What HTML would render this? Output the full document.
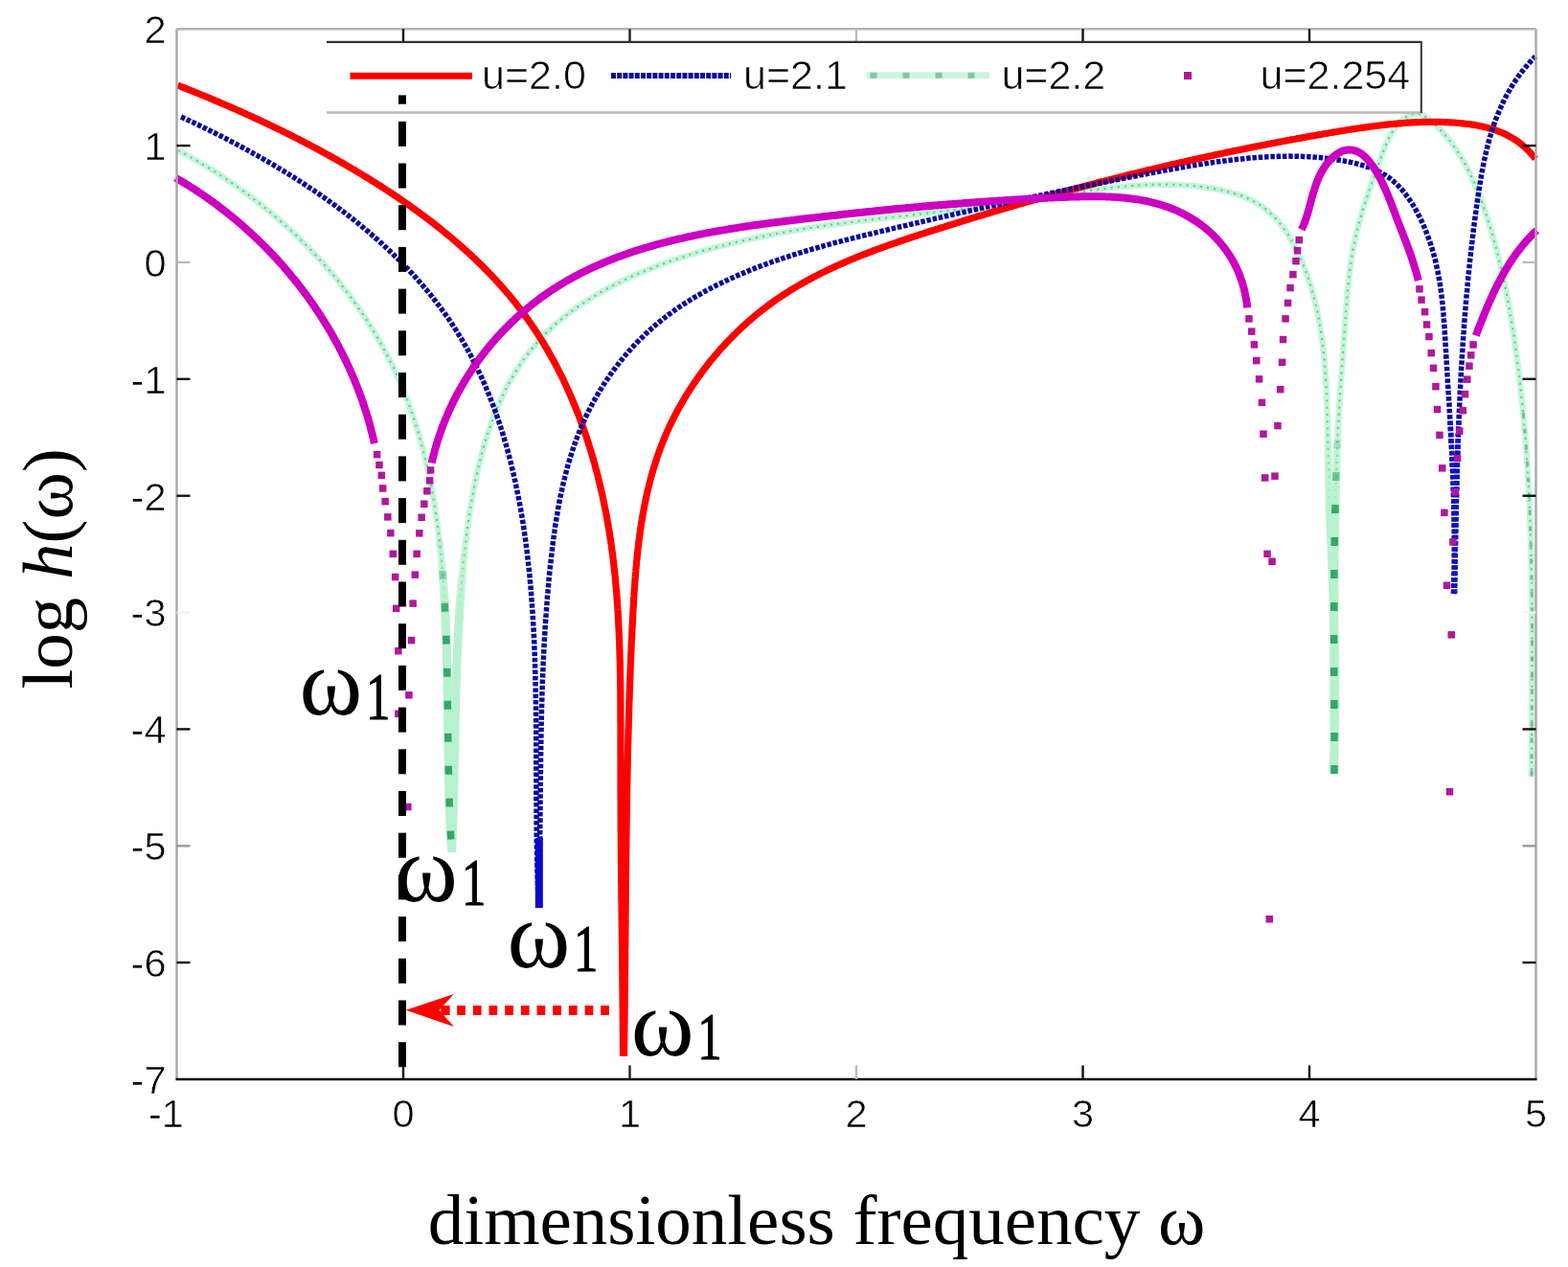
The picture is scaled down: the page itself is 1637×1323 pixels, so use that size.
<!DOCTYPE html>
<html><head><meta charset="utf-8"><style>
html,body{margin:0;padding:0;background:#fff;}
svg{display:block;}
.tk{font-family:"Liberation Sans",Arial,sans-serif;font-size:41.5px;fill:#000;stroke:#fff;stroke-width:0.6px;}
.lg{font-family:"Liberation Sans",Arial,sans-serif;font-size:43px;fill:#000;stroke:#fff;stroke-width:0.7px;}
.tm{font-family:"Liberation Serif","Times New Roman",serif;fill:#000;}
</style></head><body>
<svg width="1637" height="1323" viewBox="0 0 1637 1323">
<rect width="1637" height="1323" fill="#fff"/>
<g fill="none" stroke-linejoin="round" stroke-linecap="butt">
<path d="M186.0,157.0 L187.7,158.0 L189.5,158.9 L191.3,159.9 L193.0,160.8 L194.8,161.8 L196.5,162.8 L198.3,163.7 L200.0,164.7 L201.8,165.7 L203.5,166.7 L205.2,167.7 L207.0,168.7 L208.7,169.7 L210.4,170.8 L212.1,171.8 L213.9,172.8 L215.6,173.9 L217.3,174.9 L219.0,176.0 L220.7,177.0 L222.4,178.1 L224.1,179.2 L225.8,180.3 L227.5,181.4 L229.2,182.4 L230.9,183.6 L232.5,184.7 L234.2,185.8 L235.9,186.9 L237.6,188.0 L239.2,189.2 L240.9,190.3 L242.6,191.4 L244.2,192.6 L245.9,193.7 L247.5,194.9 L249.1,196.1 L250.8,197.3 L252.4,198.4 L254.0,199.6 L255.7,200.8 L257.3,202.0 L258.9,203.2 L260.5,204.4 L262.1,205.7 L263.7,206.9 L265.3,208.1 L266.9,209.3 L268.5,210.6 L270.1,211.8 L271.7,213.1 L273.3,214.4 L274.9,215.6 L276.4,216.9 L278.0,218.2 L279.5,219.5 L281.1,220.7 L282.6,222.0 L284.2,223.3 L285.7,224.6 L287.3,226.0 L288.8,227.3 L290.3,228.6 L291.8,229.9 L293.4,231.3 L294.9,232.6 L296.4,233.9 L297.9,235.3 L299.4,236.7 L300.9,238.0 L302.3,239.4 L303.8,240.8 L305.3,242.1 L306.8,243.5 L308.2,244.9 L309.7,246.3 L311.1,247.7 L312.6,249.1 L314.0,250.5 L315.5,252.0 L316.9,253.4 L318.3,254.8 L319.7,256.2 L321.2,257.7 L322.6,259.1 L324.0,260.6 L325.4,262.0 L326.8,263.5 L328.1,265.0 L329.5,266.4 L330.9,267.9 L332.3,269.4 L333.6,270.9 L335.0,272.4 L336.3,273.8 L337.7,275.3 L339.0,276.9 L340.3,278.4 L341.7,279.9 L343.0,281.4 L344.3,282.9 L345.6,284.5 L346.9,286.0 L348.2,287.5 L349.5,289.1 L350.7,290.6 L352.0,292.2 L353.3,293.7 L354.5,295.3 L355.8,296.9 L357.0,298.4 L358.3,300.0 L359.5,301.6 L360.7,303.2 L362.0,304.8 L363.2,306.4 L364.4,308.0 L365.6,309.6 L366.8,311.2 L367.9,312.8 L369.1,314.4 L370.3,316.1 L371.5,317.7 L372.6,319.3 L373.8,321.0 L374.9,322.6 L376.0,324.2 L377.2,325.9 L378.3,327.5 L379.4,329.2 L380.5,330.9 L381.6,332.5 L382.7,334.2 L383.8,335.9 L384.9,337.6 L385.9,339.2 L387.0,340.9 L388.0,342.6 L389.1,344.3 L390.1,346.0 L391.1,347.7 L392.2,349.4 L393.2,351.1 L394.2,352.9 L395.2,354.6 L396.2,356.3 L397.2,358.0 L398.1,359.8 L399.1,361.5 L400.1,363.2 L401.0,365.0 L401.9,366.7 L402.9,368.5 L403.8,370.2 L404.7,372.0 L405.6,373.7 L406.5,375.5 L407.4,377.3 L408.3,379.1 L409.2,380.8 L410.1,382.6 L410.9,384.4 L411.8,386.2 L412.6,388.0 L413.4,389.8 L414.3,391.6 L415.1,393.4 L415.9,395.2 L416.7,397.0 L417.5,398.8 L418.3,400.6 L419.0,402.4 L419.8,404.2 L420.5,406.1 L421.3,407.9 L422.0,409.7 L422.8,411.6 L423.5,413.4 L424.2,415.2 L424.9,417.1 L425.6,418.9 L426.3,420.8 L427.0,422.6 L427.7,424.5 L428.3,426.3 L429.0,428.2 L429.6,430.1 L430.3,431.9 L430.9,433.8 L431.6,435.7 L432.2,437.5 L432.8,439.4 L433.4,441.3 L434.0,443.2 L434.6,445.1 L435.2,447.0 L435.8,448.9 L436.3,450.8 L436.9,452.7 L437.4,454.6 L438.0,456.5 L438.5,458.4 L439.1,460.3 L439.6,462.2 L440.1,464.1 L440.6,466.0 L441.1,467.9 L441.7,469.8 L442.1,471.8 L442.6,473.7 L443.1,475.6 L443.6,477.5 L444.1,479.5 L444.5,481.4 L445.0,483.3 L445.4,485.3 L445.9,487.2 L446.3,489.2 L446.7,491.1 L447.2,493.1 L447.6,495.0 L448.0,497.0 L448.4,498.9 L448.8,500.9 L449.2,502.8 L449.6,504.8 L450.0,506.7 L450.3,508.7 L450.7,510.7 L451.1,512.6 L451.4,514.6 L451.8,516.6 L452.1,518.5 L452.5,520.5 L452.8,522.5 L453.2,524.5 L453.5,526.4 L453.8,528.4 L454.1,530.4 L454.4,532.4 L454.7,534.4 L455.0,536.3 L455.3,538.3 L455.6,540.3 L455.9,542.3 L456.2,544.3 L456.5,546.3 L456.7,548.3 L457.0,550.3 L457.3,552.3 L457.5,554.3 L457.8,556.3 L458.0,558.3 L458.3,560.3 L458.5,562.3 L458.8,564.3 L459.0,566.3 L459.2,568.3 L459.4,570.3 L459.6,572.3 L459.9,574.3 L460.1,576.3 L460.3,578.3 L460.5,580.4 L460.7,582.4 L460.9,584.4 L461.1,586.4 L461.2,588.4 L461.4,590.4 L461.6,592.4 L461.8,594.5 L461.9,596.5 L462.1,598.5 L462.3,600.5 L462.4,602.5 L462.6,604.6 L462.7,606.6 L462.9,608.6 L463.0,610.6 L463.2,612.7 L463.3,614.7 L463.4,616.7 L463.6,618.7 L463.7,620.8 L463.8,622.8 L463.9,624.8 L464.1,626.8 L464.2,628.9 L464.3,630.9 L464.4,632.9 L464.5,635.0 L464.6,637.0 L464.7,639.0 L464.8,641.0 L464.9,643.1 L465.0,645.1 L465.1,647.1 L465.2,649.2 L465.3,651.2 L465.4,653.2 L465.4,655.3 L465.5,657.3 L465.6,659.3 L465.7,661.4 L465.8,663.4 L465.8,665.4 L465.9,667.5 L466.0,669.5 L466.0,671.5 L466.1,673.6 L466.1,675.6 L466.2,677.6 L466.3,679.7 L466.3,681.7 L466.4,683.7 L466.4,685.8 L466.5,687.8 L466.5,689.8 L466.6,691.9 L466.6,693.9 L466.7,695.9 L466.7,698.0 L466.8,700.0 L466.8,702.0 L466.8,704.1 L466.9,706.1 L466.9,708.1 L467.0,710.2 L467.0,712.2 L467.0,714.2 L467.1,716.3 L467.1,718.3 L467.1,720.3 L467.1,722.4 L467.2,724.4 L467.2,726.4 L467.2,728.4 L467.3,730.5 L467.3,732.5 L467.3,734.5 L467.3,736.6 L467.4,738.6 L467.4,740.6 L467.4,742.6 L467.5,744.7 L467.5,746.7 L467.5,748.7 L467.5,750.7 L467.6,752.8 L467.6,754.8 L467.6,756.8 L467.6,758.8 L467.7,760.8 L467.7,762.9 L467.7,764.9 L467.7,766.9 L467.8,768.9 L467.8,770.9 L467.8,773.0 L467.8,775.0 L467.9,777.0 L467.9,779.0 L467.9,781.0 L467.9,783.0 L468.0,785.0 L468.0,787.1 L468.0,789.1 L468.1,791.1 L468.1,793.1 L468.1,795.1 L468.2,797.1 L468.2,799.1 L468.2,801.1 L468.3,803.1 L468.3,805.1 L468.4,807.1 L468.4,809.1 L468.4,811.1 L468.5,813.1 L468.5,815.1 L468.6,817.1 L468.6,819.1 L468.7,821.1 L468.7,823.1 L468.8,825.1 L468.8,827.1 L468.9,829.0 L468.9,831.0 L469.0,833.0 L469.1,835.0 L469.1,837.0 L469.2,839.0 L469.3,841.0 L469.3,842.9 L469.4,844.9 L469.5,846.9 L469.5,848.9 L469.6,850.8 L469.7,852.8 L469.8,854.8 L469.9,856.7 L470.0,858.7 L470.0,860.7 L470.1,862.6 L470.2,864.6 L470.3,866.6 L470.4,868.5 L470.5,870.5 L470.6,872.4 L470.7,874.4 L470.9,876.4 L471.0,878.3 L471.1,880.3 L471.2,882.2 L471.3,884.2 L471.5,886.1 L471.6,888.0 L471.7,890.0 M471.7,890.0 L471.8,887.9 L471.9,885.8 L471.9,883.7 L472.0,881.7 L472.1,879.6 L472.2,877.5 L472.2,875.4 L472.3,873.3 L472.4,871.3 L472.4,869.2 L472.5,867.1 L472.6,865.1 L472.6,863.0 L472.7,861.0 L472.8,858.9 L472.8,856.9 L472.9,854.8 L472.9,852.8 L473.0,850.8 L473.1,848.7 L473.1,846.7 L473.2,844.6 L473.2,842.6 L473.3,840.6 L473.3,838.6 L473.4,836.5 L473.4,834.5 L473.5,832.5 L473.5,830.5 L473.6,828.5 L473.6,826.5 L473.7,824.5 L473.7,822.5 L473.8,820.5 L473.8,818.5 L473.9,816.5 L473.9,814.5 L473.9,812.5 L474.0,810.5 L474.0,808.5 L474.1,806.5 L474.1,804.5 L474.1,802.5 L474.2,800.5 L474.2,798.5 L474.3,796.6 L474.3,794.6 L474.4,792.6 L474.4,790.6 L474.4,788.6 L474.5,786.7 L474.5,784.7 L474.6,782.7 L474.6,780.8 L474.6,778.8 L474.7,776.8 L474.7,774.9 L474.8,772.9 L474.8,770.9 L474.8,769.0 L474.9,767.0 L474.9,765.0 L475.0,763.1 L475.0,761.1 L475.0,759.2 L475.1,757.2 L475.1,755.2 L475.2,753.3 L475.2,751.3 L475.3,749.4 L475.3,747.4 L475.4,745.5 L475.4,743.5 L475.5,741.6 L475.5,739.6 L475.6,737.7 L475.6,735.7 L475.7,733.8 L475.7,731.8 L475.8,729.9 L475.8,727.9 L475.9,726.0 L475.9,724.0 L476.0,722.1 L476.0,720.1 L476.1,718.2 L476.2,716.2 L476.2,714.3 L476.3,712.3 L476.3,710.4 L476.4,708.4 L476.5,706.5 L476.5,704.5 L476.6,702.5 L476.7,700.6 L476.7,698.6 L476.8,696.7 L476.9,694.7 L477.0,692.8 L477.0,690.8 L477.1,688.9 L477.2,686.9 L477.3,685.0 L477.4,683.0 L477.5,681.0 L477.5,679.1 L477.6,677.1 L477.7,675.2 L477.8,673.2 L477.9,671.2 L478.0,669.3 L478.1,667.3 L478.2,665.4 L478.3,663.4 L478.4,661.4 L478.5,659.4 L478.6,657.5 L478.7,655.5 L478.8,653.5 L478.9,651.6 L479.1,649.6 L479.2,647.6 L479.3,645.6 L479.4,643.6 L479.5,641.7 L479.7,639.7 L479.8,637.7 L479.9,635.7 L480.1,633.7 L480.2,631.7 L480.3,629.7 L480.5,627.7 L480.6,625.7 L480.8,623.8 L480.9,621.8 L481.1,619.8 L481.2,617.7 L481.4,615.7 L481.6,613.7 L481.7,611.7 L481.9,609.7 L482.1,607.7 L482.2,605.7 L482.4,603.7 L482.6,601.6 L482.8,599.6 L482.9,597.6 L483.1,595.6 L483.3,593.5 L483.5,591.5 L483.7,589.5 L483.9,587.4 L484.1,585.4 L484.3,583.3 L484.5,581.3 L484.8,579.2 L485.0,577.2 L485.2,575.1 L485.4,573.1 L485.6,571.0 L485.9,569.0 L486.1,566.9 L486.4,564.9 L486.6,562.8 L486.9,560.8 L487.1,558.7 L487.4,556.6 L487.6,554.6 L487.9,552.5 L488.2,550.5 L488.5,548.4 L488.8,546.3 L489.0,544.3 L489.3,542.2 L489.6,540.2 L489.9,538.1 L490.3,536.1 L490.6,534.0 L490.9,531.9 L491.2,529.9 L491.6,527.8 L491.9,525.8 L492.3,523.7 L492.6,521.7 L493.0,519.6 L493.3,517.6 L493.7,515.6 L494.1,513.5 L494.5,511.5 L494.9,509.4 L495.3,507.4 L495.7,505.4 L496.1,503.3 L496.5,501.3 L496.9,499.3 L497.4,497.3 L497.8,495.2 L498.3,493.2 L498.7,491.2 L499.2,489.2 L499.6,487.2 L500.1,485.2 L500.6,483.2 L501.1,481.2 L501.6,479.2 L502.1,477.2 L502.6,475.2 L503.2,473.3 L503.7,471.3 L504.3,469.3 L504.8,467.3 L505.4,465.4 L505.9,463.4 L506.5,461.5 L507.1,459.5 L507.7,457.6 L508.3,455.7 L508.9,453.7 L509.6,451.8 L510.2,449.9 L510.8,448.0 L511.5,446.1 L512.1,444.2 L512.8,442.3 L513.5,440.4 L514.2,438.5 L514.9,436.6 L515.6,434.7 L516.3,432.9 L517.1,431.0 L517.8,429.2 L518.6,427.3 L519.3,425.5 L520.1,423.7 L520.9,421.8 L521.7,420.0 L522.5,418.2 L523.3,416.4 L524.1,414.6 L525.0,412.8 L525.8,411.1 L526.7,409.3 L527.6,407.5 L528.4,405.8 L529.3,404.0 L530.2,402.3 L531.2,400.6 L532.1,398.9 L533.0,397.2 L534.0,395.5 L535.0,393.8 L535.9,392.1 L536.9,390.4 L537.9,388.8 L539.0,387.1 L540.0,385.5 L541.0,383.8 L542.1,382.2 L543.1,380.6 L544.2,379.0 L545.3,377.4 L546.4,375.8 L547.5,374.3 L548.7,372.7 L549.8,371.1 L551.0,369.6 L552.2,368.1 L553.3,366.6 L554.5,365.1 L555.8,363.6 L557.0,362.1 L558.2,360.6 L559.5,359.2 L560.8,357.7 L562.0,356.3 L563.3,354.9 L564.6,353.4 L566.0,352.0 L567.3,350.6 L568.6,349.3 L570.0,347.9 L571.4,346.5 L572.8,345.2 L574.2,343.9 L575.6,342.5 L577.0,341.2 L578.4,339.9 L579.9,338.6 L581.3,337.3 L582.8,336.1 L584.3,334.8 L585.8,333.6 L587.3,332.3 L588.8,331.1 L590.3,329.9 L591.9,328.7 L593.4,327.5 L595.0,326.3 L596.6,325.1 L598.1,324.0 L599.7,322.8 L601.3,321.6 L602.9,320.5 L604.6,319.4 L606.2,318.3 L607.8,317.2 L609.5,316.1 L611.1,315.0 L612.8,313.9 L614.5,312.8 L616.2,311.8 L617.9,310.7 L619.6,309.7 L621.3,308.7 L623.0,307.6 L624.7,306.6 L626.4,305.6 L628.2,304.6 L629.9,303.6 L631.7,302.7 L633.5,301.7 L635.2,300.7 L637.0,299.8 L638.8,298.9 L640.6,297.9 L642.4,297.0 L644.2,296.1 L646.0,295.2 L647.8,294.3 L649.7,293.4 L651.5,292.5 L653.3,291.7 L655.2,290.8 L657.0,289.9 L658.9,289.1 L660.7,288.3 L662.6,287.4 L664.5,286.6 L666.4,285.8 L668.2,285.0 L670.1,284.2 L672.0,283.4 L673.9,282.6 L675.8,281.8 L677.7,281.1 L679.6,280.3 L681.5,279.6 L683.5,278.8 L685.4,278.1 L687.3,277.3 L689.2,276.6 L691.2,275.9 L693.1,275.2 L695.0,274.5 L697.0,273.8 L698.9,273.1 L700.9,272.4 L702.8,271.8 L704.8,271.1 L706.7,270.5 L708.7,269.8 L710.6,269.2 L712.6,268.5 L714.6,267.9 L716.5,267.3 L718.5,266.7 L720.4,266.0 L722.4,265.4 L724.4,264.8 L726.3,264.2 L728.3,263.7 L730.3,263.1 L732.3,262.5 L734.2,261.9 L736.2,261.4 L738.2,260.8 L740.1,260.3 L742.1,259.7 L744.1,259.2 L746.0,258.7 L748.0,258.1 L750.0,257.6 L752.0,257.1 L753.9,256.6 L755.9,256.1 L757.9,255.6 L759.8,255.1 L761.8,254.6 L763.8,254.1 L765.7,253.7 L767.7,253.2 L769.6,252.7 L771.6,252.3 L773.6,251.8 L775.5,251.4 L777.5,250.9 L779.5,250.5 L781.4,250.0 L783.4,249.6 L785.3,249.2 L787.3,248.7 L789.3,248.3 L791.2,247.9 L793.2,247.5 L795.1,247.1 L797.1,246.7 L799.1,246.3 L801.0,245.9 L803.0,245.5 L804.9,245.2 L806.9,244.8 L808.8,244.4 L810.8,244.0 L812.8,243.7 L814.7,243.3 L816.7,242.9 L818.6,242.6 L820.6,242.2 L822.5,241.9 L824.5,241.5 L826.5,241.2 L828.4,240.9 L830.4,240.5 L832.3,240.2 L834.3,239.9 L836.2,239.6 L838.2,239.2 L840.1,238.9 L842.1,238.6 L844.0,238.3 L846.0,238.0 L847.9,237.7 L849.9,237.4 L851.9,237.1 L853.8,236.8 L855.8,236.5 L857.7,236.2 L859.7,235.9 L861.6,235.6 L863.6,235.4 L865.5,235.1 L867.5,234.8 L869.4,234.5 L871.4,234.2 L873.3,234.0 L875.3,233.7 L877.3,233.4 L879.2,233.2 L881.2,232.9 L883.1,232.7 L885.1,232.4 L887.0,232.1 L889.0,231.9 L890.9,231.6 L892.9,231.4 L894.8,231.1 L896.8,230.9 L898.8,230.6 L900.7,230.4 L902.7,230.2 L904.6,229.9 L906.6,229.7 L908.5,229.4 L910.5,229.2 L912.5,229.0 L914.4,228.7 L916.4,228.5 L918.3,228.3 L920.3,228.0 L922.2,227.8 L924.2,227.6 L926.2,227.3 L928.1,227.1 L930.1,226.9 L932.0,226.7 L934.0,226.4 L936.0,226.2 L937.9,226.0 L939.9,225.8 L941.9,225.5 L943.8,225.3 L945.8,225.1 L947.7,224.9 L949.7,224.6 L951.7,224.4 L953.6,224.2 L955.6,224.0 L957.6,223.7 L959.5,223.5 L961.5,223.3 L963.5,223.1 L965.4,222.9 L967.4,222.6 L969.4,222.4 L971.4,222.2 L973.3,222.0 L975.3,221.7 L977.3,221.5 L979.2,221.3 L981.2,221.0 L983.2,220.8 L985.2,220.6 L987.1,220.4 L989.1,220.1 L991.1,219.9 L993.1,219.7 L995.0,219.4 L997.0,219.2 L999.0,219.0 L1001.0,218.7 L1003.0,218.5 L1004.9,218.2 L1006.9,218.0 L1008.9,217.8 L1010.9,217.5 L1012.9,217.3 L1014.9,217.0 L1016.9,216.8 L1018.8,216.5 L1020.8,216.3 L1022.8,216.0 L1024.8,215.7 L1026.8,215.5 L1028.8,215.2 L1030.8,215.0 L1032.8,214.7 L1034.8,214.4 L1036.8,214.2 L1038.8,213.9 L1040.8,213.6 L1042.8,213.3 L1044.8,213.1 L1046.8,212.8 L1048.8,212.5 L1050.8,212.2 L1052.8,211.9 L1054.8,211.6 L1056.8,211.3 L1058.8,211.0 L1060.8,210.7 L1062.8,210.4 L1064.8,210.1 L1066.8,209.8 L1068.8,209.5 L1070.8,209.2 L1072.8,208.9 L1074.9,208.6 L1076.9,208.3 L1078.9,207.9 L1080.9,207.6 L1082.9,207.3 L1084.9,207.0 L1086.9,206.7 L1089.0,206.3 L1091.0,206.0 L1093.0,205.7 L1095.0,205.4 L1097.0,205.0 L1099.1,204.7 L1101.1,204.4 L1103.1,204.1 L1105.1,203.8 L1107.1,203.4 L1109.2,203.1 L1111.2,202.8 L1113.2,202.5 L1115.2,202.2 L1117.3,201.9 L1119.3,201.6 L1121.3,201.3 L1123.3,201.0 L1125.4,200.7 L1127.4,200.4 L1129.4,200.1 L1131.4,199.8 L1133.4,199.5 L1135.5,199.2 L1137.5,198.9 L1139.5,198.6 L1141.5,198.4 L1143.6,198.1 L1145.6,197.8 L1147.6,197.6 L1149.6,197.3 L1151.6,197.1 L1153.7,196.8 L1155.7,196.6 L1157.7,196.4 L1159.7,196.1 L1161.7,195.9 L1163.7,195.7 L1165.8,195.5 L1167.8,195.3 L1169.8,195.1 L1171.8,194.9 L1173.8,194.7 L1175.8,194.5 L1177.8,194.4 L1179.9,194.2 L1181.9,194.0 L1183.9,193.9 L1185.9,193.8 L1187.9,193.6 L1189.9,193.5 L1191.9,193.4 L1193.9,193.3 L1195.9,193.2 L1197.9,193.1 L1199.9,193.0 L1201.9,192.9 L1203.9,192.9 L1205.9,192.8 L1207.9,192.8 L1209.9,192.8 L1211.9,192.7 L1213.9,192.7 L1215.9,192.7 L1217.8,192.7 L1219.8,192.8 L1221.8,192.8 L1223.8,192.9 L1225.8,192.9 L1227.8,193.0 L1229.7,193.1 L1231.7,193.1 L1233.7,193.3 L1235.7,193.4 L1237.6,193.5 L1239.6,193.6 L1241.6,193.8 L1243.5,194.0 L1245.5,194.1 L1247.5,194.3 L1249.4,194.5 L1251.4,194.8 L1253.3,195.0 L1255.3,195.2 L1257.2,195.5 L1259.2,195.8 L1261.1,196.1 L1263.1,196.4 L1265.0,196.7 L1267.0,197.0 L1268.9,197.4 L1270.8,197.8 L1272.8,198.1 L1274.7,198.5 L1276.6,199.0 L1278.5,199.4 L1280.5,199.9 L1282.4,200.3 L1284.3,200.8 L1286.2,201.3 L1288.1,201.9 L1289.9,202.5 L1291.8,203.1 L1293.6,203.7 L1295.5,204.3 L1297.3,205.0 L1299.1,205.7 L1300.9,206.5 L1302.7,207.3 L1304.5,208.1 L1306.2,208.9 L1308.0,209.8 L1309.7,210.7 L1311.4,211.7 L1313.0,212.7 L1314.7,213.7 L1316.3,214.8 L1317.9,215.9 L1319.5,217.0 L1321.1,218.2 L1322.6,219.4 L1324.1,220.7 L1325.6,221.9 L1327.0,223.3 L1328.4,224.6 L1329.8,226.0 L1331.2,227.4 L1332.5,228.9 L1333.8,230.4 L1335.1,231.9 L1336.4,233.4 L1337.6,235.0 L1338.8,236.5 L1340.0,238.2 L1341.2,239.8 L1342.3,241.4 L1343.5,243.1 L1344.6,244.8 L1345.6,246.5 L1346.7,248.3 L1347.7,250.0 L1348.7,251.8 L1349.7,253.6 L1350.7,255.4 L1351.7,257.2 L1352.6,259.0 L1353.5,260.8 L1354.4,262.6 L1355.3,264.5 L1356.2,266.3 L1357.0,268.2 L1357.9,270.0 L1358.7,271.9 L1359.5,273.8 L1360.3,275.7 L1361.0,277.6 L1361.8,279.4 L1362.5,281.3 L1363.2,283.2 L1363.9,285.2 L1364.6,287.1 L1365.3,289.0 L1365.9,290.9 L1366.6,292.8 L1367.2,294.8 L1367.8,296.7 L1368.4,298.6 L1369.0,300.6 L1369.6,302.5 L1370.1,304.5 L1370.7,306.4 L1371.2,308.4 L1371.7,310.3 L1372.2,312.3 L1372.7,314.2 L1373.2,316.2 L1373.7,318.2 L1374.1,320.2 L1374.6,322.1 L1375.0,324.1 L1375.4,326.1 L1375.8,328.0 L1376.2,330.0 L1376.6,332.0 L1377.0,334.0 L1377.3,336.0 L1377.7,337.9 L1378.0,339.9 L1378.4,341.9 L1378.7,343.9 L1379.0,345.9 L1379.3,347.8 L1379.6,349.8 L1379.9,351.8 L1380.2,353.8 L1380.4,355.8 L1380.7,357.8 L1380.9,359.8 L1381.2,361.7 L1381.4,363.7 L1381.6,365.7 L1381.8,367.7 L1382.0,369.7 L1382.2,371.7 L1382.4,373.7 L1382.6,375.7 L1382.8,377.6 L1383.0,379.6 L1383.1,381.6 L1383.3,383.6 L1383.5,385.6 L1383.6,387.6 L1383.7,389.6 L1383.9,391.6 L1384.0,393.6 L1384.1,395.6 L1384.2,397.6 L1384.4,399.5 L1384.5,401.5 L1384.6,403.5 L1384.7,405.5 L1384.8,407.5 L1384.8,409.5 L1384.9,411.5 L1385.0,413.5 L1385.1,415.5 L1385.2,417.5 L1385.2,419.5 L1385.3,421.5 L1385.4,423.5 L1385.4,425.5 L1385.5,427.5 L1385.6,429.5 L1385.6,431.5 L1385.7,433.5 L1385.7,435.5 L1385.8,437.5 L1385.8,439.5 L1385.9,441.5 L1385.9,443.5 L1386.0,445.5 L1386.0,447.5 L1386.1,449.5 L1386.1,451.5 L1386.2,453.5 L1386.2,455.4 L1386.2,457.4 L1386.3,459.4 L1386.3,461.4 L1386.4,463.4 L1386.4,465.4 L1386.5,467.4 L1386.5,469.4 L1386.6,471.4 L1386.6,473.4 L1386.7,475.4 L1386.7,477.4 L1386.8,479.4 L1386.9,481.4 L1386.9,483.4 L1387.0,485.5 L1387.0,487.5 L1387.1,489.5 L1387.1,491.5 L1387.2,493.5 L1387.3,495.5 L1387.3,497.5 L1387.4,499.5 L1387.5,501.5 L1387.5,503.5 L1387.6,505.5 L1387.7,507.5 L1387.7,509.5 L1387.8,511.5 L1387.9,513.5 L1387.9,515.5 L1388.0,517.5 L1388.1,519.5 L1388.1,521.5 L1388.2,523.5 L1388.3,525.5 L1388.4,527.5 L1388.4,529.5 L1388.5,531.5 L1388.6,533.5 L1388.7,535.5 L1388.7,537.5 L1388.8,539.5 L1388.9,541.5 L1388.9,543.5 L1389.0,545.5 L1389.1,547.5 L1389.2,549.5 L1389.3,551.5 L1389.3,553.5 L1389.4,555.5 L1389.5,557.5 L1389.6,559.5 L1389.6,561.5 L1389.7,563.5 L1389.8,565.5 L1389.9,567.5 L1389.9,569.6 L1390.0,571.6 L1390.1,573.6 L1390.2,575.6 L1390.2,577.6 L1390.3,579.6 L1390.4,581.6 L1390.5,583.6 L1390.5,585.6 L1390.6,587.6 L1390.7,589.6 L1390.8,591.6 L1390.8,593.6 L1390.9,595.6 L1391.0,597.6 L1391.1,599.6 L1391.1,601.6 L1391.2,603.6 L1391.3,605.6 L1391.3,607.6 L1391.4,609.6 L1391.5,611.6 L1391.6,613.6 L1391.6,615.6 L1391.7,617.7 L1391.8,619.7 L1391.8,621.7 L1391.9,623.7 L1392.0,625.7 L1392.0,627.7 L1392.1,629.7 L1392.1,631.7 L1392.2,633.7 L1392.3,635.7 L1392.3,637.7 L1392.4,639.7 L1392.5,641.7 L1392.5,643.7 L1392.6,645.7 L1392.6,647.7 L1392.7,649.7 L1392.7,651.7 L1392.8,653.7 L1392.8,655.7 L1392.9,657.7 L1392.9,659.7 L1393.0,661.8 L1393.0,663.8 L1393.1,665.8 L1393.1,667.8 L1393.2,669.8 L1393.2,671.8 L1393.3,673.8 L1393.3,675.8 L1393.3,677.8 L1393.4,679.8 L1393.4,681.8 L1393.4,683.8 L1393.5,685.8 L1393.5,687.8 L1393.5,689.8 L1393.6,691.8 L1393.6,693.8 L1393.6,695.8 L1393.7,697.8 L1393.7,699.8 L1393.7,701.8 L1393.7,703.8 L1393.7,705.8 L1393.8,707.9 L1393.8,709.9 L1393.8,711.9 L1393.8,713.9 L1393.8,715.9 L1393.8,717.9 L1393.8,719.9 L1393.8,721.9 L1393.8,723.9 L1393.8,725.9 L1393.8,727.9 L1393.8,729.9 L1393.8,731.9 L1393.8,733.9 L1393.8,735.9 L1393.8,737.9 L1393.8,739.9 L1393.8,741.9 L1393.8,743.9 L1393.7,745.9 L1393.7,747.9 L1393.7,749.9 L1393.7,751.9 L1393.6,753.9 L1393.6,755.9 L1393.6,757.9 L1393.5,759.9 L1393.5,762.0 L1393.5,764.0 L1393.4,766.0 L1393.4,768.0 L1393.3,770.0 L1393.3,772.0 L1393.2,774.0 L1393.2,776.0 L1393.1,778.0 L1393.1,780.0 L1393.0,782.0 L1393.0,784.0 L1392.9,786.0 L1392.8,788.0 L1392.7,790.0 L1392.7,792.0 L1392.6,794.0 L1392.5,796.0 L1392.4,798.0 L1392.4,800.0 L1392.3,802.0 L1392.2,804.0 L1392.1,806.0 L1392.0,808.0 M1393.0,808.0 L1393.0,806.0 L1393.0,803.9 L1393.0,801.9 L1393.0,799.9 L1393.0,797.9 L1393.0,795.8 L1393.0,793.8 L1393.0,791.8 L1393.0,789.8 L1393.0,787.7 L1393.0,785.7 L1393.0,783.7 L1393.0,781.7 L1393.0,779.6 L1393.0,777.6 L1393.0,775.6 L1393.0,773.6 L1393.0,771.6 L1393.0,769.5 L1393.0,767.5 L1393.0,765.5 L1393.0,763.5 L1393.0,761.5 L1393.0,759.4 L1393.0,757.4 L1393.0,755.4 L1393.0,753.4 L1393.0,751.4 L1393.0,749.3 L1393.0,747.3 L1392.9,745.3 L1392.9,743.3 L1392.9,741.3 L1392.9,739.3 L1392.9,737.3 L1392.9,735.2 L1392.9,733.2 L1392.9,731.2 L1392.9,729.2 L1392.9,727.2 L1392.9,725.2 L1392.9,723.2 L1392.9,721.2 L1392.9,719.1 L1392.9,717.1 L1392.9,715.1 L1392.8,713.1 L1392.8,711.1 L1392.8,709.1 L1392.8,707.1 L1392.8,705.1 L1392.8,703.1 L1392.8,701.1 L1392.8,699.1 L1392.8,697.0 L1392.8,695.0 L1392.8,693.0 L1392.8,691.0 L1392.8,689.0 L1392.8,687.0 L1392.8,685.0 L1392.8,683.0 L1392.8,681.0 L1392.8,679.0 L1392.8,677.0 L1392.8,675.0 L1392.7,673.0 L1392.7,671.0 L1392.7,669.0 L1392.7,667.0 L1392.7,665.0 L1392.7,663.0 L1392.7,661.0 L1392.7,659.0 L1392.7,657.0 L1392.7,655.0 L1392.7,653.0 L1392.7,651.0 L1392.7,649.0 L1392.7,647.0 L1392.7,645.0 L1392.7,643.0 L1392.7,641.0 L1392.7,639.0 L1392.8,637.0 L1392.8,635.0 L1392.8,633.0 L1392.8,631.0 L1392.8,629.0 L1392.8,627.0 L1392.8,625.0 L1392.8,623.0 L1392.8,621.0 L1392.8,619.0 L1392.8,617.0 L1392.8,615.0 L1392.8,613.0 L1392.8,611.0 L1392.9,609.0 L1392.9,607.0 L1392.9,605.0 L1392.9,603.0 L1392.9,601.1 L1392.9,599.1 L1392.9,597.1 L1393.0,595.1 L1393.0,593.1 L1393.0,591.1 L1393.0,589.1 L1393.0,587.1 L1393.1,585.1 L1393.1,583.1 L1393.1,581.1 L1393.1,579.1 L1393.1,577.1 L1393.2,575.1 L1393.2,573.1 L1393.2,571.2 L1393.2,569.2 L1393.3,567.2 L1393.3,565.2 L1393.3,563.2 L1393.4,561.2 L1393.4,559.2 L1393.4,557.2 L1393.5,555.2 L1393.5,553.2 L1393.5,551.2 L1393.6,549.3 L1393.6,547.3 L1393.6,545.3 L1393.7,543.3 L1393.7,541.3 L1393.8,539.3 L1393.8,537.3 L1393.8,535.3 L1393.9,533.3 L1393.9,531.3 L1394.0,529.4 L1394.0,527.4 L1394.1,525.4 L1394.1,523.4 L1394.2,521.4 L1394.2,519.4 L1394.3,517.4 L1394.3,515.4 L1394.4,513.4 L1394.4,511.4 L1394.5,509.5 L1394.6,507.5 L1394.6,505.5 L1394.7,503.5 L1394.7,501.5 L1394.8,499.5 L1394.9,497.5 L1394.9,495.5 L1395.0,493.5 L1395.1,491.6 L1395.1,489.6 L1395.2,487.6 L1395.3,485.6 L1395.4,483.6 L1395.4,481.6 L1395.5,479.6 L1395.6,477.6 L1395.7,475.6 L1395.8,473.7 L1395.8,471.7 L1395.9,469.7 L1396.0,467.7 L1396.1,465.7 L1396.2,463.7 L1396.3,461.7 L1396.4,459.7 L1396.5,457.8 L1396.6,455.8 L1396.6,453.8 L1396.7,451.8 L1396.8,449.8 L1396.9,447.8 L1397.0,445.8 L1397.2,443.8 L1397.3,441.8 L1397.4,439.9 L1397.5,437.9 L1397.6,435.9 L1397.7,433.9 L1397.8,431.9 L1397.9,429.9 L1398.0,427.9 L1398.2,425.9 L1398.3,423.9 L1398.4,421.9 L1398.5,420.0 L1398.6,418.0 L1398.8,416.0 L1398.9,414.0 L1399.0,412.0 L1399.2,410.0 L1399.3,408.0 L1399.4,406.0 L1399.5,404.0 L1399.7,402.0 L1399.8,400.1 L1399.9,398.1 L1400.1,396.1 L1400.2,394.1 L1400.4,392.1 L1400.5,390.1 L1400.6,388.1 L1400.8,386.1 L1400.9,384.1 L1401.1,382.1 L1401.2,380.1 L1401.3,378.1 L1401.5,376.2 L1401.6,374.2 L1401.8,372.2 L1401.9,370.2 L1402.1,368.2 L1402.2,366.2 L1402.3,364.2 L1402.5,362.2 L1402.6,360.2 L1402.8,358.2 L1402.9,356.2 L1403.1,354.2 L1403.2,352.2 L1403.4,350.2 L1403.5,348.2 L1403.7,346.2 L1403.8,344.2 L1404.0,342.3 L1404.1,340.3 L1404.3,338.3 L1404.4,336.3 L1404.5,334.3 L1404.7,332.3 L1404.8,330.3 L1405.0,328.3 L1405.1,326.3 L1405.3,324.3 L1405.4,322.3 L1405.6,320.3 L1405.7,318.3 L1405.9,316.3 L1406.1,314.3 L1406.2,312.3 L1406.4,310.3 L1406.6,308.3 L1406.7,306.3 L1406.9,304.3 L1407.1,302.3 L1407.3,300.3 L1407.5,298.3 L1407.7,296.3 L1407.9,294.3 L1408.1,292.3 L1408.3,290.3 L1408.6,288.3 L1408.8,286.3 L1409.0,284.3 L1409.3,282.3 L1409.5,280.3 L1409.8,278.3 L1410.1,276.3 L1410.4,274.3 L1410.7,272.3 L1411.0,270.3 L1411.3,268.2 L1411.6,266.2 L1411.9,264.2 L1412.3,262.2 L1412.6,260.2 L1413.0,258.2 L1413.4,256.2 L1413.8,254.2 L1414.2,252.2 L1414.6,250.2 L1415.1,248.2 L1415.5,246.2 L1416.0,244.2 L1416.4,242.1 L1416.9,240.1 L1417.4,238.1 L1418.0,236.1 L1418.5,234.1 L1419.0,232.1 L1419.6,230.1 L1420.2,228.1 L1420.7,226.1 L1421.3,224.1 L1421.9,222.1 L1422.5,220.1 L1423.2,218.1 L1423.8,216.1 L1424.4,214.1 L1425.1,212.1 L1425.7,210.2 L1426.4,208.2 L1427.0,206.2 L1427.7,204.3 L1428.3,202.3 L1429.0,200.3 L1429.7,198.4 L1430.4,196.5 L1431.0,194.5 L1431.7,192.6 L1432.4,190.7 L1433.1,188.8 L1433.8,186.9 L1434.4,185.0 L1435.1,183.1 L1435.8,181.2 L1436.5,179.3 L1437.1,177.5 L1437.8,175.6 L1438.5,173.8 L1439.1,171.9 L1439.8,170.1 L1440.4,168.3 L1441.1,166.5 L1441.7,164.7 L1442.4,162.9 L1443.0,161.2 L1443.6,159.4 L1444.3,157.7 L1444.9,155.9 L1445.6,154.2 L1446.3,152.5 L1447.0,150.8 L1447.7,149.2 L1448.4,147.5 L1449.2,145.9 L1450.0,144.2 L1450.9,142.6 L1451.7,141.0 L1452.7,139.4 L1453.6,137.9 L1454.7,136.3 L1455.7,134.8 L1456.9,133.3 L1458.0,131.8 L1459.3,130.3 L1460.6,128.8 L1462.0,127.4 L1463.4,126.0 L1464.9,124.7 L1466.4,123.5 L1468.0,122.4 L1469.6,121.4 L1471.2,120.5 L1472.8,119.8 L1474.5,119.3 L1476.2,118.9 L1477.9,118.7 L1479.6,118.7 L1481.3,119.0 L1483.0,119.4 L1484.7,120.0 L1486.4,120.8 L1488.1,121.8 L1489.7,122.8 L1491.4,124.0 L1493.0,125.3 L1494.7,126.7 L1496.3,128.1 L1497.8,129.6 L1499.4,131.1 L1500.9,132.6 L1502.4,134.1 L1503.9,135.7 L1505.3,137.2 L1506.7,138.8 L1508.1,140.3 L1509.4,141.9 L1510.7,143.5 L1512.0,145.1 L1513.3,146.7 L1514.5,148.3 L1515.8,149.9 L1516.9,151.5 L1518.1,153.1 L1519.3,154.8 L1520.4,156.4 L1521.5,158.0 L1522.6,159.7 L1523.6,161.4 L1524.7,163.0 L1525.7,164.7 L1526.7,166.4 L1527.7,168.1 L1528.6,169.8 L1529.6,171.5 L1530.5,173.2 L1531.4,174.9 L1532.3,176.6 L1533.2,178.3 L1534.0,180.1 L1534.9,181.8 L1535.7,183.6 L1536.5,185.3 L1537.3,187.1 L1538.1,188.8 L1538.9,190.6 L1539.6,192.4 L1540.4,194.2 L1541.1,195.9 L1541.9,197.7 L1542.6,199.5 L1543.3,201.3 L1544.0,203.1 L1544.7,205.0 L1545.4,206.8 L1546.1,208.6 L1546.8,210.4 L1547.4,212.3 L1548.1,214.1 L1548.7,215.9 L1549.4,217.8 L1550.0,219.6 L1550.7,221.5 L1551.3,223.4 L1551.9,225.2 L1552.5,227.1 L1553.1,229.0 L1553.7,230.9 L1554.3,232.7 L1554.9,234.6 L1555.5,236.5 L1556.1,238.4 L1556.7,240.3 L1557.2,242.2 L1557.8,244.1 L1558.4,246.1 L1558.9,248.0 L1559.4,249.9 L1560.0,251.8 L1560.5,253.7 L1561.0,255.7 L1561.6,257.6 L1562.1,259.5 L1562.6,261.5 L1563.1,263.4 L1563.6,265.4 L1564.1,267.3 L1564.6,269.3 L1565.0,271.2 L1565.5,273.2 L1566.0,275.2 L1566.5,277.1 L1566.9,279.1 L1567.4,281.1 L1567.8,283.0 L1568.3,285.0 L1568.7,287.0 L1569.2,289.0 L1569.6,290.9 L1570.0,292.9 L1570.4,294.9 L1570.8,296.9 L1571.3,298.9 L1571.7,300.9 L1572.1,302.9 L1572.5,304.9 L1572.9,306.9 L1573.3,308.9 L1573.6,310.9 L1574.0,312.9 L1574.4,314.9 L1574.8,316.9 L1575.1,318.9 L1575.5,320.9 L1575.9,322.9 L1576.2,324.9 L1576.6,326.9 L1576.9,328.9 L1577.3,330.9 L1577.6,333.0 L1577.9,335.0 L1578.3,337.0 L1578.6,339.0 L1578.9,341.0 L1579.2,343.0 L1579.5,345.1 L1579.9,347.1 L1580.2,349.1 L1580.5,351.1 L1580.8,353.1 L1581.1,355.1 L1581.4,357.2 L1581.7,359.2 L1582.0,361.2 L1582.2,363.2 L1582.5,365.2 L1582.8,367.2 L1583.1,369.3 L1583.4,371.3 L1583.6,373.3 L1583.9,375.3 L1584.2,377.3 L1584.4,379.3 L1584.7,381.3 L1584.9,383.4 L1585.2,385.4 L1585.4,387.4 L1585.7,389.4 L1585.9,391.4 L1586.2,393.4 L1586.4,395.4 L1586.6,397.4 L1586.9,399.4 L1587.1,401.4 L1587.3,403.4 L1587.6,405.4 L1587.8,407.4 L1588.0,409.5 L1588.2,411.5 L1588.4,413.5 L1588.6,415.5 L1588.8,417.5 L1589.1,419.5 L1589.3,421.5 L1589.5,423.5 L1589.7,425.5 L1589.9,427.5 L1590.0,429.5 L1590.2,431.5 L1590.4,433.5 L1590.6,435.5 L1590.8,437.5 L1591.0,439.4 L1591.2,441.4 L1591.3,443.4 L1591.5,445.4 L1591.7,447.4 L1591.8,449.4 L1592.0,451.4 L1592.2,453.4 L1592.3,455.4 L1592.5,457.4 L1592.7,459.4 L1592.8,461.4 L1593.0,463.4 L1593.1,465.4 L1593.3,467.3 L1593.4,469.3 L1593.5,471.3 L1593.7,473.3 L1593.8,475.3 L1594.0,477.3 L1594.1,479.3 L1594.2,481.3 L1594.4,483.3 L1594.5,485.2 L1594.6,487.2 L1594.7,489.2 L1594.9,491.2 L1595.0,493.2 L1595.1,495.2 L1595.2,497.2 L1595.3,499.2 L1595.5,501.1 L1595.6,503.1 L1595.7,505.1 L1595.8,507.1 L1595.9,509.1 L1596.0,511.1 L1596.1,513.1 L1596.2,515.0 L1596.3,517.0 L1596.4,519.0 L1596.5,521.0 L1596.6,523.0 L1596.7,525.0 L1596.7,526.9 L1596.8,528.9 L1596.9,530.9 L1597.0,532.9 L1597.1,534.9 L1597.2,536.9 L1597.2,538.8 L1597.3,540.8 L1597.4,542.8 L1597.5,544.8 L1597.5,546.8 L1597.6,548.8 L1597.7,550.7 L1597.7,552.7 L1597.8,554.7 L1597.9,556.7 L1597.9,558.7 L1598.0,560.6 L1598.1,562.6 L1598.1,564.6 L1598.2,566.6 L1598.2,568.6 L1598.3,570.6 L1598.3,572.5 L1598.4,574.5 L1598.4,576.5 L1598.5,578.5 L1598.5,580.5 L1598.6,582.5 L1598.6,584.4 L1598.7,586.4 L1598.7,588.4 L1598.7,590.4 L1598.8,592.4 L1598.8,594.4 L1598.9,596.3 L1598.9,598.3 L1598.9,600.3 L1599.0,602.3 L1599.0,604.3 L1599.0,606.3 L1599.1,608.2 L1599.1,610.2 L1599.1,612.2 L1599.1,614.2 L1599.2,616.2 L1599.2,618.2 L1599.2,620.2 L1599.2,622.1 L1599.2,624.1 L1599.3,626.1 L1599.3,628.1 L1599.3,630.1 L1599.3,632.1 L1599.3,634.1 L1599.4,636.1 L1599.4,638.0 L1599.4,640.0 L1599.4,642.0 L1599.4,644.0 L1599.4,646.0 L1599.4,648.0 L1599.4,650.0 L1599.4,652.0 L1599.5,654.0 L1599.5,656.0 L1599.5,657.9 L1599.5,659.9 L1599.5,661.9 L1599.5,663.9 L1599.5,665.9 L1599.5,667.9 L1599.5,669.9 L1599.5,671.9 L1599.5,673.9 L1599.5,675.9 L1599.5,677.9 L1599.5,679.9 L1599.5,681.9 L1599.5,683.9 L1599.5,685.9 L1599.5,687.9 L1599.5,689.9 L1599.5,691.9 L1599.5,693.9 L1599.5,695.9 L1599.5,697.9 L1599.5,699.9 L1599.5,701.9 L1599.5,703.9 L1599.4,705.9 L1599.4,707.9 L1599.4,709.9 L1599.4,711.9 L1599.4,713.9 L1599.4,715.9 L1599.4,717.9 L1599.4,719.9 L1599.4,721.9 L1599.4,723.9 L1599.4,726.0 L1599.4,728.0 L1599.3,730.0 L1599.3,732.0 L1599.3,734.0 L1599.3,736.0 L1599.3,738.0 L1599.3,740.0 L1599.3,742.0 L1599.3,744.1 L1599.3,746.1 L1599.3,748.1 L1599.2,750.1 L1599.2,752.1 L1599.2,754.1 L1599.2,756.2 L1599.2,758.2 L1599.2,760.2 L1599.2,762.2 L1599.2,764.3 L1599.2,766.3 L1599.2,768.3 L1599.1,770.3 L1599.1,772.4 L1599.1,774.4 L1599.1,776.4 L1599.1,778.4 L1599.1,780.5 L1599.1,782.5 L1599.1,784.5 L1599.1,786.6 L1599.1,788.6 L1599.1,790.6 L1599.0,792.7 L1599.0,794.7 L1599.0,796.7 L1599.0,798.8 L1599.0,800.8 L1599.0,802.8 L1599.0,804.9 L1599.0,806.9 L1599.0,809.0 L1599.0,811.0" stroke="#c4f6da" stroke-width="6.5"/>
<path d="M186.0,157.0 L187.7,158.0 L189.5,158.9 L191.3,159.9 L193.0,160.8 L194.8,161.8 L196.5,162.8 L198.3,163.7 L200.0,164.7 L201.8,165.7 L203.5,166.7 L205.2,167.7 L207.0,168.7 L208.7,169.7 L210.4,170.8 L212.1,171.8 L213.9,172.8 L215.6,173.9 L217.3,174.9 L219.0,176.0 L220.7,177.0 L222.4,178.1 L224.1,179.2 L225.8,180.3 L227.5,181.4 L229.2,182.4 L230.9,183.6 L232.5,184.7 L234.2,185.8 L235.9,186.9 L237.6,188.0 L239.2,189.2 L240.9,190.3 L242.6,191.4 L244.2,192.6 L245.9,193.7 L247.5,194.9 L249.1,196.1 L250.8,197.3 L252.4,198.4 L254.0,199.6 L255.7,200.8 L257.3,202.0 L258.9,203.2 L260.5,204.4 L262.1,205.7 L263.7,206.9 L265.3,208.1 L266.9,209.3 L268.5,210.6 L270.1,211.8 L271.7,213.1 L273.3,214.4 L274.9,215.6 L276.4,216.9 L278.0,218.2 L279.5,219.5 L281.1,220.7 L282.6,222.0 L284.2,223.3 L285.7,224.6 L287.3,226.0 L288.8,227.3 L290.3,228.6 L291.8,229.9 L293.4,231.3 L294.9,232.6 L296.4,233.9 L297.9,235.3 L299.4,236.7 L300.9,238.0 L302.3,239.4 L303.8,240.8 L305.3,242.1 L306.8,243.5 L308.2,244.9 L309.7,246.3 L311.1,247.7 L312.6,249.1 L314.0,250.5 L315.5,252.0 L316.9,253.4 L318.3,254.8 L319.7,256.2 L321.2,257.7 L322.6,259.1 L324.0,260.6 L325.4,262.0 L326.8,263.5 L328.1,265.0 L329.5,266.4 L330.9,267.9 L332.3,269.4 L333.6,270.9 L335.0,272.4 L336.3,273.8 L337.7,275.3 L339.0,276.9 L340.3,278.4 L341.7,279.9 L343.0,281.4 L344.3,282.9 L345.6,284.5 L346.9,286.0 L348.2,287.5 L349.5,289.1 L350.7,290.6 L352.0,292.2 L353.3,293.7 L354.5,295.3 L355.8,296.9 L357.0,298.4 L358.3,300.0 L359.5,301.6 L360.7,303.2 L362.0,304.8 L363.2,306.4 L364.4,308.0 L365.6,309.6 L366.8,311.2 L367.9,312.8 L369.1,314.4 L370.3,316.1 L371.5,317.7 L372.6,319.3 L373.8,321.0 L374.9,322.6 L376.0,324.2 L377.2,325.9 L378.3,327.5 L379.4,329.2 L380.5,330.9 L381.6,332.5 L382.7,334.2 L383.8,335.9 L384.9,337.6 L385.9,339.2 L387.0,340.9 L388.0,342.6 L389.1,344.3 L390.1,346.0 L391.1,347.7 L392.2,349.4 L393.2,351.1 L394.2,352.9 L395.2,354.6 L396.2,356.3 L397.2,358.0 L398.1,359.8 L399.1,361.5 L400.1,363.2 L401.0,365.0 L401.9,366.7 L402.9,368.5 L403.8,370.2 L404.7,372.0 L405.6,373.7 L406.5,375.5 L407.4,377.3 L408.3,379.1 L409.2,380.8 L410.1,382.6 L410.9,384.4 L411.8,386.2 L412.6,388.0 L413.4,389.8 L414.3,391.6 L415.1,393.4 L415.9,395.2 L416.7,397.0 L417.5,398.8 L418.3,400.6 L419.0,402.4 L419.8,404.2 L420.5,406.1 L421.3,407.9 L422.0,409.7 L422.8,411.6 L423.5,413.4 L424.2,415.2 L424.9,417.1 L425.6,418.9 L426.3,420.8 L427.0,422.6 L427.7,424.5 L428.3,426.3 L429.0,428.2 L429.6,430.1 L430.3,431.9 L430.9,433.8 L431.6,435.7 L432.2,437.5 L432.8,439.4 L433.4,441.3 L434.0,443.2 L434.6,445.1 L435.2,447.0 L435.8,448.9 L436.3,450.8 L436.9,452.7 L437.4,454.6 L438.0,456.5 L438.5,458.4 L439.1,460.3 L439.6,462.2 L440.1,464.1 L440.6,466.0 L441.1,467.9 L441.7,469.8 L442.1,471.8 L442.6,473.7 L443.1,475.6 L443.6,477.5 L444.1,479.5 L444.5,481.4 L445.0,483.3 L445.4,485.3 L445.9,487.2 L446.3,489.2 L446.7,491.1 L447.2,493.1 L447.6,495.0 L448.0,497.0 L448.4,498.9 L448.8,500.9 L449.2,502.8 L449.6,504.8 L450.0,506.7 L450.3,508.7 L450.7,510.7 L451.1,512.6 L451.4,514.6 L451.8,516.6 L452.1,518.5 L452.5,520.5 L452.8,522.5 L453.2,524.5 L453.5,526.4 L453.8,528.4 L454.1,530.4 L454.4,532.4 L454.7,534.4 L455.0,536.3 L455.3,538.3 L455.6,540.3 L455.9,542.3 L456.2,544.3 L456.5,546.3 L456.7,548.3 L457.0,550.3 L457.3,552.3 L457.5,554.3 L457.8,556.3 L458.0,558.3 L458.3,560.3 L458.5,562.3 L458.8,564.3 L459.0,566.3 L459.2,568.3 L459.4,570.3 L459.6,572.3 L459.9,574.3 L460.1,576.3 L460.3,578.3 L460.5,580.4 L460.7,582.4 L460.9,584.4 L461.1,586.4 L461.2,588.4 L461.4,590.4 L461.6,592.4 L461.8,594.5 L461.9,596.5 L462.1,598.5 L462.3,600.5 L462.4,602.5 L462.6,604.6 L462.7,606.6 L462.9,608.6 L463.0,610.6 L463.2,612.7 L463.3,614.7 L463.4,616.7 L463.6,618.7 L463.7,620.8 L463.8,622.8 L463.9,624.8 L464.1,626.8 L464.2,628.9 L464.3,630.9 L464.4,632.9 L464.5,635.0 L464.6,637.0 L464.7,639.0 L464.8,641.0 L464.9,643.1 L465.0,645.1 L465.1,647.1 L465.2,649.2 L465.3,651.2 L465.4,653.2 L465.4,655.3 L465.5,657.3 L465.6,659.3 L465.7,661.4 L465.8,663.4 L465.8,665.4 L465.9,667.5 L466.0,669.5 L466.0,671.5 L466.1,673.6 L466.1,675.6 L466.2,677.6 L466.3,679.7 L466.3,681.7 L466.4,683.7 L466.4,685.8 L466.5,687.8 L466.5,689.8 L466.6,691.9 L466.6,693.9 L466.7,695.9 L466.7,698.0 L466.8,700.0 L466.8,702.0 L466.8,704.1 L466.9,706.1 L466.9,708.1 L467.0,710.2 L467.0,712.2 L467.0,714.2 L467.1,716.3 L467.1,718.3 L467.1,720.3 L467.1,722.4 L467.2,724.4 L467.2,726.4 L467.2,728.4 L467.3,730.5 L467.3,732.5 L467.3,734.5 L467.3,736.6 L467.4,738.6 L467.4,740.6 L467.4,742.6 L467.5,744.7 L467.5,746.7 L467.5,748.7 L467.5,750.7 L467.6,752.8 L467.6,754.8 L467.6,756.8 L467.6,758.8 L467.7,760.8 L467.7,762.9 L467.7,764.9 L467.7,766.9 L467.8,768.9 L467.8,770.9 L467.8,773.0 L467.8,775.0 L467.9,777.0 L467.9,779.0 L467.9,781.0 L467.9,783.0 L468.0,785.0 L468.0,787.1 L468.0,789.1 L468.1,791.1 L468.1,793.1 L468.1,795.1 L468.2,797.1 L468.2,799.1 L468.2,801.1 L468.3,803.1 L468.3,805.1 L468.4,807.1 L468.4,809.1 L468.4,811.1 L468.5,813.1 L468.5,815.1 L468.6,817.1 L468.6,819.1 L468.7,821.1 L468.7,823.1 L468.8,825.1 L468.8,827.1 L468.9,829.0 L468.9,831.0 L469.0,833.0 L469.1,835.0 L469.1,837.0 L469.2,839.0 L469.3,841.0 L469.3,842.9 L469.4,844.9 L469.5,846.9 L469.5,848.9 L469.6,850.8 L469.7,852.8 L469.8,854.8 L469.9,856.7 L470.0,858.7 L470.0,860.7 L470.1,862.6 L470.2,864.6 L470.3,866.6 L470.4,868.5 L470.5,870.5 L470.6,872.4 L470.7,874.4 L470.9,876.4 L471.0,878.3 L471.1,880.3 L471.2,882.2 L471.3,884.2 L471.5,886.1 L471.6,888.0 L471.7,890.0 M471.7,890.0 L471.8,887.9 L471.9,885.8 L471.9,883.7 L472.0,881.7 L472.1,879.6 L472.2,877.5 L472.2,875.4 L472.3,873.3 L472.4,871.3 L472.4,869.2 L472.5,867.1 L472.6,865.1 L472.6,863.0 L472.7,861.0 L472.8,858.9 L472.8,856.9 L472.9,854.8 L472.9,852.8 L473.0,850.8 L473.1,848.7 L473.1,846.7 L473.2,844.6 L473.2,842.6 L473.3,840.6 L473.3,838.6 L473.4,836.5 L473.4,834.5 L473.5,832.5 L473.5,830.5 L473.6,828.5 L473.6,826.5 L473.7,824.5 L473.7,822.5 L473.8,820.5 L473.8,818.5 L473.9,816.5 L473.9,814.5 L473.9,812.5 L474.0,810.5 L474.0,808.5 L474.1,806.5 L474.1,804.5 L474.1,802.5 L474.2,800.5 L474.2,798.5 L474.3,796.6 L474.3,794.6 L474.4,792.6 L474.4,790.6 L474.4,788.6 L474.5,786.7 L474.5,784.7 L474.6,782.7 L474.6,780.8 L474.6,778.8 L474.7,776.8 L474.7,774.9 L474.8,772.9 L474.8,770.9 L474.8,769.0 L474.9,767.0 L474.9,765.0 L475.0,763.1 L475.0,761.1 L475.0,759.2 L475.1,757.2 L475.1,755.2 L475.2,753.3 L475.2,751.3 L475.3,749.4 L475.3,747.4 L475.4,745.5 L475.4,743.5 L475.5,741.6 L475.5,739.6 L475.6,737.7 L475.6,735.7 L475.7,733.8 L475.7,731.8 L475.8,729.9 L475.8,727.9 L475.9,726.0 L475.9,724.0 L476.0,722.1 L476.0,720.1 L476.1,718.2 L476.2,716.2 L476.2,714.3 L476.3,712.3 L476.3,710.4 L476.4,708.4 L476.5,706.5 L476.5,704.5 L476.6,702.5 L476.7,700.6 L476.7,698.6 L476.8,696.7 L476.9,694.7 L477.0,692.8 L477.0,690.8 L477.1,688.9 L477.2,686.9 L477.3,685.0 L477.4,683.0 L477.5,681.0 L477.5,679.1 L477.6,677.1 L477.7,675.2 L477.8,673.2 L477.9,671.2 L478.0,669.3 L478.1,667.3 L478.2,665.4 L478.3,663.4 L478.4,661.4 L478.5,659.4 L478.6,657.5 L478.7,655.5 L478.8,653.5 L478.9,651.6 L479.1,649.6 L479.2,647.6 L479.3,645.6 L479.4,643.6 L479.5,641.7 L479.7,639.7 L479.8,637.7 L479.9,635.7 L480.1,633.7 L480.2,631.7 L480.3,629.7 L480.5,627.7 L480.6,625.7 L480.8,623.8 L480.9,621.8 L481.1,619.8 L481.2,617.7 L481.4,615.7 L481.6,613.7 L481.7,611.7 L481.9,609.7 L482.1,607.7 L482.2,605.7 L482.4,603.7 L482.6,601.6 L482.8,599.6 L482.9,597.6 L483.1,595.6 L483.3,593.5 L483.5,591.5 L483.7,589.5 L483.9,587.4 L484.1,585.4 L484.3,583.3 L484.5,581.3 L484.8,579.2 L485.0,577.2 L485.2,575.1 L485.4,573.1 L485.6,571.0 L485.9,569.0 L486.1,566.9 L486.4,564.9 L486.6,562.8 L486.9,560.8 L487.1,558.7 L487.4,556.6 L487.6,554.6 L487.9,552.5 L488.2,550.5 L488.5,548.4 L488.8,546.3 L489.0,544.3 L489.3,542.2 L489.6,540.2 L489.9,538.1 L490.3,536.1 L490.6,534.0 L490.9,531.9 L491.2,529.9 L491.6,527.8 L491.9,525.8 L492.3,523.7 L492.6,521.7 L493.0,519.6 L493.3,517.6 L493.7,515.6 L494.1,513.5 L494.5,511.5 L494.9,509.4 L495.3,507.4 L495.7,505.4 L496.1,503.3 L496.5,501.3 L496.9,499.3 L497.4,497.3 L497.8,495.2 L498.3,493.2 L498.7,491.2 L499.2,489.2 L499.6,487.2 L500.1,485.2 L500.6,483.2 L501.1,481.2 L501.6,479.2 L502.1,477.2 L502.6,475.2 L503.2,473.3 L503.7,471.3 L504.3,469.3 L504.8,467.3 L505.4,465.4 L505.9,463.4 L506.5,461.5 L507.1,459.5 L507.7,457.6 L508.3,455.7 L508.9,453.7 L509.6,451.8 L510.2,449.9 L510.8,448.0 L511.5,446.1 L512.1,444.2 L512.8,442.3 L513.5,440.4 L514.2,438.5 L514.9,436.6 L515.6,434.7 L516.3,432.9 L517.1,431.0 L517.8,429.2 L518.6,427.3 L519.3,425.5 L520.1,423.7 L520.9,421.8 L521.7,420.0 L522.5,418.2 L523.3,416.4 L524.1,414.6 L525.0,412.8 L525.8,411.1 L526.7,409.3 L527.6,407.5 L528.4,405.8 L529.3,404.0 L530.2,402.3 L531.2,400.6 L532.1,398.9 L533.0,397.2 L534.0,395.5 L535.0,393.8 L535.9,392.1 L536.9,390.4 L537.9,388.8 L539.0,387.1 L540.0,385.5 L541.0,383.8 L542.1,382.2 L543.1,380.6 L544.2,379.0 L545.3,377.4 L546.4,375.8 L547.5,374.3 L548.7,372.7 L549.8,371.1 L551.0,369.6 L552.2,368.1 L553.3,366.6 L554.5,365.1 L555.8,363.6 L557.0,362.1 L558.2,360.6 L559.5,359.2 L560.8,357.7 L562.0,356.3 L563.3,354.9 L564.6,353.4 L566.0,352.0 L567.3,350.6 L568.6,349.3 L570.0,347.9 L571.4,346.5 L572.8,345.2 L574.2,343.9 L575.6,342.5 L577.0,341.2 L578.4,339.9 L579.9,338.6 L581.3,337.3 L582.8,336.1 L584.3,334.8 L585.8,333.6 L587.3,332.3 L588.8,331.1 L590.3,329.9 L591.9,328.7 L593.4,327.5 L595.0,326.3 L596.6,325.1 L598.1,324.0 L599.7,322.8 L601.3,321.6 L602.9,320.5 L604.6,319.4 L606.2,318.3 L607.8,317.2 L609.5,316.1 L611.1,315.0 L612.8,313.9 L614.5,312.8 L616.2,311.8 L617.9,310.7 L619.6,309.7 L621.3,308.7 L623.0,307.6 L624.7,306.6 L626.4,305.6 L628.2,304.6 L629.9,303.6 L631.7,302.7 L633.5,301.7 L635.2,300.7 L637.0,299.8 L638.8,298.9 L640.6,297.9 L642.4,297.0 L644.2,296.1 L646.0,295.2 L647.8,294.3 L649.7,293.4 L651.5,292.5 L653.3,291.7 L655.2,290.8 L657.0,289.9 L658.9,289.1 L660.7,288.3 L662.6,287.4 L664.5,286.6 L666.4,285.8 L668.2,285.0 L670.1,284.2 L672.0,283.4 L673.9,282.6 L675.8,281.8 L677.7,281.1 L679.6,280.3 L681.5,279.6 L683.5,278.8 L685.4,278.1 L687.3,277.3 L689.2,276.6 L691.2,275.9 L693.1,275.2 L695.0,274.5 L697.0,273.8 L698.9,273.1 L700.9,272.4 L702.8,271.8 L704.8,271.1 L706.7,270.5 L708.7,269.8 L710.6,269.2 L712.6,268.5 L714.6,267.9 L716.5,267.3 L718.5,266.7 L720.4,266.0 L722.4,265.4 L724.4,264.8 L726.3,264.2 L728.3,263.7 L730.3,263.1 L732.3,262.5 L734.2,261.9 L736.2,261.4 L738.2,260.8 L740.1,260.3 L742.1,259.7 L744.1,259.2 L746.0,258.7 L748.0,258.1 L750.0,257.6 L752.0,257.1 L753.9,256.6 L755.9,256.1 L757.9,255.6 L759.8,255.1 L761.8,254.6 L763.8,254.1 L765.7,253.7 L767.7,253.2 L769.6,252.7 L771.6,252.3 L773.6,251.8 L775.5,251.4 L777.5,250.9 L779.5,250.5 L781.4,250.0 L783.4,249.6 L785.3,249.2 L787.3,248.7 L789.3,248.3 L791.2,247.9 L793.2,247.5 L795.1,247.1 L797.1,246.7 L799.1,246.3 L801.0,245.9 L803.0,245.5 L804.9,245.2 L806.9,244.8 L808.8,244.4 L810.8,244.0 L812.8,243.7 L814.7,243.3 L816.7,242.9 L818.6,242.6 L820.6,242.2 L822.5,241.9 L824.5,241.5 L826.5,241.2 L828.4,240.9 L830.4,240.5 L832.3,240.2 L834.3,239.9 L836.2,239.6 L838.2,239.2 L840.1,238.9 L842.1,238.6 L844.0,238.3 L846.0,238.0 L847.9,237.7 L849.9,237.4 L851.9,237.1 L853.8,236.8 L855.8,236.5 L857.7,236.2 L859.7,235.9 L861.6,235.6 L863.6,235.4 L865.5,235.1 L867.5,234.8 L869.4,234.5 L871.4,234.2 L873.3,234.0 L875.3,233.7 L877.3,233.4 L879.2,233.2 L881.2,232.9 L883.1,232.7 L885.1,232.4 L887.0,232.1 L889.0,231.9 L890.9,231.6 L892.9,231.4 L894.8,231.1 L896.8,230.9 L898.8,230.6 L900.7,230.4 L902.7,230.2 L904.6,229.9 L906.6,229.7 L908.5,229.4 L910.5,229.2 L912.5,229.0 L914.4,228.7 L916.4,228.5 L918.3,228.3 L920.3,228.0 L922.2,227.8 L924.2,227.6 L926.2,227.3 L928.1,227.1 L930.1,226.9 L932.0,226.7 L934.0,226.4 L936.0,226.2 L937.9,226.0 L939.9,225.8 L941.9,225.5 L943.8,225.3 L945.8,225.1 L947.7,224.9 L949.7,224.6 L951.7,224.4 L953.6,224.2 L955.6,224.0 L957.6,223.7 L959.5,223.5 L961.5,223.3 L963.5,223.1 L965.4,222.9 L967.4,222.6 L969.4,222.4 L971.4,222.2 L973.3,222.0 L975.3,221.7 L977.3,221.5 L979.2,221.3 L981.2,221.0 L983.2,220.8 L985.2,220.6 L987.1,220.4 L989.1,220.1 L991.1,219.9 L993.1,219.7 L995.0,219.4 L997.0,219.2 L999.0,219.0 L1001.0,218.7 L1003.0,218.5 L1004.9,218.2 L1006.9,218.0 L1008.9,217.8 L1010.9,217.5 L1012.9,217.3 L1014.9,217.0 L1016.9,216.8 L1018.8,216.5 L1020.8,216.3 L1022.8,216.0 L1024.8,215.7 L1026.8,215.5 L1028.8,215.2 L1030.8,215.0 L1032.8,214.7 L1034.8,214.4 L1036.8,214.2 L1038.8,213.9 L1040.8,213.6 L1042.8,213.3 L1044.8,213.1 L1046.8,212.8 L1048.8,212.5 L1050.8,212.2 L1052.8,211.9 L1054.8,211.6 L1056.8,211.3 L1058.8,211.0 L1060.8,210.7 L1062.8,210.4 L1064.8,210.1 L1066.8,209.8 L1068.8,209.5 L1070.8,209.2 L1072.8,208.9 L1074.9,208.6 L1076.9,208.3 L1078.9,207.9 L1080.9,207.6 L1082.9,207.3 L1084.9,207.0 L1086.9,206.7 L1089.0,206.3 L1091.0,206.0 L1093.0,205.7 L1095.0,205.4 L1097.0,205.0 L1099.1,204.7 L1101.1,204.4 L1103.1,204.1 L1105.1,203.8 L1107.1,203.4 L1109.2,203.1 L1111.2,202.8 L1113.2,202.5 L1115.2,202.2 L1117.3,201.9 L1119.3,201.6 L1121.3,201.3 L1123.3,201.0 L1125.4,200.7 L1127.4,200.4 L1129.4,200.1 L1131.4,199.8 L1133.4,199.5 L1135.5,199.2 L1137.5,198.9 L1139.5,198.6 L1141.5,198.4 L1143.6,198.1 L1145.6,197.8 L1147.6,197.6 L1149.6,197.3 L1151.6,197.1 L1153.7,196.8 L1155.7,196.6 L1157.7,196.4 L1159.7,196.1 L1161.7,195.9 L1163.7,195.7 L1165.8,195.5 L1167.8,195.3 L1169.8,195.1 L1171.8,194.9 L1173.8,194.7 L1175.8,194.5 L1177.8,194.4 L1179.9,194.2 L1181.9,194.0 L1183.9,193.9 L1185.9,193.8 L1187.9,193.6 L1189.9,193.5 L1191.9,193.4 L1193.9,193.3 L1195.9,193.2 L1197.9,193.1 L1199.9,193.0 L1201.9,192.9 L1203.9,192.9 L1205.9,192.8 L1207.9,192.8 L1209.9,192.8 L1211.9,192.7 L1213.9,192.7 L1215.9,192.7 L1217.8,192.7 L1219.8,192.8 L1221.8,192.8 L1223.8,192.9 L1225.8,192.9 L1227.8,193.0 L1229.7,193.1 L1231.7,193.1 L1233.7,193.3 L1235.7,193.4 L1237.6,193.5 L1239.6,193.6 L1241.6,193.8 L1243.5,194.0 L1245.5,194.1 L1247.5,194.3 L1249.4,194.5 L1251.4,194.8 L1253.3,195.0 L1255.3,195.2 L1257.2,195.5 L1259.2,195.8 L1261.1,196.1 L1263.1,196.4 L1265.0,196.7 L1267.0,197.0 L1268.9,197.4 L1270.8,197.8 L1272.8,198.1 L1274.7,198.5 L1276.6,199.0 L1278.5,199.4 L1280.5,199.9 L1282.4,200.3 L1284.3,200.8 L1286.2,201.3 L1288.1,201.9 L1289.9,202.5 L1291.8,203.1 L1293.6,203.7 L1295.5,204.3 L1297.3,205.0 L1299.1,205.7 L1300.9,206.5 L1302.7,207.3 L1304.5,208.1 L1306.2,208.9 L1308.0,209.8 L1309.7,210.7 L1311.4,211.7 L1313.0,212.7 L1314.7,213.7 L1316.3,214.8 L1317.9,215.9 L1319.5,217.0 L1321.1,218.2 L1322.6,219.4 L1324.1,220.7 L1325.6,221.9 L1327.0,223.3 L1328.4,224.6 L1329.8,226.0 L1331.2,227.4 L1332.5,228.9 L1333.8,230.4 L1335.1,231.9 L1336.4,233.4 L1337.6,235.0 L1338.8,236.5 L1340.0,238.2 L1341.2,239.8 L1342.3,241.4 L1343.5,243.1 L1344.6,244.8 L1345.6,246.5 L1346.7,248.3 L1347.7,250.0 L1348.7,251.8 L1349.7,253.6 L1350.7,255.4 L1351.7,257.2 L1352.6,259.0 L1353.5,260.8 L1354.4,262.6 L1355.3,264.5 L1356.2,266.3 L1357.0,268.2 L1357.9,270.0 L1358.7,271.9 L1359.5,273.8 L1360.3,275.7 L1361.0,277.6 L1361.8,279.4 L1362.5,281.3 L1363.2,283.2 L1363.9,285.2 L1364.6,287.1 L1365.3,289.0 L1365.9,290.9 L1366.6,292.8 L1367.2,294.8 L1367.8,296.7 L1368.4,298.6 L1369.0,300.6 L1369.6,302.5 L1370.1,304.5 L1370.7,306.4 L1371.2,308.4 L1371.7,310.3 L1372.2,312.3 L1372.7,314.2 L1373.2,316.2 L1373.7,318.2 L1374.1,320.2 L1374.6,322.1 L1375.0,324.1 L1375.4,326.1 L1375.8,328.0 L1376.2,330.0 L1376.6,332.0 L1377.0,334.0 L1377.3,336.0 L1377.7,337.9 L1378.0,339.9 L1378.4,341.9 L1378.7,343.9 L1379.0,345.9 L1379.3,347.8 L1379.6,349.8 L1379.9,351.8 L1380.2,353.8 L1380.4,355.8 L1380.7,357.8 L1380.9,359.8 L1381.2,361.7 L1381.4,363.7 L1381.6,365.7 L1381.8,367.7 L1382.0,369.7 L1382.2,371.7 L1382.4,373.7 L1382.6,375.7 L1382.8,377.6 L1383.0,379.6 L1383.1,381.6 L1383.3,383.6 L1383.5,385.6 L1383.6,387.6 L1383.7,389.6 L1383.9,391.6 L1384.0,393.6 L1384.1,395.6 L1384.2,397.6 L1384.4,399.5 L1384.5,401.5 L1384.6,403.5 L1384.7,405.5 L1384.8,407.5 L1384.8,409.5 L1384.9,411.5 L1385.0,413.5 L1385.1,415.5 L1385.2,417.5 L1385.2,419.5 L1385.3,421.5 L1385.4,423.5 L1385.4,425.5 L1385.5,427.5 L1385.6,429.5 L1385.6,431.5 L1385.7,433.5 L1385.7,435.5 L1385.8,437.5 L1385.8,439.5 L1385.9,441.5 L1385.9,443.5 L1386.0,445.5 L1386.0,447.5 L1386.1,449.5 L1386.1,451.5 L1386.2,453.5 L1386.2,455.4 L1386.2,457.4 L1386.3,459.4 L1386.3,461.4 L1386.4,463.4 L1386.4,465.4 L1386.5,467.4 L1386.5,469.4 L1386.6,471.4 L1386.6,473.4 L1386.7,475.4 L1386.7,477.4 L1386.8,479.4 L1386.9,481.4 L1386.9,483.4 L1387.0,485.5 L1387.0,487.5 L1387.1,489.5 L1387.1,491.5 L1387.2,493.5 L1387.3,495.5 L1387.3,497.5 L1387.4,499.5 L1387.5,501.5 L1387.5,503.5 L1387.6,505.5 L1387.7,507.5 L1387.7,509.5 L1387.8,511.5 L1387.9,513.5 L1387.9,515.5 L1388.0,517.5 L1388.1,519.5 L1388.1,521.5 L1388.2,523.5 L1388.3,525.5 L1388.4,527.5 L1388.4,529.5 L1388.5,531.5 L1388.6,533.5 L1388.7,535.5 L1388.7,537.5 L1388.8,539.5 L1388.9,541.5 L1388.9,543.5 L1389.0,545.5 L1389.1,547.5 L1389.2,549.5 L1389.3,551.5 L1389.3,553.5 L1389.4,555.5 L1389.5,557.5 L1389.6,559.5 L1389.6,561.5 L1389.7,563.5 L1389.8,565.5 L1389.9,567.5 L1389.9,569.6 L1390.0,571.6 L1390.1,573.6 L1390.2,575.6 L1390.2,577.6 L1390.3,579.6 L1390.4,581.6 L1390.5,583.6 L1390.5,585.6 L1390.6,587.6 L1390.7,589.6 L1390.8,591.6 L1390.8,593.6 L1390.9,595.6 L1391.0,597.6 L1391.1,599.6 L1391.1,601.6 L1391.2,603.6 L1391.3,605.6 L1391.3,607.6 L1391.4,609.6 L1391.5,611.6 L1391.6,613.6 L1391.6,615.6 L1391.7,617.7 L1391.8,619.7 L1391.8,621.7 L1391.9,623.7 L1392.0,625.7 L1392.0,627.7 L1392.1,629.7 L1392.1,631.7 L1392.2,633.7 L1392.3,635.7 L1392.3,637.7 L1392.4,639.7 L1392.5,641.7 L1392.5,643.7 L1392.6,645.7 L1392.6,647.7 L1392.7,649.7 L1392.7,651.7 L1392.8,653.7 L1392.8,655.7 L1392.9,657.7 L1392.9,659.7 L1393.0,661.8 L1393.0,663.8 L1393.1,665.8 L1393.1,667.8 L1393.2,669.8 L1393.2,671.8 L1393.3,673.8 L1393.3,675.8 L1393.3,677.8 L1393.4,679.8 L1393.4,681.8 L1393.4,683.8 L1393.5,685.8 L1393.5,687.8 L1393.5,689.8 L1393.6,691.8 L1393.6,693.8 L1393.6,695.8 L1393.7,697.8 L1393.7,699.8 L1393.7,701.8 L1393.7,703.8 L1393.7,705.8 L1393.8,707.9 L1393.8,709.9 L1393.8,711.9 L1393.8,713.9 L1393.8,715.9 L1393.8,717.9 L1393.8,719.9 L1393.8,721.9 L1393.8,723.9 L1393.8,725.9 L1393.8,727.9 L1393.8,729.9 L1393.8,731.9 L1393.8,733.9 L1393.8,735.9 L1393.8,737.9 L1393.8,739.9 L1393.8,741.9 L1393.8,743.9 L1393.7,745.9 L1393.7,747.9 L1393.7,749.9 L1393.7,751.9 L1393.6,753.9 L1393.6,755.9 L1393.6,757.9 L1393.5,759.9 L1393.5,762.0 L1393.5,764.0 L1393.4,766.0 L1393.4,768.0 L1393.3,770.0 L1393.3,772.0 L1393.2,774.0 L1393.2,776.0 L1393.1,778.0 L1393.1,780.0 L1393.0,782.0 L1393.0,784.0 L1392.9,786.0 L1392.8,788.0 L1392.7,790.0 L1392.7,792.0 L1392.6,794.0 L1392.5,796.0 L1392.4,798.0 L1392.4,800.0 L1392.3,802.0 L1392.2,804.0 L1392.1,806.0 L1392.0,808.0 M1393.0,808.0 L1393.0,806.0 L1393.0,803.9 L1393.0,801.9 L1393.0,799.9 L1393.0,797.9 L1393.0,795.8 L1393.0,793.8 L1393.0,791.8 L1393.0,789.8 L1393.0,787.7 L1393.0,785.7 L1393.0,783.7 L1393.0,781.7 L1393.0,779.6 L1393.0,777.6 L1393.0,775.6 L1393.0,773.6 L1393.0,771.6 L1393.0,769.5 L1393.0,767.5 L1393.0,765.5 L1393.0,763.5 L1393.0,761.5 L1393.0,759.4 L1393.0,757.4 L1393.0,755.4 L1393.0,753.4 L1393.0,751.4 L1393.0,749.3 L1393.0,747.3 L1392.9,745.3 L1392.9,743.3 L1392.9,741.3 L1392.9,739.3 L1392.9,737.3 L1392.9,735.2 L1392.9,733.2 L1392.9,731.2 L1392.9,729.2 L1392.9,727.2 L1392.9,725.2 L1392.9,723.2 L1392.9,721.2 L1392.9,719.1 L1392.9,717.1 L1392.9,715.1 L1392.8,713.1 L1392.8,711.1 L1392.8,709.1 L1392.8,707.1 L1392.8,705.1 L1392.8,703.1 L1392.8,701.1 L1392.8,699.1 L1392.8,697.0 L1392.8,695.0 L1392.8,693.0 L1392.8,691.0 L1392.8,689.0 L1392.8,687.0 L1392.8,685.0 L1392.8,683.0 L1392.8,681.0 L1392.8,679.0 L1392.8,677.0 L1392.8,675.0 L1392.7,673.0 L1392.7,671.0 L1392.7,669.0 L1392.7,667.0 L1392.7,665.0 L1392.7,663.0 L1392.7,661.0 L1392.7,659.0 L1392.7,657.0 L1392.7,655.0 L1392.7,653.0 L1392.7,651.0 L1392.7,649.0 L1392.7,647.0 L1392.7,645.0 L1392.7,643.0 L1392.7,641.0 L1392.7,639.0 L1392.8,637.0 L1392.8,635.0 L1392.8,633.0 L1392.8,631.0 L1392.8,629.0 L1392.8,627.0 L1392.8,625.0 L1392.8,623.0 L1392.8,621.0 L1392.8,619.0 L1392.8,617.0 L1392.8,615.0 L1392.8,613.0 L1392.8,611.0 L1392.9,609.0 L1392.9,607.0 L1392.9,605.0 L1392.9,603.0 L1392.9,601.1 L1392.9,599.1 L1392.9,597.1 L1393.0,595.1 L1393.0,593.1 L1393.0,591.1 L1393.0,589.1 L1393.0,587.1 L1393.1,585.1 L1393.1,583.1 L1393.1,581.1 L1393.1,579.1 L1393.1,577.1 L1393.2,575.1 L1393.2,573.1 L1393.2,571.2 L1393.2,569.2 L1393.3,567.2 L1393.3,565.2 L1393.3,563.2 L1393.4,561.2 L1393.4,559.2 L1393.4,557.2 L1393.5,555.2 L1393.5,553.2 L1393.5,551.2 L1393.6,549.3 L1393.6,547.3 L1393.6,545.3 L1393.7,543.3 L1393.7,541.3 L1393.8,539.3 L1393.8,537.3 L1393.8,535.3 L1393.9,533.3 L1393.9,531.3 L1394.0,529.4 L1394.0,527.4 L1394.1,525.4 L1394.1,523.4 L1394.2,521.4 L1394.2,519.4 L1394.3,517.4 L1394.3,515.4 L1394.4,513.4 L1394.4,511.4 L1394.5,509.5 L1394.6,507.5 L1394.6,505.5 L1394.7,503.5 L1394.7,501.5 L1394.8,499.5 L1394.9,497.5 L1394.9,495.5 L1395.0,493.5 L1395.1,491.6 L1395.1,489.6 L1395.2,487.6 L1395.3,485.6 L1395.4,483.6 L1395.4,481.6 L1395.5,479.6 L1395.6,477.6 L1395.7,475.6 L1395.8,473.7 L1395.8,471.7 L1395.9,469.7 L1396.0,467.7 L1396.1,465.7 L1396.2,463.7 L1396.3,461.7 L1396.4,459.7 L1396.5,457.8 L1396.6,455.8 L1396.6,453.8 L1396.7,451.8 L1396.8,449.8 L1396.9,447.8 L1397.0,445.8 L1397.2,443.8 L1397.3,441.8 L1397.4,439.9 L1397.5,437.9 L1397.6,435.9 L1397.7,433.9 L1397.8,431.9 L1397.9,429.9 L1398.0,427.9 L1398.2,425.9 L1398.3,423.9 L1398.4,421.9 L1398.5,420.0 L1398.6,418.0 L1398.8,416.0 L1398.9,414.0 L1399.0,412.0 L1399.2,410.0 L1399.3,408.0 L1399.4,406.0 L1399.5,404.0 L1399.7,402.0 L1399.8,400.1 L1399.9,398.1 L1400.1,396.1 L1400.2,394.1 L1400.4,392.1 L1400.5,390.1 L1400.6,388.1 L1400.8,386.1 L1400.9,384.1 L1401.1,382.1 L1401.2,380.1 L1401.3,378.1 L1401.5,376.2 L1401.6,374.2 L1401.8,372.2 L1401.9,370.2 L1402.1,368.2 L1402.2,366.2 L1402.3,364.2 L1402.5,362.2 L1402.6,360.2 L1402.8,358.2 L1402.9,356.2 L1403.1,354.2 L1403.2,352.2 L1403.4,350.2 L1403.5,348.2 L1403.7,346.2 L1403.8,344.2 L1404.0,342.3 L1404.1,340.3 L1404.3,338.3 L1404.4,336.3 L1404.5,334.3 L1404.7,332.3 L1404.8,330.3 L1405.0,328.3 L1405.1,326.3 L1405.3,324.3 L1405.4,322.3 L1405.6,320.3 L1405.7,318.3 L1405.9,316.3 L1406.1,314.3 L1406.2,312.3 L1406.4,310.3 L1406.6,308.3 L1406.7,306.3 L1406.9,304.3 L1407.1,302.3 L1407.3,300.3 L1407.5,298.3 L1407.7,296.3 L1407.9,294.3 L1408.1,292.3 L1408.3,290.3 L1408.6,288.3 L1408.8,286.3 L1409.0,284.3 L1409.3,282.3 L1409.5,280.3 L1409.8,278.3 L1410.1,276.3 L1410.4,274.3 L1410.7,272.3 L1411.0,270.3 L1411.3,268.2 L1411.6,266.2 L1411.9,264.2 L1412.3,262.2 L1412.6,260.2 L1413.0,258.2 L1413.4,256.2 L1413.8,254.2 L1414.2,252.2 L1414.6,250.2 L1415.1,248.2 L1415.5,246.2 L1416.0,244.2 L1416.4,242.1 L1416.9,240.1 L1417.4,238.1 L1418.0,236.1 L1418.5,234.1 L1419.0,232.1 L1419.6,230.1 L1420.2,228.1 L1420.7,226.1 L1421.3,224.1 L1421.9,222.1 L1422.5,220.1 L1423.2,218.1 L1423.8,216.1 L1424.4,214.1 L1425.1,212.1 L1425.7,210.2 L1426.4,208.2 L1427.0,206.2 L1427.7,204.3 L1428.3,202.3 L1429.0,200.3 L1429.7,198.4 L1430.4,196.5 L1431.0,194.5 L1431.7,192.6 L1432.4,190.7 L1433.1,188.8 L1433.8,186.9 L1434.4,185.0 L1435.1,183.1 L1435.8,181.2 L1436.5,179.3 L1437.1,177.5 L1437.8,175.6 L1438.5,173.8 L1439.1,171.9 L1439.8,170.1 L1440.4,168.3 L1441.1,166.5 L1441.7,164.7 L1442.4,162.9 L1443.0,161.2 L1443.6,159.4 L1444.3,157.7 L1444.9,155.9 L1445.6,154.2 L1446.3,152.5 L1447.0,150.8 L1447.7,149.2 L1448.4,147.5 L1449.2,145.9 L1450.0,144.2 L1450.9,142.6 L1451.7,141.0 L1452.7,139.4 L1453.6,137.9 L1454.7,136.3 L1455.7,134.8 L1456.9,133.3 L1458.0,131.8 L1459.3,130.3 L1460.6,128.8 L1462.0,127.4 L1463.4,126.0 L1464.9,124.7 L1466.4,123.5 L1468.0,122.4 L1469.6,121.4 L1471.2,120.5 L1472.8,119.8 L1474.5,119.3 L1476.2,118.9 L1477.9,118.7 L1479.6,118.7 L1481.3,119.0 L1483.0,119.4 L1484.7,120.0 L1486.4,120.8 L1488.1,121.8 L1489.7,122.8 L1491.4,124.0 L1493.0,125.3 L1494.7,126.7 L1496.3,128.1 L1497.8,129.6 L1499.4,131.1 L1500.9,132.6 L1502.4,134.1 L1503.9,135.7 L1505.3,137.2 L1506.7,138.8 L1508.1,140.3 L1509.4,141.9 L1510.7,143.5 L1512.0,145.1 L1513.3,146.7 L1514.5,148.3 L1515.8,149.9 L1516.9,151.5 L1518.1,153.1 L1519.3,154.8 L1520.4,156.4 L1521.5,158.0 L1522.6,159.7 L1523.6,161.4 L1524.7,163.0 L1525.7,164.7 L1526.7,166.4 L1527.7,168.1 L1528.6,169.8 L1529.6,171.5 L1530.5,173.2 L1531.4,174.9 L1532.3,176.6 L1533.2,178.3 L1534.0,180.1 L1534.9,181.8 L1535.7,183.6 L1536.5,185.3 L1537.3,187.1 L1538.1,188.8 L1538.9,190.6 L1539.6,192.4 L1540.4,194.2 L1541.1,195.9 L1541.9,197.7 L1542.6,199.5 L1543.3,201.3 L1544.0,203.1 L1544.7,205.0 L1545.4,206.8 L1546.1,208.6 L1546.8,210.4 L1547.4,212.3 L1548.1,214.1 L1548.7,215.9 L1549.4,217.8 L1550.0,219.6 L1550.7,221.5 L1551.3,223.4 L1551.9,225.2 L1552.5,227.1 L1553.1,229.0 L1553.7,230.9 L1554.3,232.7 L1554.9,234.6 L1555.5,236.5 L1556.1,238.4 L1556.7,240.3 L1557.2,242.2 L1557.8,244.1 L1558.4,246.1 L1558.9,248.0 L1559.4,249.9 L1560.0,251.8 L1560.5,253.7 L1561.0,255.7 L1561.6,257.6 L1562.1,259.5 L1562.6,261.5 L1563.1,263.4 L1563.6,265.4 L1564.1,267.3 L1564.6,269.3 L1565.0,271.2 L1565.5,273.2 L1566.0,275.2 L1566.5,277.1 L1566.9,279.1 L1567.4,281.1 L1567.8,283.0 L1568.3,285.0 L1568.7,287.0 L1569.2,289.0 L1569.6,290.9 L1570.0,292.9 L1570.4,294.9 L1570.8,296.9 L1571.3,298.9 L1571.7,300.9 L1572.1,302.9 L1572.5,304.9 L1572.9,306.9 L1573.3,308.9 L1573.6,310.9 L1574.0,312.9 L1574.4,314.9 L1574.8,316.9 L1575.1,318.9 L1575.5,320.9 L1575.9,322.9 L1576.2,324.9 L1576.6,326.9 L1576.9,328.9 L1577.3,330.9 L1577.6,333.0 L1577.9,335.0 L1578.3,337.0 L1578.6,339.0 L1578.9,341.0 L1579.2,343.0 L1579.5,345.1 L1579.9,347.1 L1580.2,349.1 L1580.5,351.1 L1580.8,353.1 L1581.1,355.1 L1581.4,357.2 L1581.7,359.2 L1582.0,361.2 L1582.2,363.2 L1582.5,365.2 L1582.8,367.2 L1583.1,369.3 L1583.4,371.3 L1583.6,373.3 L1583.9,375.3 L1584.2,377.3 L1584.4,379.3 L1584.7,381.3 L1584.9,383.4 L1585.2,385.4 L1585.4,387.4 L1585.7,389.4 L1585.9,391.4 L1586.2,393.4 L1586.4,395.4 L1586.6,397.4 L1586.9,399.4 L1587.1,401.4 L1587.3,403.4 L1587.6,405.4 L1587.8,407.4 L1588.0,409.5 L1588.2,411.5 L1588.4,413.5 L1588.6,415.5 L1588.8,417.5 L1589.1,419.5 L1589.3,421.5 L1589.5,423.5 L1589.7,425.5 L1589.9,427.5 L1590.0,429.5 L1590.2,431.5 L1590.4,433.5 L1590.6,435.5 L1590.8,437.5 L1591.0,439.4 L1591.2,441.4 L1591.3,443.4 L1591.5,445.4 L1591.7,447.4 L1591.8,449.4 L1592.0,451.4 L1592.2,453.4 L1592.3,455.4 L1592.5,457.4 L1592.7,459.4 L1592.8,461.4 L1593.0,463.4 L1593.1,465.4 L1593.3,467.3 L1593.4,469.3 L1593.5,471.3 L1593.7,473.3 L1593.8,475.3 L1594.0,477.3 L1594.1,479.3 L1594.2,481.3 L1594.4,483.3 L1594.5,485.2 L1594.6,487.2 L1594.7,489.2 L1594.9,491.2 L1595.0,493.2 L1595.1,495.2 L1595.2,497.2 L1595.3,499.2 L1595.5,501.1 L1595.6,503.1 L1595.7,505.1 L1595.8,507.1 L1595.9,509.1 L1596.0,511.1 L1596.1,513.1 L1596.2,515.0 L1596.3,517.0 L1596.4,519.0 L1596.5,521.0 L1596.6,523.0 L1596.7,525.0 L1596.7,526.9 L1596.8,528.9 L1596.9,530.9 L1597.0,532.9 L1597.1,534.9 L1597.2,536.9 L1597.2,538.8 L1597.3,540.8 L1597.4,542.8 L1597.5,544.8 L1597.5,546.8 L1597.6,548.8 L1597.7,550.7 L1597.7,552.7 L1597.8,554.7 L1597.9,556.7 L1597.9,558.7 L1598.0,560.6 L1598.1,562.6 L1598.1,564.6 L1598.2,566.6 L1598.2,568.6 L1598.3,570.6 L1598.3,572.5 L1598.4,574.5 L1598.4,576.5 L1598.5,578.5 L1598.5,580.5 L1598.6,582.5 L1598.6,584.4 L1598.7,586.4 L1598.7,588.4 L1598.7,590.4 L1598.8,592.4 L1598.8,594.4 L1598.9,596.3 L1598.9,598.3 L1598.9,600.3 L1599.0,602.3 L1599.0,604.3 L1599.0,606.3 L1599.1,608.2 L1599.1,610.2 L1599.1,612.2 L1599.1,614.2 L1599.2,616.2 L1599.2,618.2 L1599.2,620.2 L1599.2,622.1 L1599.2,624.1 L1599.3,626.1 L1599.3,628.1 L1599.3,630.1 L1599.3,632.1 L1599.3,634.1 L1599.4,636.1 L1599.4,638.0 L1599.4,640.0 L1599.4,642.0 L1599.4,644.0 L1599.4,646.0 L1599.4,648.0 L1599.4,650.0 L1599.4,652.0 L1599.5,654.0 L1599.5,656.0 L1599.5,657.9 L1599.5,659.9 L1599.5,661.9 L1599.5,663.9 L1599.5,665.9 L1599.5,667.9 L1599.5,669.9 L1599.5,671.9 L1599.5,673.9 L1599.5,675.9 L1599.5,677.9 L1599.5,679.9 L1599.5,681.9 L1599.5,683.9 L1599.5,685.9 L1599.5,687.9 L1599.5,689.9 L1599.5,691.9 L1599.5,693.9 L1599.5,695.9 L1599.5,697.9 L1599.5,699.9 L1599.5,701.9 L1599.5,703.9 L1599.4,705.9 L1599.4,707.9 L1599.4,709.9 L1599.4,711.9 L1599.4,713.9 L1599.4,715.9 L1599.4,717.9 L1599.4,719.9 L1599.4,721.9 L1599.4,723.9 L1599.4,726.0 L1599.4,728.0 L1599.3,730.0 L1599.3,732.0 L1599.3,734.0 L1599.3,736.0 L1599.3,738.0 L1599.3,740.0 L1599.3,742.0 L1599.3,744.1 L1599.3,746.1 L1599.3,748.1 L1599.2,750.1 L1599.2,752.1 L1599.2,754.1 L1599.2,756.2 L1599.2,758.2 L1599.2,760.2 L1599.2,762.2 L1599.2,764.3 L1599.2,766.3 L1599.2,768.3 L1599.1,770.3 L1599.1,772.4 L1599.1,774.4 L1599.1,776.4 L1599.1,778.4 L1599.1,780.5 L1599.1,782.5 L1599.1,784.5 L1599.1,786.6 L1599.1,788.6 L1599.1,790.6 L1599.0,792.7 L1599.0,794.7 L1599.0,796.7 L1599.0,798.8 L1599.0,800.8 L1599.0,802.8 L1599.0,804.9 L1599.0,806.9 L1599.0,809.0 L1599.0,811.0" stroke="#78c497" stroke-width="2.2" stroke-dasharray="2.2 5"/>
<linearGradient id="fade" x1="0" y1="0" x2="0" y2="1"><stop offset="0" stop-color="#fff" stop-opacity="0"/><stop offset="0.25" stop-color="#fff" stop-opacity="1"/><stop offset="1" stop-color="#fff" stop-opacity="1"/></linearGradient>
<mask id="steep" maskUnits="userSpaceOnUse" x="0" y="0" width="1637" height="1323"><rect x="452" y="560" width="40" height="335" fill="url(#fade)"/><rect x="1378" y="440" width="28" height="375" fill="url(#fade)"/></mask><clipPath id="steep2"><rect x="1586" y="420" width="20" height="395"/></clipPath><clipPath id="bdip"><rect x="1500" y="440" width="35" height="185"/></clipPath>
<g mask="url(#steep)">
<path d="M186.0,157.0 L187.7,158.0 L189.5,158.9 L191.3,159.9 L193.0,160.8 L194.8,161.8 L196.5,162.8 L198.3,163.7 L200.0,164.7 L201.8,165.7 L203.5,166.7 L205.2,167.7 L207.0,168.7 L208.7,169.7 L210.4,170.8 L212.1,171.8 L213.9,172.8 L215.6,173.9 L217.3,174.9 L219.0,176.0 L220.7,177.0 L222.4,178.1 L224.1,179.2 L225.8,180.3 L227.5,181.4 L229.2,182.4 L230.9,183.6 L232.5,184.7 L234.2,185.8 L235.9,186.9 L237.6,188.0 L239.2,189.2 L240.9,190.3 L242.6,191.4 L244.2,192.6 L245.9,193.7 L247.5,194.9 L249.1,196.1 L250.8,197.3 L252.4,198.4 L254.0,199.6 L255.7,200.8 L257.3,202.0 L258.9,203.2 L260.5,204.4 L262.1,205.7 L263.7,206.9 L265.3,208.1 L266.9,209.3 L268.5,210.6 L270.1,211.8 L271.7,213.1 L273.3,214.4 L274.9,215.6 L276.4,216.9 L278.0,218.2 L279.5,219.5 L281.1,220.7 L282.6,222.0 L284.2,223.3 L285.7,224.6 L287.3,226.0 L288.8,227.3 L290.3,228.6 L291.8,229.9 L293.4,231.3 L294.9,232.6 L296.4,233.9 L297.9,235.3 L299.4,236.7 L300.9,238.0 L302.3,239.4 L303.8,240.8 L305.3,242.1 L306.8,243.5 L308.2,244.9 L309.7,246.3 L311.1,247.7 L312.6,249.1 L314.0,250.5 L315.5,252.0 L316.9,253.4 L318.3,254.8 L319.7,256.2 L321.2,257.7 L322.6,259.1 L324.0,260.6 L325.4,262.0 L326.8,263.5 L328.1,265.0 L329.5,266.4 L330.9,267.9 L332.3,269.4 L333.6,270.9 L335.0,272.4 L336.3,273.8 L337.7,275.3 L339.0,276.9 L340.3,278.4 L341.7,279.9 L343.0,281.4 L344.3,282.9 L345.6,284.5 L346.9,286.0 L348.2,287.5 L349.5,289.1 L350.7,290.6 L352.0,292.2 L353.3,293.7 L354.5,295.3 L355.8,296.9 L357.0,298.4 L358.3,300.0 L359.5,301.6 L360.7,303.2 L362.0,304.8 L363.2,306.4 L364.4,308.0 L365.6,309.6 L366.8,311.2 L367.9,312.8 L369.1,314.4 L370.3,316.1 L371.5,317.7 L372.6,319.3 L373.8,321.0 L374.9,322.6 L376.0,324.2 L377.2,325.9 L378.3,327.5 L379.4,329.2 L380.5,330.9 L381.6,332.5 L382.7,334.2 L383.8,335.9 L384.9,337.6 L385.9,339.2 L387.0,340.9 L388.0,342.6 L389.1,344.3 L390.1,346.0 L391.1,347.7 L392.2,349.4 L393.2,351.1 L394.2,352.9 L395.2,354.6 L396.2,356.3 L397.2,358.0 L398.1,359.8 L399.1,361.5 L400.1,363.2 L401.0,365.0 L401.9,366.7 L402.9,368.5 L403.8,370.2 L404.7,372.0 L405.6,373.7 L406.5,375.5 L407.4,377.3 L408.3,379.1 L409.2,380.8 L410.1,382.6 L410.9,384.4 L411.8,386.2 L412.6,388.0 L413.4,389.8 L414.3,391.6 L415.1,393.4 L415.9,395.2 L416.7,397.0 L417.5,398.8 L418.3,400.6 L419.0,402.4 L419.8,404.2 L420.5,406.1 L421.3,407.9 L422.0,409.7 L422.8,411.6 L423.5,413.4 L424.2,415.2 L424.9,417.1 L425.6,418.9 L426.3,420.8 L427.0,422.6 L427.7,424.5 L428.3,426.3 L429.0,428.2 L429.6,430.1 L430.3,431.9 L430.9,433.8 L431.6,435.7 L432.2,437.5 L432.8,439.4 L433.4,441.3 L434.0,443.2 L434.6,445.1 L435.2,447.0 L435.8,448.9 L436.3,450.8 L436.9,452.7 L437.4,454.6 L438.0,456.5 L438.5,458.4 L439.1,460.3 L439.6,462.2 L440.1,464.1 L440.6,466.0 L441.1,467.9 L441.7,469.8 L442.1,471.8 L442.6,473.7 L443.1,475.6 L443.6,477.5 L444.1,479.5 L444.5,481.4 L445.0,483.3 L445.4,485.3 L445.9,487.2 L446.3,489.2 L446.7,491.1 L447.2,493.1 L447.6,495.0 L448.0,497.0 L448.4,498.9 L448.8,500.9 L449.2,502.8 L449.6,504.8 L450.0,506.7 L450.3,508.7 L450.7,510.7 L451.1,512.6 L451.4,514.6 L451.8,516.6 L452.1,518.5 L452.5,520.5 L452.8,522.5 L453.2,524.5 L453.5,526.4 L453.8,528.4 L454.1,530.4 L454.4,532.4 L454.7,534.4 L455.0,536.3 L455.3,538.3 L455.6,540.3 L455.9,542.3 L456.2,544.3 L456.5,546.3 L456.7,548.3 L457.0,550.3 L457.3,552.3 L457.5,554.3 L457.8,556.3 L458.0,558.3 L458.3,560.3 L458.5,562.3 L458.8,564.3 L459.0,566.3 L459.2,568.3 L459.4,570.3 L459.6,572.3 L459.9,574.3 L460.1,576.3 L460.3,578.3 L460.5,580.4 L460.7,582.4 L460.9,584.4 L461.1,586.4 L461.2,588.4 L461.4,590.4 L461.6,592.4 L461.8,594.5 L461.9,596.5 L462.1,598.5 L462.3,600.5 L462.4,602.5 L462.6,604.6 L462.7,606.6 L462.9,608.6 L463.0,610.6 L463.2,612.7 L463.3,614.7 L463.4,616.7 L463.6,618.7 L463.7,620.8 L463.8,622.8 L463.9,624.8 L464.1,626.8 L464.2,628.9 L464.3,630.9 L464.4,632.9 L464.5,635.0 L464.6,637.0 L464.7,639.0 L464.8,641.0 L464.9,643.1 L465.0,645.1 L465.1,647.1 L465.2,649.2 L465.3,651.2 L465.4,653.2 L465.4,655.3 L465.5,657.3 L465.6,659.3 L465.7,661.4 L465.8,663.4 L465.8,665.4 L465.9,667.5 L466.0,669.5 L466.0,671.5 L466.1,673.6 L466.1,675.6 L466.2,677.6 L466.3,679.7 L466.3,681.7 L466.4,683.7 L466.4,685.8 L466.5,687.8 L466.5,689.8 L466.6,691.9 L466.6,693.9 L466.7,695.9 L466.7,698.0 L466.8,700.0 L466.8,702.0 L466.8,704.1 L466.9,706.1 L466.9,708.1 L467.0,710.2 L467.0,712.2 L467.0,714.2 L467.1,716.3 L467.1,718.3 L467.1,720.3 L467.1,722.4 L467.2,724.4 L467.2,726.4 L467.2,728.4 L467.3,730.5 L467.3,732.5 L467.3,734.5 L467.3,736.6 L467.4,738.6 L467.4,740.6 L467.4,742.6 L467.5,744.7 L467.5,746.7 L467.5,748.7 L467.5,750.7 L467.6,752.8 L467.6,754.8 L467.6,756.8 L467.6,758.8 L467.7,760.8 L467.7,762.9 L467.7,764.9 L467.7,766.9 L467.8,768.9 L467.8,770.9 L467.8,773.0 L467.8,775.0 L467.9,777.0 L467.9,779.0 L467.9,781.0 L467.9,783.0 L468.0,785.0 L468.0,787.1 L468.0,789.1 L468.1,791.1 L468.1,793.1 L468.1,795.1 L468.2,797.1 L468.2,799.1 L468.2,801.1 L468.3,803.1 L468.3,805.1 L468.4,807.1 L468.4,809.1 L468.4,811.1 L468.5,813.1 L468.5,815.1 L468.6,817.1 L468.6,819.1 L468.7,821.1 L468.7,823.1 L468.8,825.1 L468.8,827.1 L468.9,829.0 L468.9,831.0 L469.0,833.0 L469.1,835.0 L469.1,837.0 L469.2,839.0 L469.3,841.0 L469.3,842.9 L469.4,844.9 L469.5,846.9 L469.5,848.9 L469.6,850.8 L469.7,852.8 L469.8,854.8 L469.9,856.7 L470.0,858.7 L470.0,860.7 L470.1,862.6 L470.2,864.6 L470.3,866.6 L470.4,868.5 L470.5,870.5 L470.6,872.4 L470.7,874.4 L470.9,876.4 L471.0,878.3 L471.1,880.3 L471.2,882.2 L471.3,884.2 L471.5,886.1 L471.6,888.0 L471.7,890.0 M471.7,890.0 L471.8,887.9 L471.9,885.8 L471.9,883.7 L472.0,881.7 L472.1,879.6 L472.2,877.5 L472.2,875.4 L472.3,873.3 L472.4,871.3 L472.4,869.2 L472.5,867.1 L472.6,865.1 L472.6,863.0 L472.7,861.0 L472.8,858.9 L472.8,856.9 L472.9,854.8 L472.9,852.8 L473.0,850.8 L473.1,848.7 L473.1,846.7 L473.2,844.6 L473.2,842.6 L473.3,840.6 L473.3,838.6 L473.4,836.5 L473.4,834.5 L473.5,832.5 L473.5,830.5 L473.6,828.5 L473.6,826.5 L473.7,824.5 L473.7,822.5 L473.8,820.5 L473.8,818.5 L473.9,816.5 L473.9,814.5 L473.9,812.5 L474.0,810.5 L474.0,808.5 L474.1,806.5 L474.1,804.5 L474.1,802.5 L474.2,800.5 L474.2,798.5 L474.3,796.6 L474.3,794.6 L474.4,792.6 L474.4,790.6 L474.4,788.6 L474.5,786.7 L474.5,784.7 L474.6,782.7 L474.6,780.8 L474.6,778.8 L474.7,776.8 L474.7,774.9 L474.8,772.9 L474.8,770.9 L474.8,769.0 L474.9,767.0 L474.9,765.0 L475.0,763.1 L475.0,761.1 L475.0,759.2 L475.1,757.2 L475.1,755.2 L475.2,753.3 L475.2,751.3 L475.3,749.4 L475.3,747.4 L475.4,745.5 L475.4,743.5 L475.5,741.6 L475.5,739.6 L475.6,737.7 L475.6,735.7 L475.7,733.8 L475.7,731.8 L475.8,729.9 L475.8,727.9 L475.9,726.0 L475.9,724.0 L476.0,722.1 L476.0,720.1 L476.1,718.2 L476.2,716.2 L476.2,714.3 L476.3,712.3 L476.3,710.4 L476.4,708.4 L476.5,706.5 L476.5,704.5 L476.6,702.5 L476.7,700.6 L476.7,698.6 L476.8,696.7 L476.9,694.7 L477.0,692.8 L477.0,690.8 L477.1,688.9 L477.2,686.9 L477.3,685.0 L477.4,683.0 L477.5,681.0 L477.5,679.1 L477.6,677.1 L477.7,675.2 L477.8,673.2 L477.9,671.2 L478.0,669.3 L478.1,667.3 L478.2,665.4 L478.3,663.4 L478.4,661.4 L478.5,659.4 L478.6,657.5 L478.7,655.5 L478.8,653.5 L478.9,651.6 L479.1,649.6 L479.2,647.6 L479.3,645.6 L479.4,643.6 L479.5,641.7 L479.7,639.7 L479.8,637.7 L479.9,635.7 L480.1,633.7 L480.2,631.7 L480.3,629.7 L480.5,627.7 L480.6,625.7 L480.8,623.8 L480.9,621.8 L481.1,619.8 L481.2,617.7 L481.4,615.7 L481.6,613.7 L481.7,611.7 L481.9,609.7 L482.1,607.7 L482.2,605.7 L482.4,603.7 L482.6,601.6 L482.8,599.6 L482.9,597.6 L483.1,595.6 L483.3,593.5 L483.5,591.5 L483.7,589.5 L483.9,587.4 L484.1,585.4 L484.3,583.3 L484.5,581.3 L484.8,579.2 L485.0,577.2 L485.2,575.1 L485.4,573.1 L485.6,571.0 L485.9,569.0 L486.1,566.9 L486.4,564.9 L486.6,562.8 L486.9,560.8 L487.1,558.7 L487.4,556.6 L487.6,554.6 L487.9,552.5 L488.2,550.5 L488.5,548.4 L488.8,546.3 L489.0,544.3 L489.3,542.2 L489.6,540.2 L489.9,538.1 L490.3,536.1 L490.6,534.0 L490.9,531.9 L491.2,529.9 L491.6,527.8 L491.9,525.8 L492.3,523.7 L492.6,521.7 L493.0,519.6 L493.3,517.6 L493.7,515.6 L494.1,513.5 L494.5,511.5 L494.9,509.4 L495.3,507.4 L495.7,505.4 L496.1,503.3 L496.5,501.3 L496.9,499.3 L497.4,497.3 L497.8,495.2 L498.3,493.2 L498.7,491.2 L499.2,489.2 L499.6,487.2 L500.1,485.2 L500.6,483.2 L501.1,481.2 L501.6,479.2 L502.1,477.2 L502.6,475.2 L503.2,473.3 L503.7,471.3 L504.3,469.3 L504.8,467.3 L505.4,465.4 L505.9,463.4 L506.5,461.5 L507.1,459.5 L507.7,457.6 L508.3,455.7 L508.9,453.7 L509.6,451.8 L510.2,449.9 L510.8,448.0 L511.5,446.1 L512.1,444.2 L512.8,442.3 L513.5,440.4 L514.2,438.5 L514.9,436.6 L515.6,434.7 L516.3,432.9 L517.1,431.0 L517.8,429.2 L518.6,427.3 L519.3,425.5 L520.1,423.7 L520.9,421.8 L521.7,420.0 L522.5,418.2 L523.3,416.4 L524.1,414.6 L525.0,412.8 L525.8,411.1 L526.7,409.3 L527.6,407.5 L528.4,405.8 L529.3,404.0 L530.2,402.3 L531.2,400.6 L532.1,398.9 L533.0,397.2 L534.0,395.5 L535.0,393.8 L535.9,392.1 L536.9,390.4 L537.9,388.8 L539.0,387.1 L540.0,385.5 L541.0,383.8 L542.1,382.2 L543.1,380.6 L544.2,379.0 L545.3,377.4 L546.4,375.8 L547.5,374.3 L548.7,372.7 L549.8,371.1 L551.0,369.6 L552.2,368.1 L553.3,366.6 L554.5,365.1 L555.8,363.6 L557.0,362.1 L558.2,360.6 L559.5,359.2 L560.8,357.7 L562.0,356.3 L563.3,354.9 L564.6,353.4 L566.0,352.0 L567.3,350.6 L568.6,349.3 L570.0,347.9 L571.4,346.5 L572.8,345.2 L574.2,343.9 L575.6,342.5 L577.0,341.2 L578.4,339.9 L579.9,338.6 L581.3,337.3 L582.8,336.1 L584.3,334.8 L585.8,333.6 L587.3,332.3 L588.8,331.1 L590.3,329.9 L591.9,328.7 L593.4,327.5 L595.0,326.3 L596.6,325.1 L598.1,324.0 L599.7,322.8 L601.3,321.6 L602.9,320.5 L604.6,319.4 L606.2,318.3 L607.8,317.2 L609.5,316.1 L611.1,315.0 L612.8,313.9 L614.5,312.8 L616.2,311.8 L617.9,310.7 L619.6,309.7 L621.3,308.7 L623.0,307.6 L624.7,306.6 L626.4,305.6 L628.2,304.6 L629.9,303.6 L631.7,302.7 L633.5,301.7 L635.2,300.7 L637.0,299.8 L638.8,298.9 L640.6,297.9 L642.4,297.0 L644.2,296.1 L646.0,295.2 L647.8,294.3 L649.7,293.4 L651.5,292.5 L653.3,291.7 L655.2,290.8 L657.0,289.9 L658.9,289.1 L660.7,288.3 L662.6,287.4 L664.5,286.6 L666.4,285.8 L668.2,285.0 L670.1,284.2 L672.0,283.4 L673.9,282.6 L675.8,281.8 L677.7,281.1 L679.6,280.3 L681.5,279.6 L683.5,278.8 L685.4,278.1 L687.3,277.3 L689.2,276.6 L691.2,275.9 L693.1,275.2 L695.0,274.5 L697.0,273.8 L698.9,273.1 L700.9,272.4 L702.8,271.8 L704.8,271.1 L706.7,270.5 L708.7,269.8 L710.6,269.2 L712.6,268.5 L714.6,267.9 L716.5,267.3 L718.5,266.7 L720.4,266.0 L722.4,265.4 L724.4,264.8 L726.3,264.2 L728.3,263.7 L730.3,263.1 L732.3,262.5 L734.2,261.9 L736.2,261.4 L738.2,260.8 L740.1,260.3 L742.1,259.7 L744.1,259.2 L746.0,258.7 L748.0,258.1 L750.0,257.6 L752.0,257.1 L753.9,256.6 L755.9,256.1 L757.9,255.6 L759.8,255.1 L761.8,254.6 L763.8,254.1 L765.7,253.7 L767.7,253.2 L769.6,252.7 L771.6,252.3 L773.6,251.8 L775.5,251.4 L777.5,250.9 L779.5,250.5 L781.4,250.0 L783.4,249.6 L785.3,249.2 L787.3,248.7 L789.3,248.3 L791.2,247.9 L793.2,247.5 L795.1,247.1 L797.1,246.7 L799.1,246.3 L801.0,245.9 L803.0,245.5 L804.9,245.2 L806.9,244.8 L808.8,244.4 L810.8,244.0 L812.8,243.7 L814.7,243.3 L816.7,242.9 L818.6,242.6 L820.6,242.2 L822.5,241.9 L824.5,241.5 L826.5,241.2 L828.4,240.9 L830.4,240.5 L832.3,240.2 L834.3,239.9 L836.2,239.6 L838.2,239.2 L840.1,238.9 L842.1,238.6 L844.0,238.3 L846.0,238.0 L847.9,237.7 L849.9,237.4 L851.9,237.1 L853.8,236.8 L855.8,236.5 L857.7,236.2 L859.7,235.9 L861.6,235.6 L863.6,235.4 L865.5,235.1 L867.5,234.8 L869.4,234.5 L871.4,234.2 L873.3,234.0 L875.3,233.7 L877.3,233.4 L879.2,233.2 L881.2,232.9 L883.1,232.7 L885.1,232.4 L887.0,232.1 L889.0,231.9 L890.9,231.6 L892.9,231.4 L894.8,231.1 L896.8,230.9 L898.8,230.6 L900.7,230.4 L902.7,230.2 L904.6,229.9 L906.6,229.7 L908.5,229.4 L910.5,229.2 L912.5,229.0 L914.4,228.7 L916.4,228.5 L918.3,228.3 L920.3,228.0 L922.2,227.8 L924.2,227.6 L926.2,227.3 L928.1,227.1 L930.1,226.9 L932.0,226.7 L934.0,226.4 L936.0,226.2 L937.9,226.0 L939.9,225.8 L941.9,225.5 L943.8,225.3 L945.8,225.1 L947.7,224.9 L949.7,224.6 L951.7,224.4 L953.6,224.2 L955.6,224.0 L957.6,223.7 L959.5,223.5 L961.5,223.3 L963.5,223.1 L965.4,222.9 L967.4,222.6 L969.4,222.4 L971.4,222.2 L973.3,222.0 L975.3,221.7 L977.3,221.5 L979.2,221.3 L981.2,221.0 L983.2,220.8 L985.2,220.6 L987.1,220.4 L989.1,220.1 L991.1,219.9 L993.1,219.7 L995.0,219.4 L997.0,219.2 L999.0,219.0 L1001.0,218.7 L1003.0,218.5 L1004.9,218.2 L1006.9,218.0 L1008.9,217.8 L1010.9,217.5 L1012.9,217.3 L1014.9,217.0 L1016.9,216.8 L1018.8,216.5 L1020.8,216.3 L1022.8,216.0 L1024.8,215.7 L1026.8,215.5 L1028.8,215.2 L1030.8,215.0 L1032.8,214.7 L1034.8,214.4 L1036.8,214.2 L1038.8,213.9 L1040.8,213.6 L1042.8,213.3 L1044.8,213.1 L1046.8,212.8 L1048.8,212.5 L1050.8,212.2 L1052.8,211.9 L1054.8,211.6 L1056.8,211.3 L1058.8,211.0 L1060.8,210.7 L1062.8,210.4 L1064.8,210.1 L1066.8,209.8 L1068.8,209.5 L1070.8,209.2 L1072.8,208.9 L1074.9,208.6 L1076.9,208.3 L1078.9,207.9 L1080.9,207.6 L1082.9,207.3 L1084.9,207.0 L1086.9,206.7 L1089.0,206.3 L1091.0,206.0 L1093.0,205.7 L1095.0,205.4 L1097.0,205.0 L1099.1,204.7 L1101.1,204.4 L1103.1,204.1 L1105.1,203.8 L1107.1,203.4 L1109.2,203.1 L1111.2,202.8 L1113.2,202.5 L1115.2,202.2 L1117.3,201.9 L1119.3,201.6 L1121.3,201.3 L1123.3,201.0 L1125.4,200.7 L1127.4,200.4 L1129.4,200.1 L1131.4,199.8 L1133.4,199.5 L1135.5,199.2 L1137.5,198.9 L1139.5,198.6 L1141.5,198.4 L1143.6,198.1 L1145.6,197.8 L1147.6,197.6 L1149.6,197.3 L1151.6,197.1 L1153.7,196.8 L1155.7,196.6 L1157.7,196.4 L1159.7,196.1 L1161.7,195.9 L1163.7,195.7 L1165.8,195.5 L1167.8,195.3 L1169.8,195.1 L1171.8,194.9 L1173.8,194.7 L1175.8,194.5 L1177.8,194.4 L1179.9,194.2 L1181.9,194.0 L1183.9,193.9 L1185.9,193.8 L1187.9,193.6 L1189.9,193.5 L1191.9,193.4 L1193.9,193.3 L1195.9,193.2 L1197.9,193.1 L1199.9,193.0 L1201.9,192.9 L1203.9,192.9 L1205.9,192.8 L1207.9,192.8 L1209.9,192.8 L1211.9,192.7 L1213.9,192.7 L1215.9,192.7 L1217.8,192.7 L1219.8,192.8 L1221.8,192.8 L1223.8,192.9 L1225.8,192.9 L1227.8,193.0 L1229.7,193.1 L1231.7,193.1 L1233.7,193.3 L1235.7,193.4 L1237.6,193.5 L1239.6,193.6 L1241.6,193.8 L1243.5,194.0 L1245.5,194.1 L1247.5,194.3 L1249.4,194.5 L1251.4,194.8 L1253.3,195.0 L1255.3,195.2 L1257.2,195.5 L1259.2,195.8 L1261.1,196.1 L1263.1,196.4 L1265.0,196.7 L1267.0,197.0 L1268.9,197.4 L1270.8,197.8 L1272.8,198.1 L1274.7,198.5 L1276.6,199.0 L1278.5,199.4 L1280.5,199.9 L1282.4,200.3 L1284.3,200.8 L1286.2,201.3 L1288.1,201.9 L1289.9,202.5 L1291.8,203.1 L1293.6,203.7 L1295.5,204.3 L1297.3,205.0 L1299.1,205.7 L1300.9,206.5 L1302.7,207.3 L1304.5,208.1 L1306.2,208.9 L1308.0,209.8 L1309.7,210.7 L1311.4,211.7 L1313.0,212.7 L1314.7,213.7 L1316.3,214.8 L1317.9,215.9 L1319.5,217.0 L1321.1,218.2 L1322.6,219.4 L1324.1,220.7 L1325.6,221.9 L1327.0,223.3 L1328.4,224.6 L1329.8,226.0 L1331.2,227.4 L1332.5,228.9 L1333.8,230.4 L1335.1,231.9 L1336.4,233.4 L1337.6,235.0 L1338.8,236.5 L1340.0,238.2 L1341.2,239.8 L1342.3,241.4 L1343.5,243.1 L1344.6,244.8 L1345.6,246.5 L1346.7,248.3 L1347.7,250.0 L1348.7,251.8 L1349.7,253.6 L1350.7,255.4 L1351.7,257.2 L1352.6,259.0 L1353.5,260.8 L1354.4,262.6 L1355.3,264.5 L1356.2,266.3 L1357.0,268.2 L1357.9,270.0 L1358.7,271.9 L1359.5,273.8 L1360.3,275.7 L1361.0,277.6 L1361.8,279.4 L1362.5,281.3 L1363.2,283.2 L1363.9,285.2 L1364.6,287.1 L1365.3,289.0 L1365.9,290.9 L1366.6,292.8 L1367.2,294.8 L1367.8,296.7 L1368.4,298.6 L1369.0,300.6 L1369.6,302.5 L1370.1,304.5 L1370.7,306.4 L1371.2,308.4 L1371.7,310.3 L1372.2,312.3 L1372.7,314.2 L1373.2,316.2 L1373.7,318.2 L1374.1,320.2 L1374.6,322.1 L1375.0,324.1 L1375.4,326.1 L1375.8,328.0 L1376.2,330.0 L1376.6,332.0 L1377.0,334.0 L1377.3,336.0 L1377.7,337.9 L1378.0,339.9 L1378.4,341.9 L1378.7,343.9 L1379.0,345.9 L1379.3,347.8 L1379.6,349.8 L1379.9,351.8 L1380.2,353.8 L1380.4,355.8 L1380.7,357.8 L1380.9,359.8 L1381.2,361.7 L1381.4,363.7 L1381.6,365.7 L1381.8,367.7 L1382.0,369.7 L1382.2,371.7 L1382.4,373.7 L1382.6,375.7 L1382.8,377.6 L1383.0,379.6 L1383.1,381.6 L1383.3,383.6 L1383.5,385.6 L1383.6,387.6 L1383.7,389.6 L1383.9,391.6 L1384.0,393.6 L1384.1,395.6 L1384.2,397.6 L1384.4,399.5 L1384.5,401.5 L1384.6,403.5 L1384.7,405.5 L1384.8,407.5 L1384.8,409.5 L1384.9,411.5 L1385.0,413.5 L1385.1,415.5 L1385.2,417.5 L1385.2,419.5 L1385.3,421.5 L1385.4,423.5 L1385.4,425.5 L1385.5,427.5 L1385.6,429.5 L1385.6,431.5 L1385.7,433.5 L1385.7,435.5 L1385.8,437.5 L1385.8,439.5 L1385.9,441.5 L1385.9,443.5 L1386.0,445.5 L1386.0,447.5 L1386.1,449.5 L1386.1,451.5 L1386.2,453.5 L1386.2,455.4 L1386.2,457.4 L1386.3,459.4 L1386.3,461.4 L1386.4,463.4 L1386.4,465.4 L1386.5,467.4 L1386.5,469.4 L1386.6,471.4 L1386.6,473.4 L1386.7,475.4 L1386.7,477.4 L1386.8,479.4 L1386.9,481.4 L1386.9,483.4 L1387.0,485.5 L1387.0,487.5 L1387.1,489.5 L1387.1,491.5 L1387.2,493.5 L1387.3,495.5 L1387.3,497.5 L1387.4,499.5 L1387.5,501.5 L1387.5,503.5 L1387.6,505.5 L1387.7,507.5 L1387.7,509.5 L1387.8,511.5 L1387.9,513.5 L1387.9,515.5 L1388.0,517.5 L1388.1,519.5 L1388.1,521.5 L1388.2,523.5 L1388.3,525.5 L1388.4,527.5 L1388.4,529.5 L1388.5,531.5 L1388.6,533.5 L1388.7,535.5 L1388.7,537.5 L1388.8,539.5 L1388.9,541.5 L1388.9,543.5 L1389.0,545.5 L1389.1,547.5 L1389.2,549.5 L1389.3,551.5 L1389.3,553.5 L1389.4,555.5 L1389.5,557.5 L1389.6,559.5 L1389.6,561.5 L1389.7,563.5 L1389.8,565.5 L1389.9,567.5 L1389.9,569.6 L1390.0,571.6 L1390.1,573.6 L1390.2,575.6 L1390.2,577.6 L1390.3,579.6 L1390.4,581.6 L1390.5,583.6 L1390.5,585.6 L1390.6,587.6 L1390.7,589.6 L1390.8,591.6 L1390.8,593.6 L1390.9,595.6 L1391.0,597.6 L1391.1,599.6 L1391.1,601.6 L1391.2,603.6 L1391.3,605.6 L1391.3,607.6 L1391.4,609.6 L1391.5,611.6 L1391.6,613.6 L1391.6,615.6 L1391.7,617.7 L1391.8,619.7 L1391.8,621.7 L1391.9,623.7 L1392.0,625.7 L1392.0,627.7 L1392.1,629.7 L1392.1,631.7 L1392.2,633.7 L1392.3,635.7 L1392.3,637.7 L1392.4,639.7 L1392.5,641.7 L1392.5,643.7 L1392.6,645.7 L1392.6,647.7 L1392.7,649.7 L1392.7,651.7 L1392.8,653.7 L1392.8,655.7 L1392.9,657.7 L1392.9,659.7 L1393.0,661.8 L1393.0,663.8 L1393.1,665.8 L1393.1,667.8 L1393.2,669.8 L1393.2,671.8 L1393.3,673.8 L1393.3,675.8 L1393.3,677.8 L1393.4,679.8 L1393.4,681.8 L1393.4,683.8 L1393.5,685.8 L1393.5,687.8 L1393.5,689.8 L1393.6,691.8 L1393.6,693.8 L1393.6,695.8 L1393.7,697.8 L1393.7,699.8 L1393.7,701.8 L1393.7,703.8 L1393.7,705.8 L1393.8,707.9 L1393.8,709.9 L1393.8,711.9 L1393.8,713.9 L1393.8,715.9 L1393.8,717.9 L1393.8,719.9 L1393.8,721.9 L1393.8,723.9 L1393.8,725.9 L1393.8,727.9 L1393.8,729.9 L1393.8,731.9 L1393.8,733.9 L1393.8,735.9 L1393.8,737.9 L1393.8,739.9 L1393.8,741.9 L1393.8,743.9 L1393.7,745.9 L1393.7,747.9 L1393.7,749.9 L1393.7,751.9 L1393.6,753.9 L1393.6,755.9 L1393.6,757.9 L1393.5,759.9 L1393.5,762.0 L1393.5,764.0 L1393.4,766.0 L1393.4,768.0 L1393.3,770.0 L1393.3,772.0 L1393.2,774.0 L1393.2,776.0 L1393.1,778.0 L1393.1,780.0 L1393.0,782.0 L1393.0,784.0 L1392.9,786.0 L1392.8,788.0 L1392.7,790.0 L1392.7,792.0 L1392.6,794.0 L1392.5,796.0 L1392.4,798.0 L1392.4,800.0 L1392.3,802.0 L1392.2,804.0 L1392.1,806.0 L1392.0,808.0 M1393.0,808.0 L1393.0,806.0 L1393.0,803.9 L1393.0,801.9 L1393.0,799.9 L1393.0,797.9 L1393.0,795.8 L1393.0,793.8 L1393.0,791.8 L1393.0,789.8 L1393.0,787.7 L1393.0,785.7 L1393.0,783.7 L1393.0,781.7 L1393.0,779.6 L1393.0,777.6 L1393.0,775.6 L1393.0,773.6 L1393.0,771.6 L1393.0,769.5 L1393.0,767.5 L1393.0,765.5 L1393.0,763.5 L1393.0,761.5 L1393.0,759.4 L1393.0,757.4 L1393.0,755.4 L1393.0,753.4 L1393.0,751.4 L1393.0,749.3 L1393.0,747.3 L1392.9,745.3 L1392.9,743.3 L1392.9,741.3 L1392.9,739.3 L1392.9,737.3 L1392.9,735.2 L1392.9,733.2 L1392.9,731.2 L1392.9,729.2 L1392.9,727.2 L1392.9,725.2 L1392.9,723.2 L1392.9,721.2 L1392.9,719.1 L1392.9,717.1 L1392.9,715.1 L1392.8,713.1 L1392.8,711.1 L1392.8,709.1 L1392.8,707.1 L1392.8,705.1 L1392.8,703.1 L1392.8,701.1 L1392.8,699.1 L1392.8,697.0 L1392.8,695.0 L1392.8,693.0 L1392.8,691.0 L1392.8,689.0 L1392.8,687.0 L1392.8,685.0 L1392.8,683.0 L1392.8,681.0 L1392.8,679.0 L1392.8,677.0 L1392.8,675.0 L1392.7,673.0 L1392.7,671.0 L1392.7,669.0 L1392.7,667.0 L1392.7,665.0 L1392.7,663.0 L1392.7,661.0 L1392.7,659.0 L1392.7,657.0 L1392.7,655.0 L1392.7,653.0 L1392.7,651.0 L1392.7,649.0 L1392.7,647.0 L1392.7,645.0 L1392.7,643.0 L1392.7,641.0 L1392.7,639.0 L1392.8,637.0 L1392.8,635.0 L1392.8,633.0 L1392.8,631.0 L1392.8,629.0 L1392.8,627.0 L1392.8,625.0 L1392.8,623.0 L1392.8,621.0 L1392.8,619.0 L1392.8,617.0 L1392.8,615.0 L1392.8,613.0 L1392.8,611.0 L1392.9,609.0 L1392.9,607.0 L1392.9,605.0 L1392.9,603.0 L1392.9,601.1 L1392.9,599.1 L1392.9,597.1 L1393.0,595.1 L1393.0,593.1 L1393.0,591.1 L1393.0,589.1 L1393.0,587.1 L1393.1,585.1 L1393.1,583.1 L1393.1,581.1 L1393.1,579.1 L1393.1,577.1 L1393.2,575.1 L1393.2,573.1 L1393.2,571.2 L1393.2,569.2 L1393.3,567.2 L1393.3,565.2 L1393.3,563.2 L1393.4,561.2 L1393.4,559.2 L1393.4,557.2 L1393.5,555.2 L1393.5,553.2 L1393.5,551.2 L1393.6,549.3 L1393.6,547.3 L1393.6,545.3 L1393.7,543.3 L1393.7,541.3 L1393.8,539.3 L1393.8,537.3 L1393.8,535.3 L1393.9,533.3 L1393.9,531.3 L1394.0,529.4 L1394.0,527.4 L1394.1,525.4 L1394.1,523.4 L1394.2,521.4 L1394.2,519.4 L1394.3,517.4 L1394.3,515.4 L1394.4,513.4 L1394.4,511.4 L1394.5,509.5 L1394.6,507.5 L1394.6,505.5 L1394.7,503.5 L1394.7,501.5 L1394.8,499.5 L1394.9,497.5 L1394.9,495.5 L1395.0,493.5 L1395.1,491.6 L1395.1,489.6 L1395.2,487.6 L1395.3,485.6 L1395.4,483.6 L1395.4,481.6 L1395.5,479.6 L1395.6,477.6 L1395.7,475.6 L1395.8,473.7 L1395.8,471.7 L1395.9,469.7 L1396.0,467.7 L1396.1,465.7 L1396.2,463.7 L1396.3,461.7 L1396.4,459.7 L1396.5,457.8 L1396.6,455.8 L1396.6,453.8 L1396.7,451.8 L1396.8,449.8 L1396.9,447.8 L1397.0,445.8 L1397.2,443.8 L1397.3,441.8 L1397.4,439.9 L1397.5,437.9 L1397.6,435.9 L1397.7,433.9 L1397.8,431.9 L1397.9,429.9 L1398.0,427.9 L1398.2,425.9 L1398.3,423.9 L1398.4,421.9 L1398.5,420.0 L1398.6,418.0 L1398.8,416.0 L1398.9,414.0 L1399.0,412.0 L1399.2,410.0 L1399.3,408.0 L1399.4,406.0 L1399.5,404.0 L1399.7,402.0 L1399.8,400.1 L1399.9,398.1 L1400.1,396.1 L1400.2,394.1 L1400.4,392.1 L1400.5,390.1 L1400.6,388.1 L1400.8,386.1 L1400.9,384.1 L1401.1,382.1 L1401.2,380.1 L1401.3,378.1 L1401.5,376.2 L1401.6,374.2 L1401.8,372.2 L1401.9,370.2 L1402.1,368.2 L1402.2,366.2 L1402.3,364.2 L1402.5,362.2 L1402.6,360.2 L1402.8,358.2 L1402.9,356.2 L1403.1,354.2 L1403.2,352.2 L1403.4,350.2 L1403.5,348.2 L1403.7,346.2 L1403.8,344.2 L1404.0,342.3 L1404.1,340.3 L1404.3,338.3 L1404.4,336.3 L1404.5,334.3 L1404.7,332.3 L1404.8,330.3 L1405.0,328.3 L1405.1,326.3 L1405.3,324.3 L1405.4,322.3 L1405.6,320.3 L1405.7,318.3 L1405.9,316.3 L1406.1,314.3 L1406.2,312.3 L1406.4,310.3 L1406.6,308.3 L1406.7,306.3 L1406.9,304.3 L1407.1,302.3 L1407.3,300.3 L1407.5,298.3 L1407.7,296.3 L1407.9,294.3 L1408.1,292.3 L1408.3,290.3 L1408.6,288.3 L1408.8,286.3 L1409.0,284.3 L1409.3,282.3 L1409.5,280.3 L1409.8,278.3 L1410.1,276.3 L1410.4,274.3 L1410.7,272.3 L1411.0,270.3 L1411.3,268.2 L1411.6,266.2 L1411.9,264.2 L1412.3,262.2 L1412.6,260.2 L1413.0,258.2 L1413.4,256.2 L1413.8,254.2 L1414.2,252.2 L1414.6,250.2 L1415.1,248.2 L1415.5,246.2 L1416.0,244.2 L1416.4,242.1 L1416.9,240.1 L1417.4,238.1 L1418.0,236.1 L1418.5,234.1 L1419.0,232.1 L1419.6,230.1 L1420.2,228.1 L1420.7,226.1 L1421.3,224.1 L1421.9,222.1 L1422.5,220.1 L1423.2,218.1 L1423.8,216.1 L1424.4,214.1 L1425.1,212.1 L1425.7,210.2 L1426.4,208.2 L1427.0,206.2 L1427.7,204.3 L1428.3,202.3 L1429.0,200.3 L1429.7,198.4 L1430.4,196.5 L1431.0,194.5 L1431.7,192.6 L1432.4,190.7 L1433.1,188.8 L1433.8,186.9 L1434.4,185.0 L1435.1,183.1 L1435.8,181.2 L1436.5,179.3 L1437.1,177.5 L1437.8,175.6 L1438.5,173.8 L1439.1,171.9 L1439.8,170.1 L1440.4,168.3 L1441.1,166.5 L1441.7,164.7 L1442.4,162.9 L1443.0,161.2 L1443.6,159.4 L1444.3,157.7 L1444.9,155.9 L1445.6,154.2 L1446.3,152.5 L1447.0,150.8 L1447.7,149.2 L1448.4,147.5 L1449.2,145.9 L1450.0,144.2 L1450.9,142.6 L1451.7,141.0 L1452.7,139.4 L1453.6,137.9 L1454.7,136.3 L1455.7,134.8 L1456.9,133.3 L1458.0,131.8 L1459.3,130.3 L1460.6,128.8 L1462.0,127.4 L1463.4,126.0 L1464.9,124.7 L1466.4,123.5 L1468.0,122.4 L1469.6,121.4 L1471.2,120.5 L1472.8,119.8 L1474.5,119.3 L1476.2,118.9 L1477.9,118.7 L1479.6,118.7 L1481.3,119.0 L1483.0,119.4 L1484.7,120.0 L1486.4,120.8 L1488.1,121.8 L1489.7,122.8 L1491.4,124.0 L1493.0,125.3 L1494.7,126.7 L1496.3,128.1 L1497.8,129.6 L1499.4,131.1 L1500.9,132.6 L1502.4,134.1 L1503.9,135.7 L1505.3,137.2 L1506.7,138.8 L1508.1,140.3 L1509.4,141.9 L1510.7,143.5 L1512.0,145.1 L1513.3,146.7 L1514.5,148.3 L1515.8,149.9 L1516.9,151.5 L1518.1,153.1 L1519.3,154.8 L1520.4,156.4 L1521.5,158.0 L1522.6,159.7 L1523.6,161.4 L1524.7,163.0 L1525.7,164.7 L1526.7,166.4 L1527.7,168.1 L1528.6,169.8 L1529.6,171.5 L1530.5,173.2 L1531.4,174.9 L1532.3,176.6 L1533.2,178.3 L1534.0,180.1 L1534.9,181.8 L1535.7,183.6 L1536.5,185.3 L1537.3,187.1 L1538.1,188.8 L1538.9,190.6 L1539.6,192.4 L1540.4,194.2 L1541.1,195.9 L1541.9,197.7 L1542.6,199.5 L1543.3,201.3 L1544.0,203.1 L1544.7,205.0 L1545.4,206.8 L1546.1,208.6 L1546.8,210.4 L1547.4,212.3 L1548.1,214.1 L1548.7,215.9 L1549.4,217.8 L1550.0,219.6 L1550.7,221.5 L1551.3,223.4 L1551.9,225.2 L1552.5,227.1 L1553.1,229.0 L1553.7,230.9 L1554.3,232.7 L1554.9,234.6 L1555.5,236.5 L1556.1,238.4 L1556.7,240.3 L1557.2,242.2 L1557.8,244.1 L1558.4,246.1 L1558.9,248.0 L1559.4,249.9 L1560.0,251.8 L1560.5,253.7 L1561.0,255.7 L1561.6,257.6 L1562.1,259.5 L1562.6,261.5 L1563.1,263.4 L1563.6,265.4 L1564.1,267.3 L1564.6,269.3 L1565.0,271.2 L1565.5,273.2 L1566.0,275.2 L1566.5,277.1 L1566.9,279.1 L1567.4,281.1 L1567.8,283.0 L1568.3,285.0 L1568.7,287.0 L1569.2,289.0 L1569.6,290.9 L1570.0,292.9 L1570.4,294.9 L1570.8,296.9 L1571.3,298.9 L1571.7,300.9 L1572.1,302.9 L1572.5,304.9 L1572.9,306.9 L1573.3,308.9 L1573.6,310.9 L1574.0,312.9 L1574.4,314.9 L1574.8,316.9 L1575.1,318.9 L1575.5,320.9 L1575.9,322.9 L1576.2,324.9 L1576.6,326.9 L1576.9,328.9 L1577.3,330.9 L1577.6,333.0 L1577.9,335.0 L1578.3,337.0 L1578.6,339.0 L1578.9,341.0 L1579.2,343.0 L1579.5,345.1 L1579.9,347.1 L1580.2,349.1 L1580.5,351.1 L1580.8,353.1 L1581.1,355.1 L1581.4,357.2 L1581.7,359.2 L1582.0,361.2 L1582.2,363.2 L1582.5,365.2 L1582.8,367.2 L1583.1,369.3 L1583.4,371.3 L1583.6,373.3 L1583.9,375.3 L1584.2,377.3 L1584.4,379.3 L1584.7,381.3 L1584.9,383.4 L1585.2,385.4 L1585.4,387.4 L1585.7,389.4 L1585.9,391.4 L1586.2,393.4 L1586.4,395.4 L1586.6,397.4 L1586.9,399.4 L1587.1,401.4 L1587.3,403.4 L1587.6,405.4 L1587.8,407.4 L1588.0,409.5 L1588.2,411.5 L1588.4,413.5 L1588.6,415.5 L1588.8,417.5 L1589.1,419.5 L1589.3,421.5 L1589.5,423.5 L1589.7,425.5 L1589.9,427.5 L1590.0,429.5 L1590.2,431.5 L1590.4,433.5 L1590.6,435.5 L1590.8,437.5 L1591.0,439.4 L1591.2,441.4 L1591.3,443.4 L1591.5,445.4 L1591.7,447.4 L1591.8,449.4 L1592.0,451.4 L1592.2,453.4 L1592.3,455.4 L1592.5,457.4 L1592.7,459.4 L1592.8,461.4 L1593.0,463.4 L1593.1,465.4 L1593.3,467.3 L1593.4,469.3 L1593.5,471.3 L1593.7,473.3 L1593.8,475.3 L1594.0,477.3 L1594.1,479.3 L1594.2,481.3 L1594.4,483.3 L1594.5,485.2 L1594.6,487.2 L1594.7,489.2 L1594.9,491.2 L1595.0,493.2 L1595.1,495.2 L1595.2,497.2 L1595.3,499.2 L1595.5,501.1 L1595.6,503.1 L1595.7,505.1 L1595.8,507.1 L1595.9,509.1 L1596.0,511.1 L1596.1,513.1 L1596.2,515.0 L1596.3,517.0 L1596.4,519.0 L1596.5,521.0 L1596.6,523.0 L1596.7,525.0 L1596.7,526.9 L1596.8,528.9 L1596.9,530.9 L1597.0,532.9 L1597.1,534.9 L1597.2,536.9 L1597.2,538.8 L1597.3,540.8 L1597.4,542.8 L1597.5,544.8 L1597.5,546.8 L1597.6,548.8 L1597.7,550.7 L1597.7,552.7 L1597.8,554.7 L1597.9,556.7 L1597.9,558.7 L1598.0,560.6 L1598.1,562.6 L1598.1,564.6 L1598.2,566.6 L1598.2,568.6 L1598.3,570.6 L1598.3,572.5 L1598.4,574.5 L1598.4,576.5 L1598.5,578.5 L1598.5,580.5 L1598.6,582.5 L1598.6,584.4 L1598.7,586.4 L1598.7,588.4 L1598.7,590.4 L1598.8,592.4 L1598.8,594.4 L1598.9,596.3 L1598.9,598.3 L1598.9,600.3 L1599.0,602.3 L1599.0,604.3 L1599.0,606.3 L1599.1,608.2 L1599.1,610.2 L1599.1,612.2 L1599.1,614.2 L1599.2,616.2 L1599.2,618.2 L1599.2,620.2 L1599.2,622.1 L1599.2,624.1 L1599.3,626.1 L1599.3,628.1 L1599.3,630.1 L1599.3,632.1 L1599.3,634.1 L1599.4,636.1 L1599.4,638.0 L1599.4,640.0 L1599.4,642.0 L1599.4,644.0 L1599.4,646.0 L1599.4,648.0 L1599.4,650.0 L1599.4,652.0 L1599.5,654.0 L1599.5,656.0 L1599.5,657.9 L1599.5,659.9 L1599.5,661.9 L1599.5,663.9 L1599.5,665.9 L1599.5,667.9 L1599.5,669.9 L1599.5,671.9 L1599.5,673.9 L1599.5,675.9 L1599.5,677.9 L1599.5,679.9 L1599.5,681.9 L1599.5,683.9 L1599.5,685.9 L1599.5,687.9 L1599.5,689.9 L1599.5,691.9 L1599.5,693.9 L1599.5,695.9 L1599.5,697.9 L1599.5,699.9 L1599.5,701.9 L1599.5,703.9 L1599.4,705.9 L1599.4,707.9 L1599.4,709.9 L1599.4,711.9 L1599.4,713.9 L1599.4,715.9 L1599.4,717.9 L1599.4,719.9 L1599.4,721.9 L1599.4,723.9 L1599.4,726.0 L1599.4,728.0 L1599.3,730.0 L1599.3,732.0 L1599.3,734.0 L1599.3,736.0 L1599.3,738.0 L1599.3,740.0 L1599.3,742.0 L1599.3,744.1 L1599.3,746.1 L1599.3,748.1 L1599.2,750.1 L1599.2,752.1 L1599.2,754.1 L1599.2,756.2 L1599.2,758.2 L1599.2,760.2 L1599.2,762.2 L1599.2,764.3 L1599.2,766.3 L1599.2,768.3 L1599.1,770.3 L1599.1,772.4 L1599.1,774.4 L1599.1,776.4 L1599.1,778.4 L1599.1,780.5 L1599.1,782.5 L1599.1,784.5 L1599.1,786.6 L1599.1,788.6 L1599.1,790.6 L1599.0,792.7 L1599.0,794.7 L1599.0,796.7 L1599.0,798.8 L1599.0,800.8 L1599.0,802.8 L1599.0,804.9 L1599.0,806.9 L1599.0,809.0 L1599.0,811.0" stroke="#b8f1cf" stroke-width="9"/>
<path d="M186.0,157.0 L187.7,158.0 L189.5,158.9 L191.3,159.9 L193.0,160.8 L194.8,161.8 L196.5,162.8 L198.3,163.7 L200.0,164.7 L201.8,165.7 L203.5,166.7 L205.2,167.7 L207.0,168.7 L208.7,169.7 L210.4,170.8 L212.1,171.8 L213.9,172.8 L215.6,173.9 L217.3,174.9 L219.0,176.0 L220.7,177.0 L222.4,178.1 L224.1,179.2 L225.8,180.3 L227.5,181.4 L229.2,182.4 L230.9,183.6 L232.5,184.7 L234.2,185.8 L235.9,186.9 L237.6,188.0 L239.2,189.2 L240.9,190.3 L242.6,191.4 L244.2,192.6 L245.9,193.7 L247.5,194.9 L249.1,196.1 L250.8,197.3 L252.4,198.4 L254.0,199.6 L255.7,200.8 L257.3,202.0 L258.9,203.2 L260.5,204.4 L262.1,205.7 L263.7,206.9 L265.3,208.1 L266.9,209.3 L268.5,210.6 L270.1,211.8 L271.7,213.1 L273.3,214.4 L274.9,215.6 L276.4,216.9 L278.0,218.2 L279.5,219.5 L281.1,220.7 L282.6,222.0 L284.2,223.3 L285.7,224.6 L287.3,226.0 L288.8,227.3 L290.3,228.6 L291.8,229.9 L293.4,231.3 L294.9,232.6 L296.4,233.9 L297.9,235.3 L299.4,236.7 L300.9,238.0 L302.3,239.4 L303.8,240.8 L305.3,242.1 L306.8,243.5 L308.2,244.9 L309.7,246.3 L311.1,247.7 L312.6,249.1 L314.0,250.5 L315.5,252.0 L316.9,253.4 L318.3,254.8 L319.7,256.2 L321.2,257.7 L322.6,259.1 L324.0,260.6 L325.4,262.0 L326.8,263.5 L328.1,265.0 L329.5,266.4 L330.9,267.9 L332.3,269.4 L333.6,270.9 L335.0,272.4 L336.3,273.8 L337.7,275.3 L339.0,276.9 L340.3,278.4 L341.7,279.9 L343.0,281.4 L344.3,282.9 L345.6,284.5 L346.9,286.0 L348.2,287.5 L349.5,289.1 L350.7,290.6 L352.0,292.2 L353.3,293.7 L354.5,295.3 L355.8,296.9 L357.0,298.4 L358.3,300.0 L359.5,301.6 L360.7,303.2 L362.0,304.8 L363.2,306.4 L364.4,308.0 L365.6,309.6 L366.8,311.2 L367.9,312.8 L369.1,314.4 L370.3,316.1 L371.5,317.7 L372.6,319.3 L373.8,321.0 L374.9,322.6 L376.0,324.2 L377.2,325.9 L378.3,327.5 L379.4,329.2 L380.5,330.9 L381.6,332.5 L382.7,334.2 L383.8,335.9 L384.9,337.6 L385.9,339.2 L387.0,340.9 L388.0,342.6 L389.1,344.3 L390.1,346.0 L391.1,347.7 L392.2,349.4 L393.2,351.1 L394.2,352.9 L395.2,354.6 L396.2,356.3 L397.2,358.0 L398.1,359.8 L399.1,361.5 L400.1,363.2 L401.0,365.0 L401.9,366.7 L402.9,368.5 L403.8,370.2 L404.7,372.0 L405.6,373.7 L406.5,375.5 L407.4,377.3 L408.3,379.1 L409.2,380.8 L410.1,382.6 L410.9,384.4 L411.8,386.2 L412.6,388.0 L413.4,389.8 L414.3,391.6 L415.1,393.4 L415.9,395.2 L416.7,397.0 L417.5,398.8 L418.3,400.6 L419.0,402.4 L419.8,404.2 L420.5,406.1 L421.3,407.9 L422.0,409.7 L422.8,411.6 L423.5,413.4 L424.2,415.2 L424.9,417.1 L425.6,418.9 L426.3,420.8 L427.0,422.6 L427.7,424.5 L428.3,426.3 L429.0,428.2 L429.6,430.1 L430.3,431.9 L430.9,433.8 L431.6,435.7 L432.2,437.5 L432.8,439.4 L433.4,441.3 L434.0,443.2 L434.6,445.1 L435.2,447.0 L435.8,448.9 L436.3,450.8 L436.9,452.7 L437.4,454.6 L438.0,456.5 L438.5,458.4 L439.1,460.3 L439.6,462.2 L440.1,464.1 L440.6,466.0 L441.1,467.9 L441.7,469.8 L442.1,471.8 L442.6,473.7 L443.1,475.6 L443.6,477.5 L444.1,479.5 L444.5,481.4 L445.0,483.3 L445.4,485.3 L445.9,487.2 L446.3,489.2 L446.7,491.1 L447.2,493.1 L447.6,495.0 L448.0,497.0 L448.4,498.9 L448.8,500.9 L449.2,502.8 L449.6,504.8 L450.0,506.7 L450.3,508.7 L450.7,510.7 L451.1,512.6 L451.4,514.6 L451.8,516.6 L452.1,518.5 L452.5,520.5 L452.8,522.5 L453.2,524.5 L453.5,526.4 L453.8,528.4 L454.1,530.4 L454.4,532.4 L454.7,534.4 L455.0,536.3 L455.3,538.3 L455.6,540.3 L455.9,542.3 L456.2,544.3 L456.5,546.3 L456.7,548.3 L457.0,550.3 L457.3,552.3 L457.5,554.3 L457.8,556.3 L458.0,558.3 L458.3,560.3 L458.5,562.3 L458.8,564.3 L459.0,566.3 L459.2,568.3 L459.4,570.3 L459.6,572.3 L459.9,574.3 L460.1,576.3 L460.3,578.3 L460.5,580.4 L460.7,582.4 L460.9,584.4 L461.1,586.4 L461.2,588.4 L461.4,590.4 L461.6,592.4 L461.8,594.5 L461.9,596.5 L462.1,598.5 L462.3,600.5 L462.4,602.5 L462.6,604.6 L462.7,606.6 L462.9,608.6 L463.0,610.6 L463.2,612.7 L463.3,614.7 L463.4,616.7 L463.6,618.7 L463.7,620.8 L463.8,622.8 L463.9,624.8 L464.1,626.8 L464.2,628.9 L464.3,630.9 L464.4,632.9 L464.5,635.0 L464.6,637.0 L464.7,639.0 L464.8,641.0 L464.9,643.1 L465.0,645.1 L465.1,647.1 L465.2,649.2 L465.3,651.2 L465.4,653.2 L465.4,655.3 L465.5,657.3 L465.6,659.3 L465.7,661.4 L465.8,663.4 L465.8,665.4 L465.9,667.5 L466.0,669.5 L466.0,671.5 L466.1,673.6 L466.1,675.6 L466.2,677.6 L466.3,679.7 L466.3,681.7 L466.4,683.7 L466.4,685.8 L466.5,687.8 L466.5,689.8 L466.6,691.9 L466.6,693.9 L466.7,695.9 L466.7,698.0 L466.8,700.0 L466.8,702.0 L466.8,704.1 L466.9,706.1 L466.9,708.1 L467.0,710.2 L467.0,712.2 L467.0,714.2 L467.1,716.3 L467.1,718.3 L467.1,720.3 L467.1,722.4 L467.2,724.4 L467.2,726.4 L467.2,728.4 L467.3,730.5 L467.3,732.5 L467.3,734.5 L467.3,736.6 L467.4,738.6 L467.4,740.6 L467.4,742.6 L467.5,744.7 L467.5,746.7 L467.5,748.7 L467.5,750.7 L467.6,752.8 L467.6,754.8 L467.6,756.8 L467.6,758.8 L467.7,760.8 L467.7,762.9 L467.7,764.9 L467.7,766.9 L467.8,768.9 L467.8,770.9 L467.8,773.0 L467.8,775.0 L467.9,777.0 L467.9,779.0 L467.9,781.0 L467.9,783.0 L468.0,785.0 L468.0,787.1 L468.0,789.1 L468.1,791.1 L468.1,793.1 L468.1,795.1 L468.2,797.1 L468.2,799.1 L468.2,801.1 L468.3,803.1 L468.3,805.1 L468.4,807.1 L468.4,809.1 L468.4,811.1 L468.5,813.1 L468.5,815.1 L468.6,817.1 L468.6,819.1 L468.7,821.1 L468.7,823.1 L468.8,825.1 L468.8,827.1 L468.9,829.0 L468.9,831.0 L469.0,833.0 L469.1,835.0 L469.1,837.0 L469.2,839.0 L469.3,841.0 L469.3,842.9 L469.4,844.9 L469.5,846.9 L469.5,848.9 L469.6,850.8 L469.7,852.8 L469.8,854.8 L469.9,856.7 L470.0,858.7 L470.0,860.7 L470.1,862.6 L470.2,864.6 L470.3,866.6 L470.4,868.5 L470.5,870.5 L470.6,872.4 L470.7,874.4 L470.9,876.4 L471.0,878.3 L471.1,880.3 L471.2,882.2 L471.3,884.2 L471.5,886.1 L471.6,888.0 L471.7,890.0 M1393.0,808.0 L1393.0,806.0 L1393.0,803.9 L1393.0,801.9 L1393.0,799.9 L1393.0,797.9 L1393.0,795.8 L1393.0,793.8 L1393.0,791.8 L1393.0,789.8 L1393.0,787.7 L1393.0,785.7 L1393.0,783.7 L1393.0,781.7 L1393.0,779.6 L1393.0,777.6 L1393.0,775.6 L1393.0,773.6 L1393.0,771.6 L1393.0,769.5 L1393.0,767.5 L1393.0,765.5 L1393.0,763.5 L1393.0,761.5 L1393.0,759.4 L1393.0,757.4 L1393.0,755.4 L1393.0,753.4 L1393.0,751.4 L1393.0,749.3 L1393.0,747.3 L1392.9,745.3 L1392.9,743.3 L1392.9,741.3 L1392.9,739.3 L1392.9,737.3 L1392.9,735.2 L1392.9,733.2 L1392.9,731.2 L1392.9,729.2 L1392.9,727.2 L1392.9,725.2 L1392.9,723.2 L1392.9,721.2 L1392.9,719.1 L1392.9,717.1 L1392.9,715.1 L1392.8,713.1 L1392.8,711.1 L1392.8,709.1 L1392.8,707.1 L1392.8,705.1 L1392.8,703.1 L1392.8,701.1 L1392.8,699.1 L1392.8,697.0 L1392.8,695.0 L1392.8,693.0 L1392.8,691.0 L1392.8,689.0 L1392.8,687.0 L1392.8,685.0 L1392.8,683.0 L1392.8,681.0 L1392.8,679.0 L1392.8,677.0 L1392.8,675.0 L1392.7,673.0 L1392.7,671.0 L1392.7,669.0 L1392.7,667.0 L1392.7,665.0 L1392.7,663.0 L1392.7,661.0 L1392.7,659.0 L1392.7,657.0 L1392.7,655.0 L1392.7,653.0 L1392.7,651.0 L1392.7,649.0 L1392.7,647.0 L1392.7,645.0 L1392.7,643.0 L1392.7,641.0 L1392.7,639.0 L1392.8,637.0 L1392.8,635.0 L1392.8,633.0 L1392.8,631.0 L1392.8,629.0 L1392.8,627.0 L1392.8,625.0 L1392.8,623.0 L1392.8,621.0 L1392.8,619.0 L1392.8,617.0 L1392.8,615.0 L1392.8,613.0 L1392.8,611.0 L1392.9,609.0 L1392.9,607.0 L1392.9,605.0 L1392.9,603.0 L1392.9,601.1 L1392.9,599.1 L1392.9,597.1 L1393.0,595.1 L1393.0,593.1 L1393.0,591.1 L1393.0,589.1 L1393.0,587.1 L1393.1,585.1 L1393.1,583.1 L1393.1,581.1 L1393.1,579.1 L1393.1,577.1 L1393.2,575.1 L1393.2,573.1 L1393.2,571.2 L1393.2,569.2 L1393.3,567.2 L1393.3,565.2 L1393.3,563.2 L1393.4,561.2 L1393.4,559.2 L1393.4,557.2 L1393.5,555.2 L1393.5,553.2 L1393.5,551.2 L1393.6,549.3 L1393.6,547.3 L1393.6,545.3 L1393.7,543.3 L1393.7,541.3 L1393.8,539.3 L1393.8,537.3 L1393.8,535.3 L1393.9,533.3 L1393.9,531.3 L1394.0,529.4 L1394.0,527.4 L1394.1,525.4 L1394.1,523.4 L1394.2,521.4 L1394.2,519.4 L1394.3,517.4 L1394.3,515.4 L1394.4,513.4 L1394.4,511.4 L1394.5,509.5 L1394.6,507.5 L1394.6,505.5 L1394.7,503.5 L1394.7,501.5 L1394.8,499.5 L1394.9,497.5 L1394.9,495.5 L1395.0,493.5 L1395.1,491.6 L1395.1,489.6 L1395.2,487.6 L1395.3,485.6 L1395.4,483.6 L1395.4,481.6 L1395.5,479.6 L1395.6,477.6 L1395.7,475.6 L1395.8,473.7 L1395.8,471.7 L1395.9,469.7 L1396.0,467.7 L1396.1,465.7 L1396.2,463.7 L1396.3,461.7 L1396.4,459.7 L1396.5,457.8 L1396.6,455.8 L1396.6,453.8 L1396.7,451.8 L1396.8,449.8 L1396.9,447.8 L1397.0,445.8 L1397.2,443.8 L1397.3,441.8 L1397.4,439.9 L1397.5,437.9 L1397.6,435.9 L1397.7,433.9 L1397.8,431.9 L1397.9,429.9 L1398.0,427.9 L1398.2,425.9 L1398.3,423.9 L1398.4,421.9 L1398.5,420.0 L1398.6,418.0 L1398.8,416.0 L1398.9,414.0 L1399.0,412.0 L1399.2,410.0 L1399.3,408.0 L1399.4,406.0 L1399.5,404.0 L1399.7,402.0 L1399.8,400.1 L1399.9,398.1 L1400.1,396.1 L1400.2,394.1 L1400.4,392.1 L1400.5,390.1 L1400.6,388.1 L1400.8,386.1 L1400.9,384.1 L1401.1,382.1 L1401.2,380.1 L1401.3,378.1 L1401.5,376.2 L1401.6,374.2 L1401.8,372.2 L1401.9,370.2 L1402.1,368.2 L1402.2,366.2 L1402.3,364.2 L1402.5,362.2 L1402.6,360.2 L1402.8,358.2 L1402.9,356.2 L1403.1,354.2 L1403.2,352.2 L1403.4,350.2 L1403.5,348.2 L1403.7,346.2 L1403.8,344.2 L1404.0,342.3 L1404.1,340.3 L1404.3,338.3 L1404.4,336.3 L1404.5,334.3 L1404.7,332.3 L1404.8,330.3 L1405.0,328.3 L1405.1,326.3 L1405.3,324.3 L1405.4,322.3 L1405.6,320.3 L1405.7,318.3 L1405.9,316.3 L1406.1,314.3 L1406.2,312.3 L1406.4,310.3 L1406.6,308.3 L1406.7,306.3 L1406.9,304.3 L1407.1,302.3 L1407.3,300.3 L1407.5,298.3 L1407.7,296.3 L1407.9,294.3 L1408.1,292.3 L1408.3,290.3 L1408.6,288.3 L1408.8,286.3 L1409.0,284.3 L1409.3,282.3 L1409.5,280.3 L1409.8,278.3 L1410.1,276.3 L1410.4,274.3 L1410.7,272.3 L1411.0,270.3 L1411.3,268.2 L1411.6,266.2 L1411.9,264.2 L1412.3,262.2 L1412.6,260.2 L1413.0,258.2 L1413.4,256.2 L1413.8,254.2 L1414.2,252.2 L1414.6,250.2 L1415.1,248.2 L1415.5,246.2 L1416.0,244.2 L1416.4,242.1 L1416.9,240.1 L1417.4,238.1 L1418.0,236.1 L1418.5,234.1 L1419.0,232.1 L1419.6,230.1 L1420.2,228.1 L1420.7,226.1 L1421.3,224.1 L1421.9,222.1 L1422.5,220.1 L1423.2,218.1 L1423.8,216.1 L1424.4,214.1 L1425.1,212.1 L1425.7,210.2 L1426.4,208.2 L1427.0,206.2 L1427.7,204.3 L1428.3,202.3 L1429.0,200.3 L1429.7,198.4 L1430.4,196.5 L1431.0,194.5 L1431.7,192.6 L1432.4,190.7 L1433.1,188.8 L1433.8,186.9 L1434.4,185.0 L1435.1,183.1 L1435.8,181.2 L1436.5,179.3 L1437.1,177.5 L1437.8,175.6 L1438.5,173.8 L1439.1,171.9 L1439.8,170.1 L1440.4,168.3 L1441.1,166.5 L1441.7,164.7 L1442.4,162.9 L1443.0,161.2 L1443.6,159.4 L1444.3,157.7 L1444.9,155.9 L1445.6,154.2 L1446.3,152.5 L1447.0,150.8 L1447.7,149.2 L1448.4,147.5 L1449.2,145.9 L1450.0,144.2 L1450.9,142.6 L1451.7,141.0 L1452.7,139.4 L1453.6,137.9 L1454.7,136.3 L1455.7,134.8 L1456.9,133.3 L1458.0,131.8 L1459.3,130.3 L1460.6,128.8 L1462.0,127.4 L1463.4,126.0 L1464.9,124.7 L1466.4,123.5 L1468.0,122.4 L1469.6,121.4 L1471.2,120.5 L1472.8,119.8 L1474.5,119.3 L1476.2,118.9 L1477.9,118.7 L1479.6,118.7 L1481.3,119.0 L1483.0,119.4 L1484.7,120.0 L1486.4,120.8 L1488.1,121.8 L1489.7,122.8 L1491.4,124.0 L1493.0,125.3 L1494.7,126.7 L1496.3,128.1 L1497.8,129.6 L1499.4,131.1 L1500.9,132.6 L1502.4,134.1 L1503.9,135.7 L1505.3,137.2 L1506.7,138.8 L1508.1,140.3 L1509.4,141.9 L1510.7,143.5 L1512.0,145.1 L1513.3,146.7 L1514.5,148.3 L1515.8,149.9 L1516.9,151.5 L1518.1,153.1 L1519.3,154.8 L1520.4,156.4 L1521.5,158.0 L1522.6,159.7 L1523.6,161.4 L1524.7,163.0 L1525.7,164.7 L1526.7,166.4 L1527.7,168.1 L1528.6,169.8 L1529.6,171.5 L1530.5,173.2 L1531.4,174.9 L1532.3,176.6 L1533.2,178.3 L1534.0,180.1 L1534.9,181.8 L1535.7,183.6 L1536.5,185.3 L1537.3,187.1 L1538.1,188.8 L1538.9,190.6 L1539.6,192.4 L1540.4,194.2 L1541.1,195.9 L1541.9,197.7 L1542.6,199.5 L1543.3,201.3 L1544.0,203.1 L1544.7,205.0 L1545.4,206.8 L1546.1,208.6 L1546.8,210.4 L1547.4,212.3 L1548.1,214.1 L1548.7,215.9 L1549.4,217.8 L1550.0,219.6 L1550.7,221.5 L1551.3,223.4 L1551.9,225.2 L1552.5,227.1 L1553.1,229.0 L1553.7,230.9 L1554.3,232.7 L1554.9,234.6 L1555.5,236.5 L1556.1,238.4 L1556.7,240.3 L1557.2,242.2 L1557.8,244.1 L1558.4,246.1 L1558.9,248.0 L1559.4,249.9 L1560.0,251.8 L1560.5,253.7 L1561.0,255.7 L1561.6,257.6 L1562.1,259.5 L1562.6,261.5 L1563.1,263.4 L1563.6,265.4 L1564.1,267.3 L1564.6,269.3 L1565.0,271.2 L1565.5,273.2 L1566.0,275.2 L1566.5,277.1 L1566.9,279.1 L1567.4,281.1 L1567.8,283.0 L1568.3,285.0 L1568.7,287.0 L1569.2,289.0 L1569.6,290.9 L1570.0,292.9 L1570.4,294.9 L1570.8,296.9 L1571.3,298.9 L1571.7,300.9 L1572.1,302.9 L1572.5,304.9 L1572.9,306.9 L1573.3,308.9 L1573.6,310.9 L1574.0,312.9 L1574.4,314.9 L1574.8,316.9 L1575.1,318.9 L1575.5,320.9 L1575.9,322.9 L1576.2,324.9 L1576.6,326.9 L1576.9,328.9 L1577.3,330.9 L1577.6,333.0 L1577.9,335.0 L1578.3,337.0 L1578.6,339.0 L1578.9,341.0 L1579.2,343.0 L1579.5,345.1 L1579.9,347.1 L1580.2,349.1 L1580.5,351.1 L1580.8,353.1 L1581.1,355.1 L1581.4,357.2 L1581.7,359.2 L1582.0,361.2 L1582.2,363.2 L1582.5,365.2 L1582.8,367.2 L1583.1,369.3 L1583.4,371.3 L1583.6,373.3 L1583.9,375.3 L1584.2,377.3 L1584.4,379.3 L1584.7,381.3 L1584.9,383.4 L1585.2,385.4 L1585.4,387.4 L1585.7,389.4 L1585.9,391.4 L1586.2,393.4 L1586.4,395.4 L1586.6,397.4 L1586.9,399.4 L1587.1,401.4 L1587.3,403.4 L1587.6,405.4 L1587.8,407.4 L1588.0,409.5 L1588.2,411.5 L1588.4,413.5 L1588.6,415.5 L1588.8,417.5 L1589.1,419.5 L1589.3,421.5 L1589.5,423.5 L1589.7,425.5 L1589.9,427.5 L1590.0,429.5 L1590.2,431.5 L1590.4,433.5 L1590.6,435.5 L1590.8,437.5 L1591.0,439.4 L1591.2,441.4 L1591.3,443.4 L1591.5,445.4 L1591.7,447.4 L1591.8,449.4 L1592.0,451.4 L1592.2,453.4 L1592.3,455.4 L1592.5,457.4 L1592.7,459.4 L1592.8,461.4 L1593.0,463.4 L1593.1,465.4 L1593.3,467.3 L1593.4,469.3 L1593.5,471.3 L1593.7,473.3 L1593.8,475.3 L1594.0,477.3 L1594.1,479.3 L1594.2,481.3 L1594.4,483.3 L1594.5,485.2 L1594.6,487.2 L1594.7,489.2 L1594.9,491.2 L1595.0,493.2 L1595.1,495.2 L1595.2,497.2 L1595.3,499.2 L1595.5,501.1 L1595.6,503.1 L1595.7,505.1 L1595.8,507.1 L1595.9,509.1 L1596.0,511.1 L1596.1,513.1 L1596.2,515.0 L1596.3,517.0 L1596.4,519.0 L1596.5,521.0 L1596.6,523.0 L1596.7,525.0 L1596.7,526.9 L1596.8,528.9 L1596.9,530.9 L1597.0,532.9 L1597.1,534.9 L1597.2,536.9 L1597.2,538.8 L1597.3,540.8 L1597.4,542.8 L1597.5,544.8 L1597.5,546.8 L1597.6,548.8 L1597.7,550.7 L1597.7,552.7 L1597.8,554.7 L1597.9,556.7 L1597.9,558.7 L1598.0,560.6 L1598.1,562.6 L1598.1,564.6 L1598.2,566.6 L1598.2,568.6 L1598.3,570.6 L1598.3,572.5 L1598.4,574.5 L1598.4,576.5 L1598.5,578.5 L1598.5,580.5 L1598.6,582.5 L1598.6,584.4 L1598.7,586.4 L1598.7,588.4 L1598.7,590.4 L1598.8,592.4 L1598.8,594.4 L1598.9,596.3 L1598.9,598.3 L1598.9,600.3 L1599.0,602.3 L1599.0,604.3 L1599.0,606.3 L1599.1,608.2 L1599.1,610.2 L1599.1,612.2 L1599.1,614.2 L1599.2,616.2 L1599.2,618.2 L1599.2,620.2 L1599.2,622.1 L1599.2,624.1 L1599.3,626.1 L1599.3,628.1 L1599.3,630.1 L1599.3,632.1 L1599.3,634.1 L1599.4,636.1 L1599.4,638.0 L1599.4,640.0 L1599.4,642.0 L1599.4,644.0 L1599.4,646.0 L1599.4,648.0 L1599.4,650.0 L1599.4,652.0 L1599.5,654.0 L1599.5,656.0 L1599.5,657.9 L1599.5,659.9 L1599.5,661.9 L1599.5,663.9 L1599.5,665.9 L1599.5,667.9 L1599.5,669.9 L1599.5,671.9 L1599.5,673.9 L1599.5,675.9 L1599.5,677.9 L1599.5,679.9 L1599.5,681.9 L1599.5,683.9 L1599.5,685.9 L1599.5,687.9 L1599.5,689.9 L1599.5,691.9 L1599.5,693.9 L1599.5,695.9 L1599.5,697.9 L1599.5,699.9 L1599.5,701.9 L1599.5,703.9 L1599.4,705.9 L1599.4,707.9 L1599.4,709.9 L1599.4,711.9 L1599.4,713.9 L1599.4,715.9 L1599.4,717.9 L1599.4,719.9 L1599.4,721.9 L1599.4,723.9 L1599.4,726.0 L1599.4,728.0 L1599.3,730.0 L1599.3,732.0 L1599.3,734.0 L1599.3,736.0 L1599.3,738.0 L1599.3,740.0 L1599.3,742.0 L1599.3,744.1 L1599.3,746.1 L1599.3,748.1 L1599.2,750.1 L1599.2,752.1 L1599.2,754.1 L1599.2,756.2 L1599.2,758.2 L1599.2,760.2 L1599.2,762.2 L1599.2,764.3 L1599.2,766.3 L1599.2,768.3 L1599.1,770.3 L1599.1,772.4 L1599.1,774.4 L1599.1,776.4 L1599.1,778.4 L1599.1,780.5 L1599.1,782.5 L1599.1,784.5 L1599.1,786.6 L1599.1,788.6 L1599.1,790.6 L1599.0,792.7 L1599.0,794.7 L1599.0,796.7 L1599.0,798.8 L1599.0,800.8 L1599.0,802.8 L1599.0,804.9 L1599.0,806.9 L1599.0,809.0 L1599.0,811.0" stroke="#34a865" stroke-width="7.5" stroke-dasharray="9 25"/>
</g>
<g clip-path="url(#steep2)">
<path d="M186.0,157.0 L187.7,158.0 L189.5,158.9 L191.3,159.9 L193.0,160.8 L194.8,161.8 L196.5,162.8 L198.3,163.7 L200.0,164.7 L201.8,165.7 L203.5,166.7 L205.2,167.7 L207.0,168.7 L208.7,169.7 L210.4,170.8 L212.1,171.8 L213.9,172.8 L215.6,173.9 L217.3,174.9 L219.0,176.0 L220.7,177.0 L222.4,178.1 L224.1,179.2 L225.8,180.3 L227.5,181.4 L229.2,182.4 L230.9,183.6 L232.5,184.7 L234.2,185.8 L235.9,186.9 L237.6,188.0 L239.2,189.2 L240.9,190.3 L242.6,191.4 L244.2,192.6 L245.9,193.7 L247.5,194.9 L249.1,196.1 L250.8,197.3 L252.4,198.4 L254.0,199.6 L255.7,200.8 L257.3,202.0 L258.9,203.2 L260.5,204.4 L262.1,205.7 L263.7,206.9 L265.3,208.1 L266.9,209.3 L268.5,210.6 L270.1,211.8 L271.7,213.1 L273.3,214.4 L274.9,215.6 L276.4,216.9 L278.0,218.2 L279.5,219.5 L281.1,220.7 L282.6,222.0 L284.2,223.3 L285.7,224.6 L287.3,226.0 L288.8,227.3 L290.3,228.6 L291.8,229.9 L293.4,231.3 L294.9,232.6 L296.4,233.9 L297.9,235.3 L299.4,236.7 L300.9,238.0 L302.3,239.4 L303.8,240.8 L305.3,242.1 L306.8,243.5 L308.2,244.9 L309.7,246.3 L311.1,247.7 L312.6,249.1 L314.0,250.5 L315.5,252.0 L316.9,253.4 L318.3,254.8 L319.7,256.2 L321.2,257.7 L322.6,259.1 L324.0,260.6 L325.4,262.0 L326.8,263.5 L328.1,265.0 L329.5,266.4 L330.9,267.9 L332.3,269.4 L333.6,270.9 L335.0,272.4 L336.3,273.8 L337.7,275.3 L339.0,276.9 L340.3,278.4 L341.7,279.9 L343.0,281.4 L344.3,282.9 L345.6,284.5 L346.9,286.0 L348.2,287.5 L349.5,289.1 L350.7,290.6 L352.0,292.2 L353.3,293.7 L354.5,295.3 L355.8,296.9 L357.0,298.4 L358.3,300.0 L359.5,301.6 L360.7,303.2 L362.0,304.8 L363.2,306.4 L364.4,308.0 L365.6,309.6 L366.8,311.2 L367.9,312.8 L369.1,314.4 L370.3,316.1 L371.5,317.7 L372.6,319.3 L373.8,321.0 L374.9,322.6 L376.0,324.2 L377.2,325.9 L378.3,327.5 L379.4,329.2 L380.5,330.9 L381.6,332.5 L382.7,334.2 L383.8,335.9 L384.9,337.6 L385.9,339.2 L387.0,340.9 L388.0,342.6 L389.1,344.3 L390.1,346.0 L391.1,347.7 L392.2,349.4 L393.2,351.1 L394.2,352.9 L395.2,354.6 L396.2,356.3 L397.2,358.0 L398.1,359.8 L399.1,361.5 L400.1,363.2 L401.0,365.0 L401.9,366.7 L402.9,368.5 L403.8,370.2 L404.7,372.0 L405.6,373.7 L406.5,375.5 L407.4,377.3 L408.3,379.1 L409.2,380.8 L410.1,382.6 L410.9,384.4 L411.8,386.2 L412.6,388.0 L413.4,389.8 L414.3,391.6 L415.1,393.4 L415.9,395.2 L416.7,397.0 L417.5,398.8 L418.3,400.6 L419.0,402.4 L419.8,404.2 L420.5,406.1 L421.3,407.9 L422.0,409.7 L422.8,411.6 L423.5,413.4 L424.2,415.2 L424.9,417.1 L425.6,418.9 L426.3,420.8 L427.0,422.6 L427.7,424.5 L428.3,426.3 L429.0,428.2 L429.6,430.1 L430.3,431.9 L430.9,433.8 L431.6,435.7 L432.2,437.5 L432.8,439.4 L433.4,441.3 L434.0,443.2 L434.6,445.1 L435.2,447.0 L435.8,448.9 L436.3,450.8 L436.9,452.7 L437.4,454.6 L438.0,456.5 L438.5,458.4 L439.1,460.3 L439.6,462.2 L440.1,464.1 L440.6,466.0 L441.1,467.9 L441.7,469.8 L442.1,471.8 L442.6,473.7 L443.1,475.6 L443.6,477.5 L444.1,479.5 L444.5,481.4 L445.0,483.3 L445.4,485.3 L445.9,487.2 L446.3,489.2 L446.7,491.1 L447.2,493.1 L447.6,495.0 L448.0,497.0 L448.4,498.9 L448.8,500.9 L449.2,502.8 L449.6,504.8 L450.0,506.7 L450.3,508.7 L450.7,510.7 L451.1,512.6 L451.4,514.6 L451.8,516.6 L452.1,518.5 L452.5,520.5 L452.8,522.5 L453.2,524.5 L453.5,526.4 L453.8,528.4 L454.1,530.4 L454.4,532.4 L454.7,534.4 L455.0,536.3 L455.3,538.3 L455.6,540.3 L455.9,542.3 L456.2,544.3 L456.5,546.3 L456.7,548.3 L457.0,550.3 L457.3,552.3 L457.5,554.3 L457.8,556.3 L458.0,558.3 L458.3,560.3 L458.5,562.3 L458.8,564.3 L459.0,566.3 L459.2,568.3 L459.4,570.3 L459.6,572.3 L459.9,574.3 L460.1,576.3 L460.3,578.3 L460.5,580.4 L460.7,582.4 L460.9,584.4 L461.1,586.4 L461.2,588.4 L461.4,590.4 L461.6,592.4 L461.8,594.5 L461.9,596.5 L462.1,598.5 L462.3,600.5 L462.4,602.5 L462.6,604.6 L462.7,606.6 L462.9,608.6 L463.0,610.6 L463.2,612.7 L463.3,614.7 L463.4,616.7 L463.6,618.7 L463.7,620.8 L463.8,622.8 L463.9,624.8 L464.1,626.8 L464.2,628.9 L464.3,630.9 L464.4,632.9 L464.5,635.0 L464.6,637.0 L464.7,639.0 L464.8,641.0 L464.9,643.1 L465.0,645.1 L465.1,647.1 L465.2,649.2 L465.3,651.2 L465.4,653.2 L465.4,655.3 L465.5,657.3 L465.6,659.3 L465.7,661.4 L465.8,663.4 L465.8,665.4 L465.9,667.5 L466.0,669.5 L466.0,671.5 L466.1,673.6 L466.1,675.6 L466.2,677.6 L466.3,679.7 L466.3,681.7 L466.4,683.7 L466.4,685.8 L466.5,687.8 L466.5,689.8 L466.6,691.9 L466.6,693.9 L466.7,695.9 L466.7,698.0 L466.8,700.0 L466.8,702.0 L466.8,704.1 L466.9,706.1 L466.9,708.1 L467.0,710.2 L467.0,712.2 L467.0,714.2 L467.1,716.3 L467.1,718.3 L467.1,720.3 L467.1,722.4 L467.2,724.4 L467.2,726.4 L467.2,728.4 L467.3,730.5 L467.3,732.5 L467.3,734.5 L467.3,736.6 L467.4,738.6 L467.4,740.6 L467.4,742.6 L467.5,744.7 L467.5,746.7 L467.5,748.7 L467.5,750.7 L467.6,752.8 L467.6,754.8 L467.6,756.8 L467.6,758.8 L467.7,760.8 L467.7,762.9 L467.7,764.9 L467.7,766.9 L467.8,768.9 L467.8,770.9 L467.8,773.0 L467.8,775.0 L467.9,777.0 L467.9,779.0 L467.9,781.0 L467.9,783.0 L468.0,785.0 L468.0,787.1 L468.0,789.1 L468.1,791.1 L468.1,793.1 L468.1,795.1 L468.2,797.1 L468.2,799.1 L468.2,801.1 L468.3,803.1 L468.3,805.1 L468.4,807.1 L468.4,809.1 L468.4,811.1 L468.5,813.1 L468.5,815.1 L468.6,817.1 L468.6,819.1 L468.7,821.1 L468.7,823.1 L468.8,825.1 L468.8,827.1 L468.9,829.0 L468.9,831.0 L469.0,833.0 L469.1,835.0 L469.1,837.0 L469.2,839.0 L469.3,841.0 L469.3,842.9 L469.4,844.9 L469.5,846.9 L469.5,848.9 L469.6,850.8 L469.7,852.8 L469.8,854.8 L469.9,856.7 L470.0,858.7 L470.0,860.7 L470.1,862.6 L470.2,864.6 L470.3,866.6 L470.4,868.5 L470.5,870.5 L470.6,872.4 L470.7,874.4 L470.9,876.4 L471.0,878.3 L471.1,880.3 L471.2,882.2 L471.3,884.2 L471.5,886.1 L471.6,888.0 L471.7,890.0 M471.7,890.0 L471.8,887.9 L471.9,885.8 L471.9,883.7 L472.0,881.7 L472.1,879.6 L472.2,877.5 L472.2,875.4 L472.3,873.3 L472.4,871.3 L472.4,869.2 L472.5,867.1 L472.6,865.1 L472.6,863.0 L472.7,861.0 L472.8,858.9 L472.8,856.9 L472.9,854.8 L472.9,852.8 L473.0,850.8 L473.1,848.7 L473.1,846.7 L473.2,844.6 L473.2,842.6 L473.3,840.6 L473.3,838.6 L473.4,836.5 L473.4,834.5 L473.5,832.5 L473.5,830.5 L473.6,828.5 L473.6,826.5 L473.7,824.5 L473.7,822.5 L473.8,820.5 L473.8,818.5 L473.9,816.5 L473.9,814.5 L473.9,812.5 L474.0,810.5 L474.0,808.5 L474.1,806.5 L474.1,804.5 L474.1,802.5 L474.2,800.5 L474.2,798.5 L474.3,796.6 L474.3,794.6 L474.4,792.6 L474.4,790.6 L474.4,788.6 L474.5,786.7 L474.5,784.7 L474.6,782.7 L474.6,780.8 L474.6,778.8 L474.7,776.8 L474.7,774.9 L474.8,772.9 L474.8,770.9 L474.8,769.0 L474.9,767.0 L474.9,765.0 L475.0,763.1 L475.0,761.1 L475.0,759.2 L475.1,757.2 L475.1,755.2 L475.2,753.3 L475.2,751.3 L475.3,749.4 L475.3,747.4 L475.4,745.5 L475.4,743.5 L475.5,741.6 L475.5,739.6 L475.6,737.7 L475.6,735.7 L475.7,733.8 L475.7,731.8 L475.8,729.9 L475.8,727.9 L475.9,726.0 L475.9,724.0 L476.0,722.1 L476.0,720.1 L476.1,718.2 L476.2,716.2 L476.2,714.3 L476.3,712.3 L476.3,710.4 L476.4,708.4 L476.5,706.5 L476.5,704.5 L476.6,702.5 L476.7,700.6 L476.7,698.6 L476.8,696.7 L476.9,694.7 L477.0,692.8 L477.0,690.8 L477.1,688.9 L477.2,686.9 L477.3,685.0 L477.4,683.0 L477.5,681.0 L477.5,679.1 L477.6,677.1 L477.7,675.2 L477.8,673.2 L477.9,671.2 L478.0,669.3 L478.1,667.3 L478.2,665.4 L478.3,663.4 L478.4,661.4 L478.5,659.4 L478.6,657.5 L478.7,655.5 L478.8,653.5 L478.9,651.6 L479.1,649.6 L479.2,647.6 L479.3,645.6 L479.4,643.6 L479.5,641.7 L479.7,639.7 L479.8,637.7 L479.9,635.7 L480.1,633.7 L480.2,631.7 L480.3,629.7 L480.5,627.7 L480.6,625.7 L480.8,623.8 L480.9,621.8 L481.1,619.8 L481.2,617.7 L481.4,615.7 L481.6,613.7 L481.7,611.7 L481.9,609.7 L482.1,607.7 L482.2,605.7 L482.4,603.7 L482.6,601.6 L482.8,599.6 L482.9,597.6 L483.1,595.6 L483.3,593.5 L483.5,591.5 L483.7,589.5 L483.9,587.4 L484.1,585.4 L484.3,583.3 L484.5,581.3 L484.8,579.2 L485.0,577.2 L485.2,575.1 L485.4,573.1 L485.6,571.0 L485.9,569.0 L486.1,566.9 L486.4,564.9 L486.6,562.8 L486.9,560.8 L487.1,558.7 L487.4,556.6 L487.6,554.6 L487.9,552.5 L488.2,550.5 L488.5,548.4 L488.8,546.3 L489.0,544.3 L489.3,542.2 L489.6,540.2 L489.9,538.1 L490.3,536.1 L490.6,534.0 L490.9,531.9 L491.2,529.9 L491.6,527.8 L491.9,525.8 L492.3,523.7 L492.6,521.7 L493.0,519.6 L493.3,517.6 L493.7,515.6 L494.1,513.5 L494.5,511.5 L494.9,509.4 L495.3,507.4 L495.7,505.4 L496.1,503.3 L496.5,501.3 L496.9,499.3 L497.4,497.3 L497.8,495.2 L498.3,493.2 L498.7,491.2 L499.2,489.2 L499.6,487.2 L500.1,485.2 L500.6,483.2 L501.1,481.2 L501.6,479.2 L502.1,477.2 L502.6,475.2 L503.2,473.3 L503.7,471.3 L504.3,469.3 L504.8,467.3 L505.4,465.4 L505.9,463.4 L506.5,461.5 L507.1,459.5 L507.7,457.6 L508.3,455.7 L508.9,453.7 L509.6,451.8 L510.2,449.9 L510.8,448.0 L511.5,446.1 L512.1,444.2 L512.8,442.3 L513.5,440.4 L514.2,438.5 L514.9,436.6 L515.6,434.7 L516.3,432.9 L517.1,431.0 L517.8,429.2 L518.6,427.3 L519.3,425.5 L520.1,423.7 L520.9,421.8 L521.7,420.0 L522.5,418.2 L523.3,416.4 L524.1,414.6 L525.0,412.8 L525.8,411.1 L526.7,409.3 L527.6,407.5 L528.4,405.8 L529.3,404.0 L530.2,402.3 L531.2,400.6 L532.1,398.9 L533.0,397.2 L534.0,395.5 L535.0,393.8 L535.9,392.1 L536.9,390.4 L537.9,388.8 L539.0,387.1 L540.0,385.5 L541.0,383.8 L542.1,382.2 L543.1,380.6 L544.2,379.0 L545.3,377.4 L546.4,375.8 L547.5,374.3 L548.7,372.7 L549.8,371.1 L551.0,369.6 L552.2,368.1 L553.3,366.6 L554.5,365.1 L555.8,363.6 L557.0,362.1 L558.2,360.6 L559.5,359.2 L560.8,357.7 L562.0,356.3 L563.3,354.9 L564.6,353.4 L566.0,352.0 L567.3,350.6 L568.6,349.3 L570.0,347.9 L571.4,346.5 L572.8,345.2 L574.2,343.9 L575.6,342.5 L577.0,341.2 L578.4,339.9 L579.9,338.6 L581.3,337.3 L582.8,336.1 L584.3,334.8 L585.8,333.6 L587.3,332.3 L588.8,331.1 L590.3,329.9 L591.9,328.7 L593.4,327.5 L595.0,326.3 L596.6,325.1 L598.1,324.0 L599.7,322.8 L601.3,321.6 L602.9,320.5 L604.6,319.4 L606.2,318.3 L607.8,317.2 L609.5,316.1 L611.1,315.0 L612.8,313.9 L614.5,312.8 L616.2,311.8 L617.9,310.7 L619.6,309.7 L621.3,308.7 L623.0,307.6 L624.7,306.6 L626.4,305.6 L628.2,304.6 L629.9,303.6 L631.7,302.7 L633.5,301.7 L635.2,300.7 L637.0,299.8 L638.8,298.9 L640.6,297.9 L642.4,297.0 L644.2,296.1 L646.0,295.2 L647.8,294.3 L649.7,293.4 L651.5,292.5 L653.3,291.7 L655.2,290.8 L657.0,289.9 L658.9,289.1 L660.7,288.3 L662.6,287.4 L664.5,286.6 L666.4,285.8 L668.2,285.0 L670.1,284.2 L672.0,283.4 L673.9,282.6 L675.8,281.8 L677.7,281.1 L679.6,280.3 L681.5,279.6 L683.5,278.8 L685.4,278.1 L687.3,277.3 L689.2,276.6 L691.2,275.9 L693.1,275.2 L695.0,274.5 L697.0,273.8 L698.9,273.1 L700.9,272.4 L702.8,271.8 L704.8,271.1 L706.7,270.5 L708.7,269.8 L710.6,269.2 L712.6,268.5 L714.6,267.9 L716.5,267.3 L718.5,266.7 L720.4,266.0 L722.4,265.4 L724.4,264.8 L726.3,264.2 L728.3,263.7 L730.3,263.1 L732.3,262.5 L734.2,261.9 L736.2,261.4 L738.2,260.8 L740.1,260.3 L742.1,259.7 L744.1,259.2 L746.0,258.7 L748.0,258.1 L750.0,257.6 L752.0,257.1 L753.9,256.6 L755.9,256.1 L757.9,255.6 L759.8,255.1 L761.8,254.6 L763.8,254.1 L765.7,253.7 L767.7,253.2 L769.6,252.7 L771.6,252.3 L773.6,251.8 L775.5,251.4 L777.5,250.9 L779.5,250.5 L781.4,250.0 L783.4,249.6 L785.3,249.2 L787.3,248.7 L789.3,248.3 L791.2,247.9 L793.2,247.5 L795.1,247.1 L797.1,246.7 L799.1,246.3 L801.0,245.9 L803.0,245.5 L804.9,245.2 L806.9,244.8 L808.8,244.4 L810.8,244.0 L812.8,243.7 L814.7,243.3 L816.7,242.9 L818.6,242.6 L820.6,242.2 L822.5,241.9 L824.5,241.5 L826.5,241.2 L828.4,240.9 L830.4,240.5 L832.3,240.2 L834.3,239.9 L836.2,239.6 L838.2,239.2 L840.1,238.9 L842.1,238.6 L844.0,238.3 L846.0,238.0 L847.9,237.7 L849.9,237.4 L851.9,237.1 L853.8,236.8 L855.8,236.5 L857.7,236.2 L859.7,235.9 L861.6,235.6 L863.6,235.4 L865.5,235.1 L867.5,234.8 L869.4,234.5 L871.4,234.2 L873.3,234.0 L875.3,233.7 L877.3,233.4 L879.2,233.2 L881.2,232.9 L883.1,232.7 L885.1,232.4 L887.0,232.1 L889.0,231.9 L890.9,231.6 L892.9,231.4 L894.8,231.1 L896.8,230.9 L898.8,230.6 L900.7,230.4 L902.7,230.2 L904.6,229.9 L906.6,229.7 L908.5,229.4 L910.5,229.2 L912.5,229.0 L914.4,228.7 L916.4,228.5 L918.3,228.3 L920.3,228.0 L922.2,227.8 L924.2,227.6 L926.2,227.3 L928.1,227.1 L930.1,226.9 L932.0,226.7 L934.0,226.4 L936.0,226.2 L937.9,226.0 L939.9,225.8 L941.9,225.5 L943.8,225.3 L945.8,225.1 L947.7,224.9 L949.7,224.6 L951.7,224.4 L953.6,224.2 L955.6,224.0 L957.6,223.7 L959.5,223.5 L961.5,223.3 L963.5,223.1 L965.4,222.9 L967.4,222.6 L969.4,222.4 L971.4,222.2 L973.3,222.0 L975.3,221.7 L977.3,221.5 L979.2,221.3 L981.2,221.0 L983.2,220.8 L985.2,220.6 L987.1,220.4 L989.1,220.1 L991.1,219.9 L993.1,219.7 L995.0,219.4 L997.0,219.2 L999.0,219.0 L1001.0,218.7 L1003.0,218.5 L1004.9,218.2 L1006.9,218.0 L1008.9,217.8 L1010.9,217.5 L1012.9,217.3 L1014.9,217.0 L1016.9,216.8 L1018.8,216.5 L1020.8,216.3 L1022.8,216.0 L1024.8,215.7 L1026.8,215.5 L1028.8,215.2 L1030.8,215.0 L1032.8,214.7 L1034.8,214.4 L1036.8,214.2 L1038.8,213.9 L1040.8,213.6 L1042.8,213.3 L1044.8,213.1 L1046.8,212.8 L1048.8,212.5 L1050.8,212.2 L1052.8,211.9 L1054.8,211.6 L1056.8,211.3 L1058.8,211.0 L1060.8,210.7 L1062.8,210.4 L1064.8,210.1 L1066.8,209.8 L1068.8,209.5 L1070.8,209.2 L1072.8,208.9 L1074.9,208.6 L1076.9,208.3 L1078.9,207.9 L1080.9,207.6 L1082.9,207.3 L1084.9,207.0 L1086.9,206.7 L1089.0,206.3 L1091.0,206.0 L1093.0,205.7 L1095.0,205.4 L1097.0,205.0 L1099.1,204.7 L1101.1,204.4 L1103.1,204.1 L1105.1,203.8 L1107.1,203.4 L1109.2,203.1 L1111.2,202.8 L1113.2,202.5 L1115.2,202.2 L1117.3,201.9 L1119.3,201.6 L1121.3,201.3 L1123.3,201.0 L1125.4,200.7 L1127.4,200.4 L1129.4,200.1 L1131.4,199.8 L1133.4,199.5 L1135.5,199.2 L1137.5,198.9 L1139.5,198.6 L1141.5,198.4 L1143.6,198.1 L1145.6,197.8 L1147.6,197.6 L1149.6,197.3 L1151.6,197.1 L1153.7,196.8 L1155.7,196.6 L1157.7,196.4 L1159.7,196.1 L1161.7,195.9 L1163.7,195.7 L1165.8,195.5 L1167.8,195.3 L1169.8,195.1 L1171.8,194.9 L1173.8,194.7 L1175.8,194.5 L1177.8,194.4 L1179.9,194.2 L1181.9,194.0 L1183.9,193.9 L1185.9,193.8 L1187.9,193.6 L1189.9,193.5 L1191.9,193.4 L1193.9,193.3 L1195.9,193.2 L1197.9,193.1 L1199.9,193.0 L1201.9,192.9 L1203.9,192.9 L1205.9,192.8 L1207.9,192.8 L1209.9,192.8 L1211.9,192.7 L1213.9,192.7 L1215.9,192.7 L1217.8,192.7 L1219.8,192.8 L1221.8,192.8 L1223.8,192.9 L1225.8,192.9 L1227.8,193.0 L1229.7,193.1 L1231.7,193.1 L1233.7,193.3 L1235.7,193.4 L1237.6,193.5 L1239.6,193.6 L1241.6,193.8 L1243.5,194.0 L1245.5,194.1 L1247.5,194.3 L1249.4,194.5 L1251.4,194.8 L1253.3,195.0 L1255.3,195.2 L1257.2,195.5 L1259.2,195.8 L1261.1,196.1 L1263.1,196.4 L1265.0,196.7 L1267.0,197.0 L1268.9,197.4 L1270.8,197.8 L1272.8,198.1 L1274.7,198.5 L1276.6,199.0 L1278.5,199.4 L1280.5,199.9 L1282.4,200.3 L1284.3,200.8 L1286.2,201.3 L1288.1,201.9 L1289.9,202.5 L1291.8,203.1 L1293.6,203.7 L1295.5,204.3 L1297.3,205.0 L1299.1,205.7 L1300.9,206.5 L1302.7,207.3 L1304.5,208.1 L1306.2,208.9 L1308.0,209.8 L1309.7,210.7 L1311.4,211.7 L1313.0,212.7 L1314.7,213.7 L1316.3,214.8 L1317.9,215.9 L1319.5,217.0 L1321.1,218.2 L1322.6,219.4 L1324.1,220.7 L1325.6,221.9 L1327.0,223.3 L1328.4,224.6 L1329.8,226.0 L1331.2,227.4 L1332.5,228.9 L1333.8,230.4 L1335.1,231.9 L1336.4,233.4 L1337.6,235.0 L1338.8,236.5 L1340.0,238.2 L1341.2,239.8 L1342.3,241.4 L1343.5,243.1 L1344.6,244.8 L1345.6,246.5 L1346.7,248.3 L1347.7,250.0 L1348.7,251.8 L1349.7,253.6 L1350.7,255.4 L1351.7,257.2 L1352.6,259.0 L1353.5,260.8 L1354.4,262.6 L1355.3,264.5 L1356.2,266.3 L1357.0,268.2 L1357.9,270.0 L1358.7,271.9 L1359.5,273.8 L1360.3,275.7 L1361.0,277.6 L1361.8,279.4 L1362.5,281.3 L1363.2,283.2 L1363.9,285.2 L1364.6,287.1 L1365.3,289.0 L1365.9,290.9 L1366.6,292.8 L1367.2,294.8 L1367.8,296.7 L1368.4,298.6 L1369.0,300.6 L1369.6,302.5 L1370.1,304.5 L1370.7,306.4 L1371.2,308.4 L1371.7,310.3 L1372.2,312.3 L1372.7,314.2 L1373.2,316.2 L1373.7,318.2 L1374.1,320.2 L1374.6,322.1 L1375.0,324.1 L1375.4,326.1 L1375.8,328.0 L1376.2,330.0 L1376.6,332.0 L1377.0,334.0 L1377.3,336.0 L1377.7,337.9 L1378.0,339.9 L1378.4,341.9 L1378.7,343.9 L1379.0,345.9 L1379.3,347.8 L1379.6,349.8 L1379.9,351.8 L1380.2,353.8 L1380.4,355.8 L1380.7,357.8 L1380.9,359.8 L1381.2,361.7 L1381.4,363.7 L1381.6,365.7 L1381.8,367.7 L1382.0,369.7 L1382.2,371.7 L1382.4,373.7 L1382.6,375.7 L1382.8,377.6 L1383.0,379.6 L1383.1,381.6 L1383.3,383.6 L1383.5,385.6 L1383.6,387.6 L1383.7,389.6 L1383.9,391.6 L1384.0,393.6 L1384.1,395.6 L1384.2,397.6 L1384.4,399.5 L1384.5,401.5 L1384.6,403.5 L1384.7,405.5 L1384.8,407.5 L1384.8,409.5 L1384.9,411.5 L1385.0,413.5 L1385.1,415.5 L1385.2,417.5 L1385.2,419.5 L1385.3,421.5 L1385.4,423.5 L1385.4,425.5 L1385.5,427.5 L1385.6,429.5 L1385.6,431.5 L1385.7,433.5 L1385.7,435.5 L1385.8,437.5 L1385.8,439.5 L1385.9,441.5 L1385.9,443.5 L1386.0,445.5 L1386.0,447.5 L1386.1,449.5 L1386.1,451.5 L1386.2,453.5 L1386.2,455.4 L1386.2,457.4 L1386.3,459.4 L1386.3,461.4 L1386.4,463.4 L1386.4,465.4 L1386.5,467.4 L1386.5,469.4 L1386.6,471.4 L1386.6,473.4 L1386.7,475.4 L1386.7,477.4 L1386.8,479.4 L1386.9,481.4 L1386.9,483.4 L1387.0,485.5 L1387.0,487.5 L1387.1,489.5 L1387.1,491.5 L1387.2,493.5 L1387.3,495.5 L1387.3,497.5 L1387.4,499.5 L1387.5,501.5 L1387.5,503.5 L1387.6,505.5 L1387.7,507.5 L1387.7,509.5 L1387.8,511.5 L1387.9,513.5 L1387.9,515.5 L1388.0,517.5 L1388.1,519.5 L1388.1,521.5 L1388.2,523.5 L1388.3,525.5 L1388.4,527.5 L1388.4,529.5 L1388.5,531.5 L1388.6,533.5 L1388.7,535.5 L1388.7,537.5 L1388.8,539.5 L1388.9,541.5 L1388.9,543.5 L1389.0,545.5 L1389.1,547.5 L1389.2,549.5 L1389.3,551.5 L1389.3,553.5 L1389.4,555.5 L1389.5,557.5 L1389.6,559.5 L1389.6,561.5 L1389.7,563.5 L1389.8,565.5 L1389.9,567.5 L1389.9,569.6 L1390.0,571.6 L1390.1,573.6 L1390.2,575.6 L1390.2,577.6 L1390.3,579.6 L1390.4,581.6 L1390.5,583.6 L1390.5,585.6 L1390.6,587.6 L1390.7,589.6 L1390.8,591.6 L1390.8,593.6 L1390.9,595.6 L1391.0,597.6 L1391.1,599.6 L1391.1,601.6 L1391.2,603.6 L1391.3,605.6 L1391.3,607.6 L1391.4,609.6 L1391.5,611.6 L1391.6,613.6 L1391.6,615.6 L1391.7,617.7 L1391.8,619.7 L1391.8,621.7 L1391.9,623.7 L1392.0,625.7 L1392.0,627.7 L1392.1,629.7 L1392.1,631.7 L1392.2,633.7 L1392.3,635.7 L1392.3,637.7 L1392.4,639.7 L1392.5,641.7 L1392.5,643.7 L1392.6,645.7 L1392.6,647.7 L1392.7,649.7 L1392.7,651.7 L1392.8,653.7 L1392.8,655.7 L1392.9,657.7 L1392.9,659.7 L1393.0,661.8 L1393.0,663.8 L1393.1,665.8 L1393.1,667.8 L1393.2,669.8 L1393.2,671.8 L1393.3,673.8 L1393.3,675.8 L1393.3,677.8 L1393.4,679.8 L1393.4,681.8 L1393.4,683.8 L1393.5,685.8 L1393.5,687.8 L1393.5,689.8 L1393.6,691.8 L1393.6,693.8 L1393.6,695.8 L1393.7,697.8 L1393.7,699.8 L1393.7,701.8 L1393.7,703.8 L1393.7,705.8 L1393.8,707.9 L1393.8,709.9 L1393.8,711.9 L1393.8,713.9 L1393.8,715.9 L1393.8,717.9 L1393.8,719.9 L1393.8,721.9 L1393.8,723.9 L1393.8,725.9 L1393.8,727.9 L1393.8,729.9 L1393.8,731.9 L1393.8,733.9 L1393.8,735.9 L1393.8,737.9 L1393.8,739.9 L1393.8,741.9 L1393.8,743.9 L1393.7,745.9 L1393.7,747.9 L1393.7,749.9 L1393.7,751.9 L1393.6,753.9 L1393.6,755.9 L1393.6,757.9 L1393.5,759.9 L1393.5,762.0 L1393.5,764.0 L1393.4,766.0 L1393.4,768.0 L1393.3,770.0 L1393.3,772.0 L1393.2,774.0 L1393.2,776.0 L1393.1,778.0 L1393.1,780.0 L1393.0,782.0 L1393.0,784.0 L1392.9,786.0 L1392.8,788.0 L1392.7,790.0 L1392.7,792.0 L1392.6,794.0 L1392.5,796.0 L1392.4,798.0 L1392.4,800.0 L1392.3,802.0 L1392.2,804.0 L1392.1,806.0 L1392.0,808.0 M1393.0,808.0 L1393.0,806.0 L1393.0,803.9 L1393.0,801.9 L1393.0,799.9 L1393.0,797.9 L1393.0,795.8 L1393.0,793.8 L1393.0,791.8 L1393.0,789.8 L1393.0,787.7 L1393.0,785.7 L1393.0,783.7 L1393.0,781.7 L1393.0,779.6 L1393.0,777.6 L1393.0,775.6 L1393.0,773.6 L1393.0,771.6 L1393.0,769.5 L1393.0,767.5 L1393.0,765.5 L1393.0,763.5 L1393.0,761.5 L1393.0,759.4 L1393.0,757.4 L1393.0,755.4 L1393.0,753.4 L1393.0,751.4 L1393.0,749.3 L1393.0,747.3 L1392.9,745.3 L1392.9,743.3 L1392.9,741.3 L1392.9,739.3 L1392.9,737.3 L1392.9,735.2 L1392.9,733.2 L1392.9,731.2 L1392.9,729.2 L1392.9,727.2 L1392.9,725.2 L1392.9,723.2 L1392.9,721.2 L1392.9,719.1 L1392.9,717.1 L1392.9,715.1 L1392.8,713.1 L1392.8,711.1 L1392.8,709.1 L1392.8,707.1 L1392.8,705.1 L1392.8,703.1 L1392.8,701.1 L1392.8,699.1 L1392.8,697.0 L1392.8,695.0 L1392.8,693.0 L1392.8,691.0 L1392.8,689.0 L1392.8,687.0 L1392.8,685.0 L1392.8,683.0 L1392.8,681.0 L1392.8,679.0 L1392.8,677.0 L1392.8,675.0 L1392.7,673.0 L1392.7,671.0 L1392.7,669.0 L1392.7,667.0 L1392.7,665.0 L1392.7,663.0 L1392.7,661.0 L1392.7,659.0 L1392.7,657.0 L1392.7,655.0 L1392.7,653.0 L1392.7,651.0 L1392.7,649.0 L1392.7,647.0 L1392.7,645.0 L1392.7,643.0 L1392.7,641.0 L1392.7,639.0 L1392.8,637.0 L1392.8,635.0 L1392.8,633.0 L1392.8,631.0 L1392.8,629.0 L1392.8,627.0 L1392.8,625.0 L1392.8,623.0 L1392.8,621.0 L1392.8,619.0 L1392.8,617.0 L1392.8,615.0 L1392.8,613.0 L1392.8,611.0 L1392.9,609.0 L1392.9,607.0 L1392.9,605.0 L1392.9,603.0 L1392.9,601.1 L1392.9,599.1 L1392.9,597.1 L1393.0,595.1 L1393.0,593.1 L1393.0,591.1 L1393.0,589.1 L1393.0,587.1 L1393.1,585.1 L1393.1,583.1 L1393.1,581.1 L1393.1,579.1 L1393.1,577.1 L1393.2,575.1 L1393.2,573.1 L1393.2,571.2 L1393.2,569.2 L1393.3,567.2 L1393.3,565.2 L1393.3,563.2 L1393.4,561.2 L1393.4,559.2 L1393.4,557.2 L1393.5,555.2 L1393.5,553.2 L1393.5,551.2 L1393.6,549.3 L1393.6,547.3 L1393.6,545.3 L1393.7,543.3 L1393.7,541.3 L1393.8,539.3 L1393.8,537.3 L1393.8,535.3 L1393.9,533.3 L1393.9,531.3 L1394.0,529.4 L1394.0,527.4 L1394.1,525.4 L1394.1,523.4 L1394.2,521.4 L1394.2,519.4 L1394.3,517.4 L1394.3,515.4 L1394.4,513.4 L1394.4,511.4 L1394.5,509.5 L1394.6,507.5 L1394.6,505.5 L1394.7,503.5 L1394.7,501.5 L1394.8,499.5 L1394.9,497.5 L1394.9,495.5 L1395.0,493.5 L1395.1,491.6 L1395.1,489.6 L1395.2,487.6 L1395.3,485.6 L1395.4,483.6 L1395.4,481.6 L1395.5,479.6 L1395.6,477.6 L1395.7,475.6 L1395.8,473.7 L1395.8,471.7 L1395.9,469.7 L1396.0,467.7 L1396.1,465.7 L1396.2,463.7 L1396.3,461.7 L1396.4,459.7 L1396.5,457.8 L1396.6,455.8 L1396.6,453.8 L1396.7,451.8 L1396.8,449.8 L1396.9,447.8 L1397.0,445.8 L1397.2,443.8 L1397.3,441.8 L1397.4,439.9 L1397.5,437.9 L1397.6,435.9 L1397.7,433.9 L1397.8,431.9 L1397.9,429.9 L1398.0,427.9 L1398.2,425.9 L1398.3,423.9 L1398.4,421.9 L1398.5,420.0 L1398.6,418.0 L1398.8,416.0 L1398.9,414.0 L1399.0,412.0 L1399.2,410.0 L1399.3,408.0 L1399.4,406.0 L1399.5,404.0 L1399.7,402.0 L1399.8,400.1 L1399.9,398.1 L1400.1,396.1 L1400.2,394.1 L1400.4,392.1 L1400.5,390.1 L1400.6,388.1 L1400.8,386.1 L1400.9,384.1 L1401.1,382.1 L1401.2,380.1 L1401.3,378.1 L1401.5,376.2 L1401.6,374.2 L1401.8,372.2 L1401.9,370.2 L1402.1,368.2 L1402.2,366.2 L1402.3,364.2 L1402.5,362.2 L1402.6,360.2 L1402.8,358.2 L1402.9,356.2 L1403.1,354.2 L1403.2,352.2 L1403.4,350.2 L1403.5,348.2 L1403.7,346.2 L1403.8,344.2 L1404.0,342.3 L1404.1,340.3 L1404.3,338.3 L1404.4,336.3 L1404.5,334.3 L1404.7,332.3 L1404.8,330.3 L1405.0,328.3 L1405.1,326.3 L1405.3,324.3 L1405.4,322.3 L1405.6,320.3 L1405.7,318.3 L1405.9,316.3 L1406.1,314.3 L1406.2,312.3 L1406.4,310.3 L1406.6,308.3 L1406.7,306.3 L1406.9,304.3 L1407.1,302.3 L1407.3,300.3 L1407.5,298.3 L1407.7,296.3 L1407.9,294.3 L1408.1,292.3 L1408.3,290.3 L1408.6,288.3 L1408.8,286.3 L1409.0,284.3 L1409.3,282.3 L1409.5,280.3 L1409.8,278.3 L1410.1,276.3 L1410.4,274.3 L1410.7,272.3 L1411.0,270.3 L1411.3,268.2 L1411.6,266.2 L1411.9,264.2 L1412.3,262.2 L1412.6,260.2 L1413.0,258.2 L1413.4,256.2 L1413.8,254.2 L1414.2,252.2 L1414.6,250.2 L1415.1,248.2 L1415.5,246.2 L1416.0,244.2 L1416.4,242.1 L1416.9,240.1 L1417.4,238.1 L1418.0,236.1 L1418.5,234.1 L1419.0,232.1 L1419.6,230.1 L1420.2,228.1 L1420.7,226.1 L1421.3,224.1 L1421.9,222.1 L1422.5,220.1 L1423.2,218.1 L1423.8,216.1 L1424.4,214.1 L1425.1,212.1 L1425.7,210.2 L1426.4,208.2 L1427.0,206.2 L1427.7,204.3 L1428.3,202.3 L1429.0,200.3 L1429.7,198.4 L1430.4,196.5 L1431.0,194.5 L1431.7,192.6 L1432.4,190.7 L1433.1,188.8 L1433.8,186.9 L1434.4,185.0 L1435.1,183.1 L1435.8,181.2 L1436.5,179.3 L1437.1,177.5 L1437.8,175.6 L1438.5,173.8 L1439.1,171.9 L1439.8,170.1 L1440.4,168.3 L1441.1,166.5 L1441.7,164.7 L1442.4,162.9 L1443.0,161.2 L1443.6,159.4 L1444.3,157.7 L1444.9,155.9 L1445.6,154.2 L1446.3,152.5 L1447.0,150.8 L1447.7,149.2 L1448.4,147.5 L1449.2,145.9 L1450.0,144.2 L1450.9,142.6 L1451.7,141.0 L1452.7,139.4 L1453.6,137.9 L1454.7,136.3 L1455.7,134.8 L1456.9,133.3 L1458.0,131.8 L1459.3,130.3 L1460.6,128.8 L1462.0,127.4 L1463.4,126.0 L1464.9,124.7 L1466.4,123.5 L1468.0,122.4 L1469.6,121.4 L1471.2,120.5 L1472.8,119.8 L1474.5,119.3 L1476.2,118.9 L1477.9,118.7 L1479.6,118.7 L1481.3,119.0 L1483.0,119.4 L1484.7,120.0 L1486.4,120.8 L1488.1,121.8 L1489.7,122.8 L1491.4,124.0 L1493.0,125.3 L1494.7,126.7 L1496.3,128.1 L1497.8,129.6 L1499.4,131.1 L1500.9,132.6 L1502.4,134.1 L1503.9,135.7 L1505.3,137.2 L1506.7,138.8 L1508.1,140.3 L1509.4,141.9 L1510.7,143.5 L1512.0,145.1 L1513.3,146.7 L1514.5,148.3 L1515.8,149.9 L1516.9,151.5 L1518.1,153.1 L1519.3,154.8 L1520.4,156.4 L1521.5,158.0 L1522.6,159.7 L1523.6,161.4 L1524.7,163.0 L1525.7,164.7 L1526.7,166.4 L1527.7,168.1 L1528.6,169.8 L1529.6,171.5 L1530.5,173.2 L1531.4,174.9 L1532.3,176.6 L1533.2,178.3 L1534.0,180.1 L1534.9,181.8 L1535.7,183.6 L1536.5,185.3 L1537.3,187.1 L1538.1,188.8 L1538.9,190.6 L1539.6,192.4 L1540.4,194.2 L1541.1,195.9 L1541.9,197.7 L1542.6,199.5 L1543.3,201.3 L1544.0,203.1 L1544.7,205.0 L1545.4,206.8 L1546.1,208.6 L1546.8,210.4 L1547.4,212.3 L1548.1,214.1 L1548.7,215.9 L1549.4,217.8 L1550.0,219.6 L1550.7,221.5 L1551.3,223.4 L1551.9,225.2 L1552.5,227.1 L1553.1,229.0 L1553.7,230.9 L1554.3,232.7 L1554.9,234.6 L1555.5,236.5 L1556.1,238.4 L1556.7,240.3 L1557.2,242.2 L1557.8,244.1 L1558.4,246.1 L1558.9,248.0 L1559.4,249.9 L1560.0,251.8 L1560.5,253.7 L1561.0,255.7 L1561.6,257.6 L1562.1,259.5 L1562.6,261.5 L1563.1,263.4 L1563.6,265.4 L1564.1,267.3 L1564.6,269.3 L1565.0,271.2 L1565.5,273.2 L1566.0,275.2 L1566.5,277.1 L1566.9,279.1 L1567.4,281.1 L1567.8,283.0 L1568.3,285.0 L1568.7,287.0 L1569.2,289.0 L1569.6,290.9 L1570.0,292.9 L1570.4,294.9 L1570.8,296.9 L1571.3,298.9 L1571.7,300.9 L1572.1,302.9 L1572.5,304.9 L1572.9,306.9 L1573.3,308.9 L1573.6,310.9 L1574.0,312.9 L1574.4,314.9 L1574.8,316.9 L1575.1,318.9 L1575.5,320.9 L1575.9,322.9 L1576.2,324.9 L1576.6,326.9 L1576.9,328.9 L1577.3,330.9 L1577.6,333.0 L1577.9,335.0 L1578.3,337.0 L1578.6,339.0 L1578.9,341.0 L1579.2,343.0 L1579.5,345.1 L1579.9,347.1 L1580.2,349.1 L1580.5,351.1 L1580.8,353.1 L1581.1,355.1 L1581.4,357.2 L1581.7,359.2 L1582.0,361.2 L1582.2,363.2 L1582.5,365.2 L1582.8,367.2 L1583.1,369.3 L1583.4,371.3 L1583.6,373.3 L1583.9,375.3 L1584.2,377.3 L1584.4,379.3 L1584.7,381.3 L1584.9,383.4 L1585.2,385.4 L1585.4,387.4 L1585.7,389.4 L1585.9,391.4 L1586.2,393.4 L1586.4,395.4 L1586.6,397.4 L1586.9,399.4 L1587.1,401.4 L1587.3,403.4 L1587.6,405.4 L1587.8,407.4 L1588.0,409.5 L1588.2,411.5 L1588.4,413.5 L1588.6,415.5 L1588.8,417.5 L1589.1,419.5 L1589.3,421.5 L1589.5,423.5 L1589.7,425.5 L1589.9,427.5 L1590.0,429.5 L1590.2,431.5 L1590.4,433.5 L1590.6,435.5 L1590.8,437.5 L1591.0,439.4 L1591.2,441.4 L1591.3,443.4 L1591.5,445.4 L1591.7,447.4 L1591.8,449.4 L1592.0,451.4 L1592.2,453.4 L1592.3,455.4 L1592.5,457.4 L1592.7,459.4 L1592.8,461.4 L1593.0,463.4 L1593.1,465.4 L1593.3,467.3 L1593.4,469.3 L1593.5,471.3 L1593.7,473.3 L1593.8,475.3 L1594.0,477.3 L1594.1,479.3 L1594.2,481.3 L1594.4,483.3 L1594.5,485.2 L1594.6,487.2 L1594.7,489.2 L1594.9,491.2 L1595.0,493.2 L1595.1,495.2 L1595.2,497.2 L1595.3,499.2 L1595.5,501.1 L1595.6,503.1 L1595.7,505.1 L1595.8,507.1 L1595.9,509.1 L1596.0,511.1 L1596.1,513.1 L1596.2,515.0 L1596.3,517.0 L1596.4,519.0 L1596.5,521.0 L1596.6,523.0 L1596.7,525.0 L1596.7,526.9 L1596.8,528.9 L1596.9,530.9 L1597.0,532.9 L1597.1,534.9 L1597.2,536.9 L1597.2,538.8 L1597.3,540.8 L1597.4,542.8 L1597.5,544.8 L1597.5,546.8 L1597.6,548.8 L1597.7,550.7 L1597.7,552.7 L1597.8,554.7 L1597.9,556.7 L1597.9,558.7 L1598.0,560.6 L1598.1,562.6 L1598.1,564.6 L1598.2,566.6 L1598.2,568.6 L1598.3,570.6 L1598.3,572.5 L1598.4,574.5 L1598.4,576.5 L1598.5,578.5 L1598.5,580.5 L1598.6,582.5 L1598.6,584.4 L1598.7,586.4 L1598.7,588.4 L1598.7,590.4 L1598.8,592.4 L1598.8,594.4 L1598.9,596.3 L1598.9,598.3 L1598.9,600.3 L1599.0,602.3 L1599.0,604.3 L1599.0,606.3 L1599.1,608.2 L1599.1,610.2 L1599.1,612.2 L1599.1,614.2 L1599.2,616.2 L1599.2,618.2 L1599.2,620.2 L1599.2,622.1 L1599.2,624.1 L1599.3,626.1 L1599.3,628.1 L1599.3,630.1 L1599.3,632.1 L1599.3,634.1 L1599.4,636.1 L1599.4,638.0 L1599.4,640.0 L1599.4,642.0 L1599.4,644.0 L1599.4,646.0 L1599.4,648.0 L1599.4,650.0 L1599.4,652.0 L1599.5,654.0 L1599.5,656.0 L1599.5,657.9 L1599.5,659.9 L1599.5,661.9 L1599.5,663.9 L1599.5,665.9 L1599.5,667.9 L1599.5,669.9 L1599.5,671.9 L1599.5,673.9 L1599.5,675.9 L1599.5,677.9 L1599.5,679.9 L1599.5,681.9 L1599.5,683.9 L1599.5,685.9 L1599.5,687.9 L1599.5,689.9 L1599.5,691.9 L1599.5,693.9 L1599.5,695.9 L1599.5,697.9 L1599.5,699.9 L1599.5,701.9 L1599.5,703.9 L1599.4,705.9 L1599.4,707.9 L1599.4,709.9 L1599.4,711.9 L1599.4,713.9 L1599.4,715.9 L1599.4,717.9 L1599.4,719.9 L1599.4,721.9 L1599.4,723.9 L1599.4,726.0 L1599.4,728.0 L1599.3,730.0 L1599.3,732.0 L1599.3,734.0 L1599.3,736.0 L1599.3,738.0 L1599.3,740.0 L1599.3,742.0 L1599.3,744.1 L1599.3,746.1 L1599.3,748.1 L1599.2,750.1 L1599.2,752.1 L1599.2,754.1 L1599.2,756.2 L1599.2,758.2 L1599.2,760.2 L1599.2,762.2 L1599.2,764.3 L1599.2,766.3 L1599.2,768.3 L1599.1,770.3 L1599.1,772.4 L1599.1,774.4 L1599.1,776.4 L1599.1,778.4 L1599.1,780.5 L1599.1,782.5 L1599.1,784.5 L1599.1,786.6 L1599.1,788.6 L1599.1,790.6 L1599.0,792.7 L1599.0,794.7 L1599.0,796.7 L1599.0,798.8 L1599.0,800.8 L1599.0,802.8 L1599.0,804.9 L1599.0,806.9 L1599.0,809.0 L1599.0,811.0" stroke="#7fb894" stroke-width="3" stroke-dasharray="5 12"/>
</g>
<path d="M185.5,89.0 L187.3,89.7 L189.2,90.5 L191.0,91.2 L192.8,91.9 L194.6,92.6 L196.5,93.4 L198.3,94.1 L200.1,94.8 L201.9,95.5 L203.7,96.3 L205.6,97.0 L207.4,97.8 L209.2,98.5 L211.0,99.3 L212.9,100.0 L214.7,100.8 L216.5,101.5 L218.3,102.3 L220.2,103.0 L222.0,103.8 L223.8,104.6 L225.6,105.3 L227.4,106.1 L229.3,106.9 L231.1,107.7 L232.9,108.5 L234.7,109.2 L236.6,110.0 L238.4,110.8 L240.2,111.6 L242.0,112.4 L243.8,113.2 L245.7,114.0 L247.5,114.8 L249.3,115.6 L251.1,116.4 L252.9,117.2 L254.7,118.1 L256.6,118.9 L258.4,119.7 L260.2,120.5 L262.0,121.3 L263.8,122.2 L265.6,123.0 L267.5,123.9 L269.3,124.7 L271.1,125.5 L272.9,126.4 L274.7,127.2 L276.5,128.1 L278.3,128.9 L280.1,129.8 L281.9,130.7 L283.7,131.5 L285.6,132.4 L287.4,133.3 L289.2,134.2 L291.0,135.0 L292.8,135.9 L294.6,136.8 L296.4,137.7 L298.2,138.6 L300.0,139.5 L301.8,140.4 L303.6,141.3 L305.4,142.2 L307.2,143.1 L309.0,144.0 L310.8,144.9 L312.6,145.8 L314.4,146.8 L316.2,147.7 L318.0,148.6 L319.7,149.6 L321.5,150.5 L323.3,151.4 L325.1,152.4 L326.9,153.3 L328.7,154.3 L330.5,155.2 L332.3,156.2 L334.0,157.2 L335.8,158.1 L337.6,159.1 L339.4,160.1 L341.2,161.0 L342.9,162.0 L344.7,163.0 L346.5,164.0 L348.3,165.0 L350.0,166.0 L351.8,167.0 L353.6,168.0 L355.3,169.0 L357.1,170.0 L358.9,171.0 L360.6,172.0 L362.4,173.1 L364.2,174.1 L365.9,175.1 L367.7,176.2 L369.4,177.2 L371.2,178.2 L372.9,179.3 L374.7,180.3 L376.4,181.4 L378.2,182.4 L379.9,183.5 L381.7,184.6 L383.4,185.6 L385.2,186.7 L386.9,187.8 L388.6,188.9 L390.4,190.0 L392.1,191.1 L393.8,192.1 L395.6,193.2 L397.3,194.3 L399.0,195.5 L400.7,196.6 L402.4,197.7 L404.1,198.8 L405.9,199.9 L407.6,201.0 L409.3,202.2 L411.0,203.3 L412.7,204.5 L414.4,205.6 L416.1,206.7 L417.8,207.9 L419.4,209.1 L421.1,210.2 L422.8,211.4 L424.5,212.6 L426.2,213.7 L427.8,214.9 L429.5,216.1 L431.1,217.3 L432.8,218.5 L434.5,219.7 L436.1,220.9 L437.8,222.1 L439.4,223.3 L441.0,224.5 L442.7,225.7 L444.3,226.9 L445.9,228.2 L447.5,229.4 L449.2,230.6 L450.8,231.9 L452.4,233.1 L454.0,234.4 L455.6,235.6 L457.2,236.9 L458.8,238.2 L460.4,239.4 L461.9,240.7 L463.5,242.0 L465.1,243.3 L466.7,244.6 L468.2,245.8 L469.8,247.1 L471.3,248.4 L472.9,249.8 L474.4,251.1 L475.9,252.4 L477.5,253.7 L479.0,255.0 L480.5,256.4 L482.0,257.7 L483.5,259.0 L485.0,260.4 L486.5,261.7 L488.0,263.1 L489.5,264.4 L491.0,265.8 L492.5,267.2 L493.9,268.6 L495.4,269.9 L496.8,271.3 L498.3,272.7 L499.7,274.1 L501.2,275.5 L502.6,276.9 L504.0,278.3 L505.4,279.7 L506.8,281.2 L508.2,282.6 L509.6,284.0 L511.0,285.5 L512.4,286.9 L513.8,288.3 L515.1,289.8 L516.5,291.2 L517.8,292.7 L519.2,294.2 L520.5,295.6 L521.9,297.1 L523.2,298.6 L524.5,300.1 L525.8,301.6 L527.1,303.1 L528.4,304.6 L529.7,306.1 L531.0,307.6 L532.2,309.1 L533.5,310.7 L534.8,312.2 L536.0,313.7 L537.3,315.3 L538.5,316.8 L539.7,318.4 L540.9,319.9 L542.1,321.5 L543.3,323.1 L544.5,324.6 L545.7,326.2 L546.9,327.8 L548.1,329.4 L549.2,331.0 L550.4,332.6 L551.5,334.2 L552.6,335.8 L553.8,337.4 L554.9,339.0 L556.0,340.7 L557.1,342.3 L558.2,343.9 L559.3,345.6 L560.3,347.2 L561.4,348.9 L562.5,350.5 L563.5,352.2 L564.6,353.9 L565.6,355.5 L566.7,357.2 L567.7,358.9 L568.7,360.6 L569.7,362.3 L570.7,363.9 L571.7,365.6 L572.7,367.3 L573.6,369.1 L574.6,370.8 L575.6,372.5 L576.5,374.2 L577.5,375.9 L578.4,377.7 L579.3,379.4 L580.3,381.1 L581.2,382.9 L582.1,384.6 L583.0,386.4 L583.9,388.1 L584.8,389.9 L585.7,391.6 L586.5,393.4 L587.4,395.2 L588.3,397.0 L589.1,398.7 L589.9,400.5 L590.8,402.3 L591.6,404.1 L592.4,405.9 L593.2,407.7 L594.0,409.5 L594.8,411.3 L595.6,413.1 L596.4,414.9 L597.2,416.7 L598.0,418.5 L598.7,420.4 L599.5,422.2 L600.2,424.0 L601.0,425.9 L601.7,427.7 L602.5,429.5 L603.2,431.4 L603.9,433.2 L604.6,435.1 L605.3,436.9 L606.0,438.8 L606.7,440.6 L607.4,442.5 L608.0,444.4 L608.7,446.2 L609.4,448.1 L610.0,450.0 L610.7,451.9 L611.3,453.7 L611.9,455.6 L612.6,457.5 L613.2,459.4 L613.8,461.3 L614.4,463.2 L615.0,465.1 L615.6,467.0 L616.2,468.9 L616.8,470.8 L617.4,472.7 L617.9,474.6 L618.5,476.5 L619.0,478.4 L619.6,480.3 L620.1,482.3 L620.7,484.2 L621.2,486.1 L621.7,488.0 L622.2,490.0 L622.8,491.9 L623.3,493.8 L623.8,495.7 L624.3,497.7 L624.7,499.6 L625.2,501.6 L625.7,503.5 L626.2,505.5 L626.6,507.4 L627.1,509.3 L627.5,511.3 L628.0,513.2 L628.4,515.2 L628.9,517.2 L629.3,519.1 L629.7,521.1 L630.1,523.0 L630.5,525.0 L630.9,527.0 L631.3,528.9 L631.7,530.9 L632.1,532.9 L632.5,534.8 L632.9,536.8 L633.2,538.8 L633.6,540.7 L633.9,542.7 L634.3,544.7 L634.6,546.7 L635.0,548.6 L635.3,550.6 L635.7,552.6 L636.0,554.6 L636.3,556.6 L636.6,558.5 L636.9,560.5 L637.2,562.5 L637.5,564.5 L637.8,566.5 L638.1,568.5 L638.4,570.5 L638.6,572.5 L638.9,574.4 L639.2,576.4 L639.4,578.4 L639.7,580.4 L639.9,582.4 L640.2,584.4 L640.4,586.4 L640.7,588.4 L640.9,590.4 L641.1,592.4 L641.3,594.4 L641.5,596.4 L641.8,598.4 L642.0,600.4 L642.2,602.4 L642.4,604.4 L642.5,606.4 L642.7,608.4 L642.9,610.4 L643.1,612.4 L643.3,614.4 L643.4,616.4 L643.6,618.4 L643.8,620.4 L643.9,622.4 L644.1,624.4 L644.2,626.4 L644.4,628.4 L644.5,630.4 L644.7,632.5 L644.8,634.5 L644.9,636.5 L645.1,638.5 L645.2,640.5 L645.3,642.5 L645.4,644.5 L645.5,646.5 L645.6,648.5 L645.7,650.6 L645.8,652.6 L645.9,654.6 L646.0,656.6 L646.1,658.6 L646.2,660.6 L646.3,662.7 L646.4,664.7 L646.5,666.7 L646.6,668.7 L646.6,670.7 L646.7,672.7 L646.8,674.8 L646.8,676.8 L646.9,678.8 L647.0,680.8 L647.0,682.8 L647.1,684.9 L647.1,686.9 L647.2,688.9 L647.3,690.9 L647.3,693.0 L647.3,695.0 L647.4,697.0 L647.4,699.0 L647.5,701.1 L647.5,703.1 L647.5,705.1 L647.6,707.1 L647.6,709.2 L647.6,711.2 L647.7,713.2 L647.7,715.2 L647.7,717.3 L647.7,719.3 L647.8,721.3 L647.8,723.3 L647.8,725.4 L647.8,727.4 L647.8,729.4 L647.9,731.5 L647.9,733.5 L647.9,735.5 L647.9,737.5 L647.9,739.6 L647.9,741.6 L647.9,743.6 L647.9,745.7 L647.9,747.7 L647.9,749.7 L647.9,751.7 L647.9,753.8 L648.0,755.8 L648.0,757.8 L648.0,759.9 L648.0,761.9 L648.0,763.9 L648.0,766.0 L648.0,768.0 L648.0,770.0 L648.0,772.1 L648.0,774.1 L648.0,776.1 L648.0,778.2 L648.0,780.2 L648.0,782.2 L648.0,784.2 L648.0,786.3 L648.0,788.3 L648.0,790.3 L648.0,792.4 L648.0,794.4 L648.0,796.4 L648.0,798.5 L648.0,800.5 L648.0,802.5 L648.0,804.6 L648.0,806.6 L648.0,808.6 L648.0,810.7 L648.0,812.7 L648.0,814.7 L648.0,816.8 L648.0,818.8 L648.0,820.8 L648.0,822.8 L648.0,824.9 L648.0,826.9 L648.0,828.9 L648.0,831.0 L648.0,833.0 L648.1,835.0 L648.1,837.1 L648.1,839.1 L648.1,841.1 L648.1,843.1 L648.1,845.2 L648.1,847.2 L648.1,849.2 L648.1,851.3 L648.2,853.3 L648.2,855.3 L648.2,857.4 L648.2,859.4 L648.2,861.4 L648.2,863.4 L648.2,865.5 L648.2,867.5 L648.3,869.5 L648.3,871.5 L648.3,873.6 L648.3,875.6 L648.3,877.6 L648.3,879.6 L648.4,881.7 L648.4,883.7 L648.4,885.7 L648.4,887.7 L648.4,889.8 L648.4,891.8 L648.5,893.8 L648.5,895.8 L648.5,897.9 L648.5,899.9 L648.5,901.9 L648.6,903.9 L648.6,906.0 L648.6,908.0 L648.6,910.0 L648.6,912.0 L648.7,914.0 L648.7,916.1 L648.7,918.1 L648.7,920.1 L648.7,922.1 L648.8,924.1 L648.8,926.1 L648.8,928.2 L648.8,930.2 L648.8,932.2 L648.9,934.2 L648.9,936.2 L648.9,938.2 L648.9,940.2 L649.0,942.3 L649.0,944.3 L649.0,946.3 L649.0,948.3 L649.0,950.3 L649.1,952.3 L649.1,954.3 L649.1,956.3 L649.1,958.3 L649.2,960.4 L649.2,962.4 L649.2,964.4 L649.2,966.4 L649.2,968.4 L649.3,970.4 L649.3,972.4 L649.3,974.4 L649.3,976.4 L649.4,978.4 L649.4,980.4 L649.4,982.4 L649.4,984.4 L649.4,986.4 L649.5,988.4 L649.5,990.4 L649.5,992.4 L649.5,994.4 L649.6,996.4 L649.6,998.4 L649.6,1000.4 L649.6,1002.4 L649.6,1004.4 L649.7,1006.4 L649.7,1008.4 L649.7,1010.4 L649.7,1012.3 L649.8,1014.3 L649.8,1016.3 L649.8,1018.3 L649.8,1020.3 L649.8,1022.3 L649.9,1024.3 L649.9,1026.3 L649.9,1028.2 L649.9,1030.2 L649.9,1032.2 L650.0,1034.2 L650.0,1036.2 L650.0,1038.2 L650.0,1040.1 L650.0,1042.1 L650.1,1044.1 L650.1,1046.1 L650.1,1048.0 L650.1,1050.0 L650.1,1052.0 L650.2,1054.0 L650.2,1055.9 L650.2,1057.9 L650.2,1059.9 L650.2,1061.8 L650.2,1063.8 L650.3,1065.8 L650.3,1067.8 L650.3,1069.7 L650.3,1071.7 L650.3,1073.6 L650.3,1075.6 L650.3,1077.6 L650.4,1079.5 L650.4,1081.5 L650.4,1083.5 L650.4,1085.4 L650.4,1087.4 L650.4,1089.3 L650.4,1091.3 L650.4,1093.2 L650.5,1095.2 L650.5,1097.1 L650.5,1099.1 L650.5,1101.0 L650.5,1103.0 M651.5,1103.0 L651.5,1101.0 L651.6,1099.0 L651.6,1096.9 L651.6,1094.9 L651.6,1092.9 L651.7,1090.9 L651.7,1088.9 L651.7,1086.8 L651.8,1084.8 L651.8,1082.8 L651.8,1080.8 L651.8,1078.8 L651.9,1076.8 L651.9,1074.7 L651.9,1072.7 L651.9,1070.7 L652.0,1068.7 L652.0,1066.7 L652.0,1064.7 L652.0,1062.7 L652.1,1060.7 L652.1,1058.6 L652.1,1056.6 L652.1,1054.6 L652.1,1052.6 L652.2,1050.6 L652.2,1048.6 L652.2,1046.6 L652.2,1044.6 L652.2,1042.6 L652.3,1040.6 L652.3,1038.5 L652.3,1036.5 L652.3,1034.5 L652.4,1032.5 L652.4,1030.5 L652.4,1028.5 L652.4,1026.5 L652.4,1024.5 L652.4,1022.5 L652.5,1020.5 L652.5,1018.5 L652.5,1016.5 L652.5,1014.5 L652.5,1012.5 L652.6,1010.5 L652.6,1008.5 L652.6,1006.5 L652.6,1004.5 L652.6,1002.5 L652.7,1000.5 L652.7,998.5 L652.7,996.5 L652.7,994.5 L652.7,992.5 L652.7,990.5 L652.8,988.5 L652.8,986.5 L652.8,984.5 L652.8,982.5 L652.8,980.5 L652.8,978.5 L652.9,976.5 L652.9,974.5 L652.9,972.5 L652.9,970.5 L652.9,968.5 L653.0,966.5 L653.0,964.5 L653.0,962.5 L653.0,960.5 L653.0,958.5 L653.0,956.5 L653.1,954.5 L653.1,952.5 L653.1,950.5 L653.1,948.5 L653.1,946.5 L653.2,944.5 L653.2,942.5 L653.2,940.5 L653.2,938.5 L653.2,936.5 L653.2,934.5 L653.3,932.5 L653.3,930.5 L653.3,928.6 L653.3,926.6 L653.3,924.6 L653.4,922.6 L653.4,920.6 L653.4,918.6 L653.4,916.6 L653.4,914.6 L653.5,912.6 L653.5,910.6 L653.5,908.6 L653.5,906.6 L653.6,904.6 L653.6,902.6 L653.6,900.6 L653.6,898.7 L653.6,896.7 L653.7,894.7 L653.7,892.7 L653.7,890.7 L653.7,888.7 L653.8,886.7 L653.8,884.7 L653.8,882.7 L653.8,880.7 L653.9,878.7 L653.9,876.7 L653.9,874.7 L653.9,872.8 L654.0,870.8 L654.0,868.8 L654.0,866.8 L654.0,864.8 L654.1,862.8 L654.1,860.8 L654.1,858.8 L654.2,856.8 L654.2,854.8 L654.2,852.8 L654.2,850.8 L654.3,848.8 L654.3,846.9 L654.3,844.9 L654.4,842.9 L654.4,840.9 L654.4,838.9 L654.5,836.9 L654.5,834.9 L654.5,832.9 L654.6,830.9 L654.6,828.9 L654.6,826.9 L654.7,824.9 L654.7,822.9 L654.7,821.0 L654.8,819.0 L654.8,817.0 L654.9,815.0 L654.9,813.0 L654.9,811.0 L655.0,809.0 L655.0,807.0 L655.1,805.0 L655.1,803.0 L655.1,801.0 L655.2,799.0 L655.2,797.0 L655.3,795.0 L655.3,793.0 L655.4,791.0 L655.4,789.0 L655.4,787.0 L655.5,785.1 L655.5,783.1 L655.6,781.1 L655.6,779.1 L655.7,777.1 L655.7,775.1 L655.8,773.1 L655.8,771.1 L655.9,769.1 L655.9,767.1 L656.0,765.1 L656.0,763.1 L656.1,761.1 L656.2,759.1 L656.2,757.1 L656.3,755.1 L656.3,753.1 L656.4,751.1 L656.4,749.1 L656.5,747.1 L656.6,745.1 L656.6,743.1 L656.7,741.1 L656.7,739.1 L656.8,737.1 L656.9,735.1 L656.9,733.1 L657.0,731.1 L657.1,729.1 L657.1,727.1 L657.2,725.1 L657.3,723.1 L657.3,721.1 L657.4,719.1 L657.5,717.1 L657.5,715.1 L657.6,713.1 L657.7,711.1 L657.8,709.1 L657.8,707.1 L657.9,705.0 L658.0,703.0 L658.1,701.0 L658.1,699.0 L658.2,697.0 L658.3,695.0 L658.4,693.0 L658.5,691.0 L658.5,689.0 L658.6,687.0 L658.7,685.0 L658.8,683.0 L658.9,681.0 L659.0,678.9 L659.1,676.9 L659.1,674.9 L659.2,672.9 L659.3,670.9 L659.4,668.9 L659.5,666.9 L659.6,664.9 L659.7,662.8 L659.8,660.8 L659.9,658.8 L660.0,656.8 L660.1,654.8 L660.2,652.8 L660.3,650.8 L660.4,648.7 L660.5,646.7 L660.6,644.7 L660.7,642.7 L660.8,640.7 L660.9,638.6 L661.0,636.6 L661.1,634.6 L661.3,632.6 L661.4,630.6 L661.5,628.6 L661.6,626.5 L661.7,624.5 L661.9,622.5 L662.0,620.5 L662.1,618.5 L662.2,616.4 L662.4,614.4 L662.5,612.4 L662.7,610.4 L662.8,608.4 L663.0,606.4 L663.1,604.3 L663.3,602.3 L663.4,600.3 L663.6,598.3 L663.8,596.3 L663.9,594.3 L664.1,592.3 L664.3,590.3 L664.5,588.2 L664.7,586.2 L664.9,584.2 L665.1,582.2 L665.3,580.2 L665.5,578.2 L665.7,576.2 L665.9,574.2 L666.1,572.2 L666.4,570.2 L666.6,568.2 L666.8,566.2 L667.1,564.2 L667.4,562.2 L667.6,560.2 L667.9,558.2 L668.2,556.2 L668.4,554.3 L668.7,552.3 L669.0,550.3 L669.3,548.3 L669.6,546.3 L669.9,544.3 L670.3,542.4 L670.6,540.4 L670.9,538.4 L671.3,536.4 L671.6,534.5 L672.0,532.5 L672.4,530.5 L672.7,528.6 L673.1,526.6 L673.5,524.7 L673.9,522.7 L674.3,520.8 L674.7,518.8 L675.2,516.9 L675.6,514.9 L676.0,513.0 L676.5,511.0 L677.0,509.1 L677.4,507.2 L677.9,505.2 L678.4,503.3 L678.9,501.4 L679.4,499.5 L679.9,497.5 L680.5,495.6 L681.0,493.7 L681.6,491.8 L682.1,489.9 L682.7,488.0 L683.3,486.1 L683.9,484.2 L684.5,482.3 L685.1,480.4 L685.7,478.5 L686.4,476.6 L687.0,474.7 L687.7,472.9 L688.4,471.0 L689.0,469.1 L689.7,467.3 L690.4,465.4 L691.2,463.5 L691.9,461.7 L692.6,459.8 L693.4,458.0 L694.2,456.1 L695.0,454.3 L695.7,452.5 L696.6,450.6 L697.4,448.8 L698.2,447.0 L699.0,445.2 L699.9,443.4 L700.8,441.6 L701.6,439.8 L702.5,438.0 L703.4,436.2 L704.3,434.4 L705.3,432.6 L706.2,430.8 L707.2,429.0 L708.1,427.3 L709.1,425.5 L710.1,423.8 L711.1,422.0 L712.1,420.3 L713.1,418.5 L714.1,416.8 L715.1,415.0 L716.2,413.3 L717.2,411.6 L718.3,409.9 L719.4,408.2 L720.5,406.5 L721.6,404.8 L722.7,403.1 L723.8,401.4 L724.9,399.8 L726.1,398.1 L727.2,396.4 L728.4,394.8 L729.5,393.1 L730.7,391.5 L731.9,389.9 L733.1,388.2 L734.3,386.6 L735.5,385.0 L736.7,383.4 L738.0,381.8 L739.2,380.2 L740.5,378.6 L741.7,377.0 L743.0,375.5 L744.3,373.9 L745.6,372.4 L746.9,370.8 L748.2,369.3 L749.5,367.8 L750.9,366.2 L752.2,364.7 L753.5,363.2 L754.9,361.7 L756.3,360.2 L757.6,358.8 L759.0,357.3 L760.4,355.8 L761.8,354.4 L763.2,352.9 L764.6,351.5 L766.0,350.1 L767.4,348.7 L768.9,347.2 L770.3,345.8 L771.8,344.5 L773.2,343.1 L774.7,341.7 L776.2,340.3 L777.7,339.0 L779.2,337.6 L780.6,336.3 L782.2,335.0 L783.7,333.7 L785.2,332.4 L786.7,331.1 L788.2,329.8 L789.8,328.5 L791.3,327.2 L792.9,326.0 L794.4,324.8 L796.0,323.5 L797.6,322.3 L799.2,321.1 L800.8,319.9 L802.4,318.7 L804.0,317.5 L805.6,316.3 L807.2,315.2 L808.8,314.0 L810.4,312.9 L812.0,311.8 L813.7,310.7 L815.3,309.6 L817.0,308.5 L818.6,307.4 L820.3,306.3 L822.0,305.2 L823.6,304.2 L825.3,303.1 L827.0,302.1 L828.7,301.1 L830.4,300.0 L832.1,299.0 L833.8,298.0 L835.5,297.0 L837.2,296.1 L838.9,295.1 L840.7,294.1 L842.4,293.2 L844.1,292.2 L845.9,291.3 L847.6,290.3 L849.4,289.4 L851.1,288.5 L852.9,287.6 L854.6,286.7 L856.4,285.8 L858.2,284.9 L859.9,284.0 L861.7,283.2 L863.5,282.3 L865.3,281.4 L867.1,280.6 L868.9,279.8 L870.7,278.9 L872.5,278.1 L874.3,277.3 L876.1,276.5 L877.9,275.7 L879.7,274.9 L881.6,274.1 L883.4,273.3 L885.2,272.5 L887.0,271.7 L888.9,270.9 L890.7,270.2 L892.6,269.4 L894.4,268.7 L896.3,267.9 L898.1,267.2 L900.0,266.4 L901.8,265.7 L903.7,265.0 L905.5,264.3 L907.4,263.5 L909.3,262.8 L911.1,262.1 L913.0,261.4 L914.9,260.7 L916.7,260.0 L918.6,259.3 L920.5,258.6 L922.4,258.0 L924.3,257.3 L926.2,256.6 L928.0,255.9 L929.9,255.3 L931.8,254.6 L933.7,254.0 L935.6,253.3 L937.5,252.6 L939.4,252.0 L941.3,251.3 L943.2,250.7 L945.1,250.1 L947.0,249.4 L948.9,248.8 L950.8,248.1 L952.7,247.5 L954.6,246.9 L956.5,246.3 L958.4,245.6 L960.3,245.0 L962.2,244.4 L964.2,243.8 L966.1,243.2 L968.0,242.5 L969.9,241.9 L971.8,241.3 L973.7,240.7 L975.6,240.1 L977.5,239.5 L979.4,238.9 L981.4,238.3 L983.3,237.7 L985.2,237.1 L987.1,236.5 L989.0,235.9 L990.9,235.3 L992.8,234.7 L994.7,234.1 L996.7,233.5 L998.6,232.9 L1000.5,232.3 L1002.4,231.7 L1004.3,231.1 L1006.2,230.5 L1008.1,229.9 L1010.0,229.3 L1012.0,228.7 L1013.9,228.1 L1015.8,227.6 L1017.7,227.0 L1019.6,226.4 L1021.5,225.8 L1023.5,225.2 L1025.4,224.7 L1027.3,224.1 L1029.2,223.5 L1031.1,222.9 L1033.0,222.4 L1035.0,221.8 L1036.9,221.2 L1038.8,220.6 L1040.7,220.1 L1042.6,219.5 L1044.5,218.9 L1046.5,218.4 L1048.4,217.8 L1050.3,217.2 L1052.2,216.7 L1054.1,216.1 L1056.1,215.6 L1058.0,215.0 L1059.9,214.4 L1061.8,213.9 L1063.8,213.3 L1065.7,212.8 L1067.6,212.2 L1069.5,211.7 L1071.4,211.1 L1073.4,210.6 L1075.3,210.0 L1077.2,209.5 L1079.1,208.9 L1081.1,208.4 L1083.0,207.9 L1084.9,207.3 L1086.8,206.8 L1088.8,206.2 L1090.7,205.7 L1092.6,205.2 L1094.5,204.6 L1096.5,204.1 L1098.4,203.6 L1100.3,203.0 L1102.2,202.5 L1104.2,202.0 L1106.1,201.4 L1108.0,200.9 L1109.9,200.4 L1111.9,199.9 L1113.8,199.3 L1115.7,198.8 L1117.7,198.3 L1119.6,197.8 L1121.5,197.3 L1123.5,196.7 L1125.4,196.2 L1127.3,195.7 L1129.2,195.2 L1131.2,194.7 L1133.1,194.2 L1135.0,193.7 L1137.0,193.2 L1138.9,192.7 L1140.8,192.2 L1142.8,191.7 L1144.7,191.1 L1146.6,190.6 L1148.6,190.1 L1150.5,189.6 L1152.4,189.2 L1154.4,188.7 L1156.3,188.2 L1158.3,187.7 L1160.2,187.2 L1162.1,186.7 L1164.1,186.2 L1166.0,185.7 L1167.9,185.2 L1169.9,184.7 L1171.8,184.2 L1173.8,183.8 L1175.7,183.3 L1177.6,182.8 L1179.6,182.3 L1181.5,181.8 L1183.5,181.4 L1185.4,180.9 L1187.4,180.4 L1189.3,179.9 L1191.2,179.5 L1193.2,179.0 L1195.1,178.5 L1197.1,178.1 L1199.0,177.6 L1201.0,177.1 L1202.9,176.7 L1204.9,176.2 L1206.8,175.7 L1208.7,175.3 L1210.7,174.8 L1212.6,174.4 L1214.6,173.9 L1216.5,173.4 L1218.5,173.0 L1220.4,172.5 L1222.4,172.1 L1224.3,171.6 L1226.3,171.2 L1228.2,170.7 L1230.2,170.3 L1232.1,169.8 L1234.1,169.4 L1236.1,169.0 L1238.0,168.5 L1240.0,168.1 L1241.9,167.6 L1243.9,167.2 L1245.8,166.8 L1247.8,166.3 L1249.7,165.9 L1251.7,165.5 L1253.6,165.0 L1255.6,164.6 L1257.6,164.2 L1259.5,163.7 L1261.5,163.3 L1263.4,162.9 L1265.4,162.5 L1267.4,162.1 L1269.3,161.6 L1271.3,161.2 L1273.2,160.8 L1275.2,160.4 L1277.2,160.0 L1279.1,159.5 L1281.1,159.1 L1283.1,158.7 L1285.0,158.3 L1287.0,157.9 L1289.0,157.5 L1290.9,157.1 L1292.9,156.7 L1294.9,156.3 L1296.8,155.9 L1298.8,155.5 L1300.8,155.1 L1302.7,154.7 L1304.7,154.3 L1306.7,153.9 L1308.6,153.5 L1310.6,153.1 L1312.6,152.7 L1314.6,152.3 L1316.5,151.9 L1318.5,151.5 L1320.5,151.2 L1322.5,150.8 L1324.4,150.4 L1326.4,150.0 L1328.4,149.6 L1330.4,149.2 L1332.3,148.9 L1334.3,148.5 L1336.3,148.1 L1338.3,147.7 L1340.3,147.4 L1342.2,147.0 L1344.2,146.6 L1346.2,146.3 L1348.2,145.9 L1350.2,145.5 L1352.1,145.2 L1354.1,144.8 L1356.1,144.4 L1358.1,144.1 L1360.1,143.7 L1362.1,143.4 L1364.1,143.0 L1366.0,142.6 L1368.0,142.3 L1370.0,141.9 L1372.0,141.6 L1374.0,141.2 L1376.0,140.9 L1378.0,140.5 L1380.0,140.2 L1382.0,139.8 L1384.0,139.5 L1385.9,139.2 L1387.9,138.8 L1389.9,138.5 L1391.9,138.1 L1393.9,137.8 L1395.9,137.5 L1397.9,137.1 L1399.9,136.8 L1401.9,136.5 L1403.9,136.2 L1405.9,135.8 L1407.9,135.5 L1409.9,135.2 L1411.9,134.9 L1413.9,134.6 L1415.9,134.3 L1417.9,134.0 L1419.9,133.7 L1421.9,133.4 L1423.9,133.1 L1425.9,132.8 L1427.9,132.6 L1429.9,132.3 L1431.9,132.0 L1433.9,131.8 L1435.9,131.5 L1437.9,131.3 L1439.9,131.0 L1441.9,130.8 L1443.9,130.5 L1445.9,130.3 L1447.9,130.1 L1449.9,129.9 L1451.9,129.7 L1453.9,129.5 L1455.9,129.3 L1457.8,129.1 L1459.8,128.9 L1461.8,128.8 L1463.8,128.6 L1465.8,128.5 L1467.8,128.3 L1469.8,128.2 L1471.8,128.1 L1473.8,127.9 L1475.8,127.8 L1477.7,127.7 L1479.7,127.6 L1481.7,127.6 L1483.7,127.5 L1485.7,127.4 L1487.7,127.4 L1489.6,127.4 L1491.6,127.3 L1493.6,127.3 L1495.6,127.3 L1497.6,127.3 L1499.5,127.3 L1501.5,127.4 L1503.5,127.4 L1505.4,127.4 L1507.4,127.5 L1509.4,127.6 L1511.4,127.7 L1513.3,127.8 L1515.3,127.9 L1517.2,128.0 L1519.2,128.2 L1521.2,128.3 L1523.1,128.5 L1525.1,128.7 L1527.0,128.8 L1529.0,129.1 L1530.9,129.3 L1532.9,129.5 L1534.8,129.8 L1536.7,130.1 L1538.7,130.4 L1540.6,130.7 L1542.5,131.0 L1544.4,131.4 L1546.3,131.8 L1548.2,132.2 L1550.1,132.7 L1552.0,133.1 L1553.8,133.6 L1555.7,134.2 L1557.5,134.7 L1559.4,135.3 L1561.2,135.9 L1563.0,136.6 L1564.8,137.3 L1566.6,138.0 L1568.4,138.7 L1570.1,139.5 L1571.9,140.3 L1573.6,141.2 L1575.3,142.1 L1577.0,143.0 L1578.7,144.0 L1580.4,145.0 L1582.0,146.1 L1583.7,147.2 L1585.3,148.4 L1586.9,149.6 L1588.4,150.8 L1590.0,152.1 L1591.5,153.4 L1593.1,154.8 L1594.5,156.3 L1596.0,157.8 L1597.5,159.3 L1598.9,160.9 L1600.3,162.5 L1601.7,164.2 L1603.0,166.0" stroke="#ff0000" stroke-width="7.2"/>
<path d="M189.0,122.0 L190.8,122.8 L192.5,123.7 L194.3,124.5 L196.1,125.3 L197.8,126.1 L199.6,127.0 L201.4,127.8 L203.2,128.6 L204.9,129.5 L206.7,130.3 L208.5,131.2 L210.3,132.0 L212.0,132.9 L213.8,133.8 L215.6,134.6 L217.4,135.5 L219.1,136.4 L220.9,137.2 L222.7,138.1 L224.5,139.0 L226.2,139.9 L228.0,140.8 L229.8,141.7 L231.6,142.6 L233.3,143.5 L235.1,144.4 L236.9,145.3 L238.7,146.3 L240.5,147.2 L242.2,148.1 L244.0,149.0 L245.8,150.0 L247.5,150.9 L249.3,151.9 L251.1,152.8 L252.9,153.8 L254.6,154.7 L256.4,155.7 L258.2,156.7 L259.9,157.6 L261.7,158.6 L263.5,159.6 L265.2,160.6 L267.0,161.6 L268.8,162.5 L270.5,163.5 L272.3,164.5 L274.0,165.5 L275.8,166.6 L277.5,167.6 L279.3,168.6 L281.1,169.6 L282.8,170.6 L284.6,171.7 L286.3,172.7 L288.0,173.7 L289.8,174.8 L291.5,175.8 L293.3,176.9 L295.0,177.9 L296.7,179.0 L298.5,180.1 L300.2,181.1 L301.9,182.2 L303.6,183.3 L305.4,184.4 L307.1,185.4 L308.8,186.5 L310.5,187.6 L312.2,188.7 L313.9,189.8 L315.6,190.9 L317.4,192.1 L319.1,193.2 L320.8,194.3 L322.4,195.4 L324.1,196.6 L325.8,197.7 L327.5,198.8 L329.2,200.0 L330.9,201.1 L332.6,202.3 L334.2,203.4 L335.9,204.6 L337.6,205.8 L339.2,206.9 L340.9,208.1 L342.5,209.3 L344.2,210.5 L345.8,211.7 L347.5,212.9 L349.1,214.1 L350.8,215.3 L352.4,216.5 L354.0,217.7 L355.7,218.9 L357.3,220.2 L358.9,221.4 L360.5,222.6 L362.1,223.8 L363.7,225.1 L365.3,226.3 L366.9,227.6 L368.5,228.8 L370.1,230.1 L371.7,231.4 L373.2,232.6 L374.8,233.9 L376.4,235.2 L377.9,236.5 L379.5,237.8 L381.1,239.1 L382.6,240.4 L384.2,241.7 L385.7,243.0 L387.2,244.3 L388.7,245.6 L390.3,246.9 L391.8,248.3 L393.3,249.6 L394.8,250.9 L396.3,252.3 L397.8,253.6 L399.3,255.0 L400.8,256.3 L402.3,257.7 L403.7,259.1 L405.2,260.4 L406.7,261.8 L408.1,263.2 L409.6,264.6 L411.0,266.0 L412.4,267.4 L413.9,268.8 L415.3,270.2 L416.7,271.6 L418.1,273.0 L419.5,274.4 L420.9,275.9 L422.3,277.3 L423.7,278.7 L425.1,280.2 L426.5,281.6 L427.8,283.1 L429.2,284.5 L430.6,286.0 L431.9,287.4 L433.2,288.9 L434.6,290.4 L435.9,291.9 L437.2,293.4 L438.5,294.9 L439.8,296.4 L441.1,297.9 L442.4,299.4 L443.7,300.9 L445.0,302.4 L446.3,303.9 L447.5,305.4 L448.8,307.0 L450.0,308.5 L451.3,310.1 L452.5,311.6 L453.7,313.2 L454.9,314.7 L456.1,316.3 L457.3,317.9 L458.5,319.4 L459.7,321.0 L460.9,322.6 L462.0,324.2 L463.2,325.8 L464.4,327.4 L465.5,329.0 L466.6,330.6 L467.8,332.2 L468.9,333.8 L470.0,335.5 L471.1,337.1 L472.2,338.7 L473.3,340.4 L474.3,342.0 L475.4,343.7 L476.5,345.3 L477.5,347.0 L478.5,348.7 L479.6,350.4 L480.6,352.0 L481.6,353.7 L482.6,355.4 L483.6,357.1 L484.6,358.8 L485.6,360.5 L486.5,362.2 L487.5,363.9 L488.5,365.7 L489.4,367.4 L490.3,369.1 L491.3,370.9 L492.2,372.6 L493.1,374.3 L494.0,376.1 L494.9,377.9 L495.8,379.6 L496.7,381.4 L497.5,383.1 L498.4,384.9 L499.2,386.7 L500.1,388.5 L500.9,390.3 L501.8,392.0 L502.6,393.8 L503.4,395.6 L504.2,397.4 L505.0,399.2 L505.8,401.1 L506.6,402.9 L507.4,404.7 L508.1,406.5 L508.9,408.3 L509.6,410.2 L510.4,412.0 L511.1,413.8 L511.8,415.7 L512.6,417.5 L513.3,419.4 L514.0,421.2 L514.7,423.1 L515.4,425.0 L516.1,426.8 L516.8,428.7 L517.4,430.6 L518.1,432.4 L518.8,434.3 L519.4,436.2 L520.0,438.1 L520.7,439.9 L521.3,441.8 L521.9,443.7 L522.6,445.6 L523.2,447.5 L523.8,449.4 L524.4,451.3 L525.0,453.2 L525.5,455.2 L526.1,457.1 L526.7,459.0 L527.2,460.9 L527.8,462.8 L528.4,464.7 L528.9,466.7 L529.4,468.6 L530.0,470.5 L530.5,472.5 L531.0,474.4 L531.5,476.3 L532.0,478.3 L532.5,480.2 L533.0,482.2 L533.5,484.1 L534.0,486.1 L534.5,488.0 L534.9,490.0 L535.4,491.9 L535.9,493.9 L536.3,495.9 L536.8,497.8 L537.2,499.8 L537.6,501.7 L538.1,503.7 L538.5,505.7 L538.9,507.7 L539.3,509.6 L539.7,511.6 L540.1,513.6 L540.5,515.6 L540.9,517.5 L541.3,519.5 L541.7,521.5 L542.1,523.5 L542.4,525.5 L542.8,527.4 L543.2,529.4 L543.5,531.4 L543.9,533.4 L544.2,535.4 L544.6,537.4 L544.9,539.4 L545.2,541.4 L545.5,543.4 L545.9,545.4 L546.2,547.4 L546.5,549.4 L546.8,551.4 L547.1,553.4 L547.4,555.4 L547.7,557.4 L548.0,559.4 L548.2,561.4 L548.5,563.4 L548.8,565.4 L549.1,567.4 L549.3,569.4 L549.6,571.4 L549.8,573.4 L550.1,575.4 L550.3,577.4 L550.6,579.4 L550.8,581.4 L551.0,583.4 L551.3,585.4 L551.5,587.4 L551.7,589.4 L551.9,591.4 L552.1,593.5 L552.4,595.5 L552.6,597.5 L552.8,599.5 L553.0,601.5 L553.2,603.5 L553.3,605.5 L553.5,607.5 L553.7,609.5 L553.9,611.6 L554.1,613.6 L554.2,615.6 L554.4,617.6 L554.6,619.6 L554.7,621.6 L554.9,623.6 L555.0,625.7 L555.2,627.7 L555.3,629.7 L555.5,631.7 L555.6,633.7 L555.8,635.7 L555.9,637.8 L556.0,639.8 L556.2,641.8 L556.3,643.8 L556.4,645.8 L556.5,647.8 L556.6,649.9 L556.8,651.9 L556.9,653.9 L557.0,655.9 L557.1,657.9 L557.2,660.0 L557.3,662.0 L557.4,664.0 L557.5,666.0 L557.6,668.0 L557.7,670.1 L557.8,672.1 L557.8,674.1 L557.9,676.1 L558.0,678.1 L558.1,680.2 L558.2,682.2 L558.2,684.2 L558.3,686.2 L558.4,688.2 L558.4,690.3 L558.5,692.3 L558.6,694.3 L558.6,696.3 L558.7,698.4 L558.7,700.4 L558.8,702.4 L558.8,704.4 L558.9,706.4 L558.9,708.5 L559.0,710.5 L559.0,712.5 L559.1,714.5 L559.1,716.6 L559.1,718.6 L559.2,720.6 L559.2,722.6 L559.3,724.6 L559.3,726.7 L559.3,728.7 L559.4,730.7 L559.4,732.7 L559.4,734.7 L559.4,736.8 L559.5,738.8 L559.5,740.8 L559.5,742.8 L559.5,744.8 L559.6,746.9 L559.6,748.9 L559.6,750.9 L559.6,752.9 L559.6,755.0 L559.6,757.0 L559.7,759.0 L559.7,761.0 L559.7,763.0 L559.7,765.0 L559.7,767.1 L559.7,769.1 L559.7,771.1 L559.7,773.1 L559.8,775.1 L559.8,777.2 L559.8,779.2 L559.8,781.2 L559.8,783.2 L559.8,785.2 L559.8,787.2 L559.8,789.3 L559.8,791.3 L559.8,793.3 L559.8,795.3 L559.8,797.3 L559.8,799.3 L559.8,801.3 L559.8,803.4 L559.8,805.4 L559.8,807.4 L559.9,809.4 L559.9,811.4 L559.9,813.4 L559.9,815.4 L559.9,817.4 L559.9,819.5 L559.9,821.5 L559.9,823.5 L559.9,825.5 L559.9,827.5 L559.9,829.5 L559.9,831.5 L559.9,833.5 L559.9,835.5 L560.0,837.5 L560.0,839.5 L560.0,841.6 L560.0,843.6 L560.0,845.6 L560.0,847.6 L560.0,849.6 L560.0,851.6 L560.1,853.6 L560.1,855.6 L560.1,857.6 L560.1,859.6 L560.1,861.6 L560.2,863.6 L560.2,865.6 L560.2,867.6 L560.2,869.6 L560.2,871.6 L560.3,873.6 L560.3,875.6 L560.3,877.6 L560.4,879.6 L560.4,881.6 L560.4,883.6 L560.5,885.5 L560.5,887.5 L560.5,889.5 L560.6,891.5 L560.6,893.5 L560.7,895.5 L560.7,897.5 L560.8,899.5 L560.8,901.5 L560.9,903.5 L560.9,905.4 L561.0,907.4 L561.0,909.4 L561.1,911.4 L561.1,913.4 L561.2,915.4 L561.3,917.4 L561.3,919.3 L561.4,921.3 L561.5,923.3 L561.5,925.3 L561.6,927.3 L561.7,929.2 L561.8,931.2 L561.9,933.2 L561.9,935.2 L562.0,937.1 L562.1,939.1 L562.2,941.1 L562.3,943.0 L562.4,945.0 L562.5,947.0 M562.5,947.0 L562.5,945.0 L562.6,942.9 L562.6,940.9 L562.7,938.8 L562.7,936.8 L562.8,934.7 L562.8,932.7 L562.9,930.6 L562.9,928.6 L562.9,926.5 L563.0,924.5 L563.0,922.5 L563.1,920.4 L563.1,918.4 L563.1,916.4 L563.2,914.3 L563.2,912.3 L563.2,910.3 L563.3,908.3 L563.3,906.2 L563.3,904.2 L563.3,902.2 L563.4,900.2 L563.4,898.1 L563.4,896.1 L563.5,894.1 L563.5,892.1 L563.5,890.1 L563.5,888.0 L563.6,886.0 L563.6,884.0 L563.6,882.0 L563.6,880.0 L563.6,878.0 L563.7,876.0 L563.7,874.0 L563.7,872.0 L563.7,869.9 L563.8,867.9 L563.8,865.9 L563.8,863.9 L563.8,861.9 L563.8,859.9 L563.9,857.9 L563.9,855.9 L563.9,853.9 L563.9,851.9 L563.9,849.9 L563.9,847.9 L564.0,845.9 L564.0,843.9 L564.0,841.9 L564.0,839.9 L564.0,837.9 L564.1,836.0 L564.1,834.0 L564.1,832.0 L564.1,830.0 L564.1,828.0 L564.2,826.0 L564.2,824.0 L564.2,822.0 L564.2,820.0 L564.2,818.0 L564.3,816.1 L564.3,814.1 L564.3,812.1 L564.3,810.1 L564.3,808.1 L564.4,806.1 L564.4,804.1 L564.4,802.2 L564.4,800.2 L564.5,798.2 L564.5,796.2 L564.5,794.2 L564.5,792.3 L564.6,790.3 L564.6,788.3 L564.6,786.3 L564.6,784.3 L564.7,782.4 L564.7,780.4 L564.7,778.4 L564.8,776.4 L564.8,774.4 L564.8,772.5 L564.9,770.5 L564.9,768.5 L564.9,766.5 L565.0,764.5 L565.0,762.6 L565.1,760.6 L565.1,758.6 L565.1,756.6 L565.2,754.7 L565.2,752.7 L565.3,750.7 L565.3,748.7 L565.4,746.8 L565.4,744.8 L565.4,742.8 L565.5,740.8 L565.5,738.9 L565.6,736.9 L565.7,734.9 L565.7,732.9 L565.8,730.9 L565.8,729.0 L565.9,727.0 L565.9,725.0 L566.0,723.0 L566.1,721.1 L566.1,719.1 L566.2,717.1 L566.3,715.1 L566.3,713.2 L566.4,711.2 L566.5,709.2 L566.6,707.2 L566.6,705.2 L566.7,703.3 L566.8,701.3 L566.9,699.3 L567.0,697.3 L567.0,695.3 L567.1,693.4 L567.2,691.4 L567.3,689.4 L567.4,687.4 L567.5,685.4 L567.6,683.4 L567.7,681.5 L567.8,679.5 L567.9,677.5 L568.0,675.5 L568.1,673.5 L568.2,671.5 L568.3,669.6 L568.4,667.6 L568.5,665.6 L568.6,663.6 L568.8,661.6 L568.9,659.6 L569.0,657.6 L569.1,655.6 L569.3,653.6 L569.4,651.7 L569.5,649.7 L569.6,647.7 L569.8,645.7 L569.9,643.7 L570.1,641.7 L570.2,639.7 L570.4,637.7 L570.5,635.7 L570.7,633.7 L570.8,631.7 L571.0,629.7 L571.1,627.7 L571.3,625.7 L571.4,623.7 L571.6,621.7 L571.8,619.7 L572.0,617.7 L572.1,615.7 L572.3,613.7 L572.5,611.7 L572.7,609.7 L572.9,607.6 L573.0,605.6 L573.2,603.6 L573.4,601.6 L573.6,599.6 L573.8,597.6 L574.0,595.6 L574.2,593.6 L574.4,591.5 L574.7,589.5 L574.9,587.5 L575.1,585.5 L575.3,583.5 L575.5,581.4 L575.8,579.4 L576.0,577.4 L576.2,575.4 L576.5,573.3 L576.7,571.3 L577.0,569.3 L577.2,567.3 L577.5,565.2 L577.7,563.2 L578.0,561.2 L578.3,559.2 L578.6,557.1 L578.9,555.1 L579.1,553.1 L579.4,551.1 L579.7,549.1 L580.0,547.0 L580.4,545.0 L580.7,543.0 L581.0,541.0 L581.3,539.0 L581.7,537.0 L582.0,535.0 L582.4,532.9 L582.7,530.9 L583.1,528.9 L583.5,526.9 L583.8,524.9 L584.2,522.9 L584.6,520.9 L585.0,518.9 L585.4,516.9 L585.8,514.9 L586.3,512.9 L586.7,511.0 L587.1,509.0 L587.6,507.0 L588.0,505.0 L588.5,503.0 L589.0,501.1 L589.5,499.1 L589.9,497.1 L590.4,495.2 L591.0,493.2 L591.5,491.2 L592.0,489.3 L592.5,487.3 L593.1,485.4 L593.6,483.4 L594.2,481.5 L594.8,479.6 L595.4,477.6 L596.0,475.7 L596.6,473.8 L597.2,471.9 L597.8,469.9 L598.5,468.0 L599.1,466.1 L599.8,464.2 L600.5,462.3 L601.1,460.4 L601.8,458.6 L602.5,456.7 L603.3,454.8 L604.0,452.9 L604.7,451.1 L605.5,449.2 L606.3,447.4 L607.0,445.5 L607.8,443.7 L608.6,441.8 L609.4,440.0 L610.3,438.2 L611.1,436.3 L612.0,434.5 L612.8,432.7 L613.7,430.9 L614.6,429.1 L615.5,427.3 L616.4,425.6 L617.3,423.8 L618.3,422.0 L619.2,420.3 L620.2,418.5 L621.1,416.7 L622.1,415.0 L623.1,413.3 L624.1,411.5 L625.2,409.8 L626.2,408.1 L627.2,406.4 L628.3,404.7 L629.3,403.0 L630.4,401.3 L631.5,399.7 L632.6,398.0 L633.7,396.4 L634.8,394.7 L636.0,393.1 L637.1,391.4 L638.2,389.8 L639.4,388.2 L640.6,386.6 L641.8,385.0 L643.0,383.4 L644.2,381.8 L645.4,380.2 L646.6,378.7 L647.8,377.1 L649.1,375.6 L650.3,374.1 L651.6,372.5 L652.9,371.0 L654.2,369.5 L655.5,368.0 L656.8,366.5 L658.1,365.1 L659.4,363.6 L660.8,362.1 L662.1,360.7 L663.5,359.2 L664.8,357.8 L666.2,356.4 L667.6,355.0 L669.0,353.6 L670.4,352.2 L671.8,350.9 L673.2,349.5 L674.6,348.1 L676.1,346.8 L677.5,345.5 L679.0,344.2 L680.5,342.8 L681.9,341.6 L683.4,340.3 L684.9,339.0 L686.4,337.7 L687.9,336.5 L689.5,335.3 L691.0,334.0 L692.5,332.8 L694.1,331.6 L695.6,330.4 L697.2,329.2 L698.7,328.0 L700.3,326.9 L701.9,325.7 L703.5,324.6 L705.1,323.5 L706.7,322.3 L708.3,321.2 L710.0,320.1 L711.6,319.0 L713.2,317.9 L714.9,316.9 L716.5,315.8 L718.2,314.8 L719.9,313.7 L721.5,312.7 L723.2,311.6 L724.9,310.6 L726.6,309.6 L728.3,308.6 L730.0,307.6 L731.7,306.7 L733.4,305.7 L735.2,304.7 L736.9,303.8 L738.6,302.8 L740.4,301.9 L742.1,301.0 L743.9,300.1 L745.7,299.1 L747.4,298.2 L749.2,297.3 L751.0,296.5 L752.8,295.6 L754.6,294.7 L756.4,293.9 L758.2,293.0 L760.0,292.2 L761.8,291.3 L763.6,290.5 L765.4,289.7 L767.3,288.8 L769.1,288.0 L770.9,287.2 L772.8,286.4 L774.6,285.7 L776.5,284.9 L778.3,284.1 L780.2,283.3 L782.1,282.6 L783.9,281.8 L785.8,281.1 L787.7,280.3 L789.6,279.6 L791.4,278.9 L793.3,278.2 L795.2,277.5 L797.1,276.8 L799.0,276.1 L800.9,275.4 L802.8,274.7 L804.7,274.0 L806.6,273.3 L808.6,272.6 L810.5,272.0 L812.4,271.3 L814.3,270.7 L816.3,270.0 L818.2,269.4 L820.1,268.7 L822.1,268.1 L824.0,267.5 L825.9,266.8 L827.9,266.2 L829.8,265.6 L831.8,265.0 L833.7,264.4 L835.7,263.8 L837.6,263.2 L839.6,262.6 L841.6,262.0 L843.5,261.5 L845.5,260.9 L847.4,260.3 L849.4,259.7 L851.4,259.2 L853.3,258.6 L855.3,258.1 L857.3,257.5 L859.3,257.0 L861.2,256.4 L863.2,255.9 L865.2,255.3 L867.2,254.8 L869.1,254.3 L871.1,253.7 L873.1,253.2 L875.1,252.7 L877.0,252.2 L879.0,251.7 L881.0,251.1 L883.0,250.6 L885.0,250.1 L886.9,249.6 L888.9,249.1 L890.9,248.6 L892.9,248.1 L894.9,247.6 L896.8,247.1 L898.8,246.7 L900.8,246.2 L902.8,245.7 L904.7,245.2 L906.7,244.7 L908.7,244.2 L910.7,243.8 L912.6,243.3 L914.6,242.8 L916.6,242.3 L918.5,241.9 L920.5,241.4 L922.5,240.9 L924.4,240.4 L926.4,240.0 L928.4,239.5 L930.3,239.0 L932.3,238.6 L934.2,238.1 L936.2,237.7 L938.2,237.2 L940.1,236.7 L942.1,236.3 L944.0,235.8 L946.0,235.4 L947.9,234.9 L949.8,234.4 L951.8,234.0 L953.7,233.5 L955.7,233.1 L957.6,232.6 L959.6,232.2 L961.5,231.7 L963.4,231.3 L965.4,230.8 L967.3,230.4 L969.2,229.9 L971.2,229.5 L973.1,229.0 L975.0,228.6 L976.9,228.1 L978.9,227.7 L980.8,227.3 L982.7,226.8 L984.7,226.4 L986.6,225.9 L988.5,225.5 L990.4,225.0 L992.3,224.6 L994.3,224.2 L996.2,223.7 L998.1,223.3 L1000.0,222.9 L1001.9,222.4 L1003.9,222.0 L1005.8,221.6 L1007.7,221.1 L1009.6,220.7 L1011.5,220.3 L1013.4,219.8 L1015.4,219.4 L1017.3,219.0 L1019.2,218.6 L1021.1,218.1 L1023.0,217.7 L1024.9,217.3 L1026.9,216.9 L1028.8,216.4 L1030.7,216.0 L1032.6,215.6 L1034.5,215.2 L1036.4,214.7 L1038.3,214.3 L1040.3,213.9 L1042.2,213.5 L1044.1,213.1 L1046.0,212.6 L1047.9,212.2 L1049.8,211.8 L1051.7,211.4 L1053.7,211.0 L1055.6,210.5 L1057.5,210.1 L1059.4,209.7 L1061.3,209.3 L1063.2,208.9 L1065.2,208.5 L1067.1,208.1 L1069.0,207.7 L1070.9,207.2 L1072.8,206.8 L1074.7,206.4 L1076.7,206.0 L1078.6,205.6 L1080.5,205.2 L1082.4,204.8 L1084.4,204.4 L1086.3,204.0 L1088.2,203.6 L1090.1,203.2 L1092.1,202.7 L1094.0,202.3 L1095.9,201.9 L1097.8,201.5 L1099.8,201.1 L1101.7,200.7 L1103.6,200.3 L1105.6,199.9 L1107.5,199.5 L1109.4,199.1 L1111.4,198.7 L1113.3,198.3 L1115.3,197.9 L1117.2,197.5 L1119.1,197.1 L1121.1,196.7 L1123.0,196.3 L1125.0,195.9 L1126.9,195.5 L1128.9,195.1 L1130.8,194.7 L1132.8,194.3 L1134.7,193.9 L1136.7,193.5 L1138.6,193.1 L1140.6,192.7 L1142.6,192.3 L1144.5,191.9 L1146.5,191.6 L1148.4,191.2 L1150.4,190.8 L1152.4,190.4 L1154.4,190.0 L1156.3,189.6 L1158.3,189.2 L1160.3,188.8 L1162.3,188.4 L1164.2,188.0 L1166.2,187.6 L1168.2,187.2 L1170.2,186.8 L1172.2,186.4 L1174.2,186.1 L1176.2,185.7 L1178.2,185.3 L1180.2,184.9 L1182.2,184.5 L1184.2,184.1 L1186.2,183.7 L1188.2,183.3 L1190.2,182.9 L1192.2,182.5 L1194.2,182.2 L1196.2,181.8 L1198.2,181.4 L1200.3,181.0 L1202.3,180.6 L1204.3,180.2 L1206.3,179.8 L1208.4,179.4 L1210.4,179.1 L1212.4,178.7 L1214.4,178.3 L1216.5,177.9 L1218.5,177.6 L1220.6,177.2 L1222.6,176.8 L1224.6,176.4 L1226.7,176.1 L1228.7,175.7 L1230.8,175.3 L1232.8,175.0 L1234.9,174.6 L1236.9,174.3 L1238.9,173.9 L1241.0,173.6 L1243.0,173.2 L1245.1,172.9 L1247.1,172.6 L1249.2,172.2 L1251.2,171.9 L1253.3,171.6 L1255.3,171.2 L1257.4,170.9 L1259.4,170.6 L1261.5,170.3 L1263.6,170.0 L1265.6,169.7 L1267.7,169.4 L1269.7,169.1 L1271.8,168.8 L1273.8,168.6 L1275.9,168.3 L1277.9,168.0 L1279.9,167.8 L1282.0,167.5 L1284.0,167.3 L1286.1,167.0 L1288.1,166.8 L1290.2,166.5 L1292.2,166.3 L1294.3,166.1 L1296.3,165.9 L1298.3,165.7 L1300.4,165.5 L1302.4,165.3 L1304.4,165.1 L1306.5,164.9 L1308.5,164.8 L1310.5,164.6 L1312.6,164.5 L1314.6,164.3 L1316.6,164.2 L1318.6,164.0 L1320.6,163.9 L1322.7,163.8 L1324.7,163.7 L1326.7,163.6 L1328.7,163.5 L1330.7,163.4 L1332.7,163.4 L1334.7,163.3 L1336.7,163.3 L1338.7,163.2 L1340.7,163.2 L1342.7,163.2 L1344.7,163.1 L1346.7,163.1 L1348.6,163.2 L1350.6,163.2 L1352.6,163.2 L1354.6,163.2 L1356.5,163.3 L1358.5,163.3 L1360.5,163.4 L1362.4,163.5 L1364.4,163.6 L1366.3,163.7 L1368.3,163.8 L1370.2,163.9 L1372.2,164.1 L1374.1,164.2 L1376.0,164.4 L1378.0,164.5 L1379.9,164.7 L1381.8,164.9 L1383.7,165.1 L1385.6,165.4 L1387.5,165.6 L1389.4,165.8 L1391.3,166.1 L1393.2,166.4 L1395.1,166.7 L1397.0,167.0 L1398.8,167.3 L1400.7,167.6 L1402.6,167.9 L1404.4,168.3 L1406.3,168.6 L1408.1,169.0 L1410.0,169.4 L1411.8,169.8 L1413.7,170.3 L1415.5,170.7 L1417.3,171.2 L1419.1,171.6 L1420.9,172.1 L1422.7,172.6 L1424.5,173.2 L1426.3,173.8 L1428.0,174.4 L1429.8,175.0 L1431.5,175.6 L1433.2,176.3 L1434.9,177.0 L1436.6,177.8 L1438.3,178.6 L1439.9,179.4 L1441.6,180.2 L1443.2,181.1 L1444.8,182.1 L1446.4,183.0 L1448.0,184.1 L1449.5,185.1 L1451.1,186.2 L1452.6,187.4 L1454.0,188.6 L1455.5,189.9 L1456.9,191.2 L1458.3,192.5 L1459.7,193.9 L1461.1,195.3 L1462.5,196.8 L1463.8,198.3 L1465.1,199.8 L1466.4,201.4 L1467.6,203.0 L1468.8,204.7 L1470.1,206.3 L1471.2,208.0 L1472.4,209.8 L1473.6,211.5 L1474.7,213.3 L1475.8,215.1 L1476.9,216.9 L1477.9,218.7 L1478.9,220.6 L1479.9,222.5 L1480.9,224.4 L1481.9,226.3 L1482.8,228.2 L1483.8,230.1 L1484.7,232.0 L1485.5,233.9 L1486.4,235.9 L1487.2,237.8 L1488.0,239.8 L1488.8,241.7 L1489.6,243.7 L1490.3,245.6 L1491.0,247.5 L1491.7,249.5 L1492.4,251.4 L1493.1,253.4 L1493.7,255.3 L1494.3,257.3 L1495.0,259.2 L1495.5,261.2 L1496.1,263.1 L1496.7,265.1 L1497.2,267.0 L1497.7,269.0 L1498.2,270.9 L1498.7,272.9 L1499.1,274.8 L1499.6,276.8 L1500.0,278.8 L1500.4,280.7 L1500.9,282.7 L1501.2,284.6 L1501.6,286.6 L1502.0,288.6 L1502.3,290.5 L1502.7,292.5 L1503.0,294.4 L1503.3,296.4 L1503.6,298.4 L1503.9,300.3 L1504.2,302.3 L1504.4,304.3 L1504.7,306.3 L1504.9,308.2 L1505.2,310.2 L1505.4,312.2 L1505.6,314.1 L1505.9,316.1 L1506.1,318.1 L1506.3,320.1 L1506.4,322.1 L1506.6,324.0 L1506.8,326.0 L1507.0,328.0 L1507.1,330.0 L1507.3,332.0 L1507.4,334.0 L1507.6,335.9 L1507.7,337.9 L1507.9,339.9 L1508.0,341.9 L1508.1,343.9 L1508.3,345.9 L1508.4,347.9 L1508.5,349.9 L1508.6,351.8 L1508.8,353.8 L1508.9,355.8 L1509.0,357.8 L1509.1,359.8 L1509.2,361.8 L1509.3,363.8 L1509.5,365.8 L1509.6,367.8 L1509.7,369.8 L1509.8,371.8 L1509.9,373.8 L1510.1,375.8 L1510.2,377.8 L1510.3,379.8 L1510.4,381.7 L1510.5,383.7 L1510.7,385.7 L1510.8,387.7 L1510.9,389.7 L1511.0,391.7 L1511.2,393.7 L1511.3,395.7 L1511.4,397.7 L1511.5,399.7 L1511.6,401.7 L1511.8,403.7 L1511.9,405.7 L1512.0,407.7 L1512.1,409.7 L1512.3,411.7 L1512.4,413.7 L1512.5,415.7 L1512.6,417.7 L1512.7,419.7 L1512.9,421.7 L1513.0,423.7 L1513.1,425.7 L1513.2,427.7 L1513.3,429.7 L1513.5,431.7 L1513.6,433.7 L1513.7,435.7 L1513.8,437.7 L1513.9,439.7 L1514.0,441.7 L1514.2,443.7 L1514.3,445.7 L1514.4,447.7 L1514.5,449.7 L1514.6,451.7 L1514.7,453.7 L1514.8,455.7 L1514.9,457.7 L1515.0,459.8 L1515.1,461.8 L1515.3,463.8 L1515.4,465.8 L1515.5,467.8 L1515.6,469.8 L1515.7,471.8 L1515.8,473.8 L1515.9,475.8 L1516.0,477.8 L1516.1,479.8 L1516.2,481.8 L1516.2,483.8 L1516.3,485.8 L1516.4,487.8 L1516.5,489.8 L1516.6,491.8 L1516.7,493.8 L1516.8,495.8 L1516.9,497.8 L1516.9,499.8 L1517.0,501.8 L1517.1,503.8 L1517.2,505.9 L1517.2,507.9 L1517.3,509.9 L1517.4,511.9 L1517.5,513.9 L1517.5,515.9 L1517.6,517.9 L1517.6,519.9 L1517.7,521.9 L1517.8,523.9 L1517.8,525.9 L1517.9,527.9 L1517.9,529.9 L1518.0,531.9 L1518.0,533.9 L1518.1,535.9 L1518.1,537.9 L1518.2,539.9 L1518.2,541.9 L1518.2,543.9 L1518.3,545.9 L1518.3,547.9 L1518.3,550.0 L1518.4,552.0 L1518.4,554.0 L1518.4,556.0 L1518.4,558.0 L1518.4,560.0 L1518.4,562.0 L1518.5,564.0 L1518.5,566.0 L1518.5,568.0 L1518.5,570.0 L1518.5,572.0 L1518.5,574.0 L1518.5,576.0 L1518.4,578.0 L1518.4,580.0 L1518.4,582.0 L1518.4,584.0 L1518.4,586.0 L1518.4,588.0 L1518.3,590.0 L1518.3,592.0 L1518.3,594.0 L1518.2,596.0 L1518.2,598.0 L1518.1,600.0 L1518.1,602.0 L1518.0,604.0 L1518.0,606.0 L1517.9,608.0 L1517.9,610.0 L1517.8,612.0 L1517.7,614.0 L1517.7,616.0 L1517.6,618.0 L1517.5,620.0 M1518.5,620.0 L1518.5,618.0 L1518.6,616.1 L1518.6,614.1 L1518.6,612.1 L1518.7,610.2 L1518.7,608.2 L1518.7,606.2 L1518.8,604.2 L1518.8,602.3 L1518.8,600.3 L1518.9,598.3 L1518.9,596.3 L1518.9,594.4 L1519.0,592.4 L1519.0,590.4 L1519.0,588.4 L1519.1,586.4 L1519.1,584.4 L1519.2,582.5 L1519.2,580.5 L1519.2,578.5 L1519.3,576.5 L1519.3,574.5 L1519.3,572.5 L1519.4,570.5 L1519.4,568.5 L1519.5,566.6 L1519.5,564.6 L1519.5,562.6 L1519.6,560.6 L1519.6,558.6 L1519.6,556.6 L1519.7,554.6 L1519.7,552.6 L1519.8,550.6 L1519.8,548.6 L1519.9,546.6 L1519.9,544.6 L1519.9,542.6 L1520.0,540.6 L1520.0,538.6 L1520.1,536.6 L1520.1,534.6 L1520.2,532.6 L1520.2,530.6 L1520.2,528.6 L1520.3,526.6 L1520.3,524.5 L1520.4,522.5 L1520.4,520.5 L1520.5,518.5 L1520.5,516.5 L1520.6,514.5 L1520.6,512.5 L1520.7,510.5 L1520.7,508.5 L1520.8,506.5 L1520.8,504.4 L1520.9,502.4 L1521.0,500.4 L1521.0,498.4 L1521.1,496.4 L1521.1,494.4 L1521.2,492.3 L1521.2,490.3 L1521.3,488.3 L1521.4,486.3 L1521.4,484.3 L1521.5,482.3 L1521.5,480.2 L1521.6,478.2 L1521.7,476.2 L1521.7,474.2 L1521.8,472.2 L1521.9,470.1 L1521.9,468.1 L1522.0,466.1 L1522.1,464.1 L1522.1,462.1 L1522.2,460.0 L1522.3,458.0 L1522.4,456.0 L1522.4,454.0 L1522.5,451.9 L1522.6,449.9 L1522.7,447.9 L1522.7,445.9 L1522.8,443.8 L1522.9,441.8 L1523.0,439.8 L1523.1,437.8 L1523.2,435.7 L1523.2,433.7 L1523.3,431.7 L1523.4,429.7 L1523.5,427.6 L1523.6,425.6 L1523.7,423.6 L1523.8,421.6 L1523.9,419.5 L1524.0,417.5 L1524.1,415.5 L1524.1,413.5 L1524.2,411.4 L1524.3,409.4 L1524.4,407.4 L1524.5,405.4 L1524.6,403.3 L1524.8,401.3 L1524.9,399.3 L1525.0,397.3 L1525.1,395.2 L1525.2,393.2 L1525.3,391.2 L1525.4,389.2 L1525.5,387.1 L1525.6,385.1 L1525.7,383.1 L1525.9,381.1 L1526.0,379.0 L1526.1,377.0 L1526.2,375.0 L1526.3,373.0 L1526.5,370.9 L1526.6,368.9 L1526.7,366.9 L1526.9,364.9 L1527.0,362.9 L1527.1,360.8 L1527.2,358.8 L1527.4,356.8 L1527.5,354.8 L1527.7,352.7 L1527.8,350.7 L1527.9,348.7 L1528.1,346.7 L1528.2,344.7 L1528.4,342.6 L1528.5,340.6 L1528.7,338.6 L1528.8,336.6 L1529.0,334.6 L1529.1,332.6 L1529.3,330.5 L1529.4,328.5 L1529.6,326.5 L1529.8,324.5 L1529.9,322.5 L1530.1,320.5 L1530.3,318.4 L1530.4,316.4 L1530.6,314.4 L1530.8,312.4 L1530.9,310.4 L1531.1,308.4 L1531.3,306.4 L1531.5,304.4 L1531.7,302.4 L1531.8,300.3 L1532.0,298.3 L1532.2,296.3 L1532.4,294.3 L1532.6,292.3 L1532.8,290.3 L1533.0,288.3 L1533.2,286.3 L1533.4,284.3 L1533.6,282.3 L1533.8,280.3 L1534.0,278.3 L1534.2,276.3 L1534.4,274.3 L1534.6,272.3 L1534.8,270.3 L1535.1,268.3 L1535.3,266.3 L1535.5,264.3 L1535.7,262.3 L1535.9,260.3 L1536.2,258.3 L1536.4,256.3 L1536.6,254.3 L1536.9,252.3 L1537.1,250.4 L1537.3,248.4 L1537.6,246.4 L1537.8,244.4 L1538.0,242.4 L1538.3,240.4 L1538.5,238.4 L1538.8,236.4 L1539.0,234.5 L1539.3,232.5 L1539.6,230.5 L1539.8,228.5 L1540.1,226.5 L1540.3,224.6 L1540.6,222.6 L1540.9,220.6 L1541.1,218.6 L1541.4,216.7 L1541.7,214.7 L1542.0,212.7 L1542.3,210.8 L1542.5,208.8 L1542.8,206.8 L1543.1,204.8 L1543.4,202.9 L1543.7,200.9 L1544.0,199.0 L1544.3,197.0 L1544.6,195.0 L1544.9,193.1 L1545.2,191.1 L1545.6,189.2 L1545.9,187.2 L1546.2,185.3 L1546.5,183.3 L1546.9,181.4 L1547.2,179.4 L1547.6,177.5 L1548.0,175.6 L1548.3,173.6 L1548.7,171.7 L1549.1,169.8 L1549.5,167.8 L1549.9,165.9 L1550.3,164.0 L1550.7,162.1 L1551.2,160.2 L1551.6,158.3 L1552.1,156.4 L1552.5,154.5 L1553.0,152.6 L1553.5,150.7 L1554.0,148.8 L1554.5,146.9 L1555.0,145.0 L1555.5,143.2 L1556.1,141.3 L1556.6,139.4 L1557.2,137.6 L1557.8,135.7 L1558.4,133.9 L1559.0,132.0 L1559.6,130.2 L1560.3,128.3 L1560.9,126.5 L1561.6,124.7 L1562.3,122.9 L1563.0,121.1 L1563.7,119.3 L1564.5,117.5 L1565.2,115.7 L1566.0,113.9 L1566.8,112.1 L1567.6,110.3 L1568.4,108.5 L1569.2,106.8 L1570.1,105.0 L1571.0,103.3 L1571.9,101.5 L1572.8,99.8 L1573.7,98.1 L1574.7,96.3 L1575.7,94.6 L1576.7,92.9 L1577.7,91.2 L1578.7,89.5 L1579.8,87.8 L1580.9,86.2 L1582.0,84.5 L1583.1,82.8 L1584.3,81.2 L1585.4,79.5 L1586.6,77.9 L1587.9,76.3 L1589.1,74.7 L1590.4,73.0 L1591.7,71.4 L1593.0,69.8 L1594.4,68.3 L1595.7,66.7 L1597.1,65.1 L1598.5,63.6 L1600.0,62.0 L1601.5,60.5 L1603.0,58.9" stroke="#0b0b9a" stroke-width="5.5" stroke-dasharray="4.5 1.8"/>
<path d="M189.0,122.0 L190.8,122.8 L192.5,123.7 L194.3,124.5 L196.1,125.3 L197.8,126.1 L199.6,127.0 L201.4,127.8 L203.2,128.6 L204.9,129.5 L206.7,130.3 L208.5,131.2 L210.3,132.0 L212.0,132.9 L213.8,133.8 L215.6,134.6 L217.4,135.5 L219.1,136.4 L220.9,137.2 L222.7,138.1 L224.5,139.0 L226.2,139.9 L228.0,140.8 L229.8,141.7 L231.6,142.6 L233.3,143.5 L235.1,144.4 L236.9,145.3 L238.7,146.3 L240.5,147.2 L242.2,148.1 L244.0,149.0 L245.8,150.0 L247.5,150.9 L249.3,151.9 L251.1,152.8 L252.9,153.8 L254.6,154.7 L256.4,155.7 L258.2,156.7 L259.9,157.6 L261.7,158.6 L263.5,159.6 L265.2,160.6 L267.0,161.6 L268.8,162.5 L270.5,163.5 L272.3,164.5 L274.0,165.5 L275.8,166.6 L277.5,167.6 L279.3,168.6 L281.1,169.6 L282.8,170.6 L284.6,171.7 L286.3,172.7 L288.0,173.7 L289.8,174.8 L291.5,175.8 L293.3,176.9 L295.0,177.9 L296.7,179.0 L298.5,180.1 L300.2,181.1 L301.9,182.2 L303.6,183.3 L305.4,184.4 L307.1,185.4 L308.8,186.5 L310.5,187.6 L312.2,188.7 L313.9,189.8 L315.6,190.9 L317.4,192.1 L319.1,193.2 L320.8,194.3 L322.4,195.4 L324.1,196.6 L325.8,197.7 L327.5,198.8 L329.2,200.0 L330.9,201.1 L332.6,202.3 L334.2,203.4 L335.9,204.6 L337.6,205.8 L339.2,206.9 L340.9,208.1 L342.5,209.3 L344.2,210.5 L345.8,211.7 L347.5,212.9 L349.1,214.1 L350.8,215.3 L352.4,216.5 L354.0,217.7 L355.7,218.9 L357.3,220.2 L358.9,221.4 L360.5,222.6 L362.1,223.8 L363.7,225.1 L365.3,226.3 L366.9,227.6 L368.5,228.8 L370.1,230.1 L371.7,231.4 L373.2,232.6 L374.8,233.9 L376.4,235.2 L377.9,236.5 L379.5,237.8 L381.1,239.1 L382.6,240.4 L384.2,241.7 L385.7,243.0 L387.2,244.3 L388.7,245.6 L390.3,246.9 L391.8,248.3 L393.3,249.6 L394.8,250.9 L396.3,252.3 L397.8,253.6 L399.3,255.0 L400.8,256.3 L402.3,257.7 L403.7,259.1 L405.2,260.4 L406.7,261.8 L408.1,263.2 L409.6,264.6 L411.0,266.0 L412.4,267.4 L413.9,268.8 L415.3,270.2 L416.7,271.6 L418.1,273.0 L419.5,274.4 L420.9,275.9 L422.3,277.3 L423.7,278.7 L425.1,280.2 L426.5,281.6 L427.8,283.1 L429.2,284.5 L430.6,286.0 L431.9,287.4 L433.2,288.9 L434.6,290.4 L435.9,291.9 L437.2,293.4 L438.5,294.9 L439.8,296.4 L441.1,297.9 L442.4,299.4 L443.7,300.9 L445.0,302.4 L446.3,303.9 L447.5,305.4 L448.8,307.0 L450.0,308.5 L451.3,310.1 L452.5,311.6 L453.7,313.2 L454.9,314.7 L456.1,316.3 L457.3,317.9 L458.5,319.4 L459.7,321.0 L460.9,322.6 L462.0,324.2 L463.2,325.8 L464.4,327.4 L465.5,329.0 L466.6,330.6 L467.8,332.2 L468.9,333.8 L470.0,335.5 L471.1,337.1 L472.2,338.7 L473.3,340.4 L474.3,342.0 L475.4,343.7 L476.5,345.3 L477.5,347.0 L478.5,348.7 L479.6,350.4 L480.6,352.0 L481.6,353.7 L482.6,355.4 L483.6,357.1 L484.6,358.8 L485.6,360.5 L486.5,362.2 L487.5,363.9 L488.5,365.7 L489.4,367.4 L490.3,369.1 L491.3,370.9 L492.2,372.6 L493.1,374.3 L494.0,376.1 L494.9,377.9 L495.8,379.6 L496.7,381.4 L497.5,383.1 L498.4,384.9 L499.2,386.7 L500.1,388.5 L500.9,390.3 L501.8,392.0 L502.6,393.8 L503.4,395.6 L504.2,397.4 L505.0,399.2 L505.8,401.1 L506.6,402.9 L507.4,404.7 L508.1,406.5 L508.9,408.3 L509.6,410.2 L510.4,412.0 L511.1,413.8 L511.8,415.7 L512.6,417.5 L513.3,419.4 L514.0,421.2 L514.7,423.1 L515.4,425.0 L516.1,426.8 L516.8,428.7 L517.4,430.6 L518.1,432.4 L518.8,434.3 L519.4,436.2 L520.0,438.1 L520.7,439.9 L521.3,441.8 L521.9,443.7 L522.6,445.6 L523.2,447.5 L523.8,449.4 L524.4,451.3 L525.0,453.2 L525.5,455.2 L526.1,457.1 L526.7,459.0 L527.2,460.9 L527.8,462.8 L528.4,464.7 L528.9,466.7 L529.4,468.6 L530.0,470.5 L530.5,472.5 L531.0,474.4 L531.5,476.3 L532.0,478.3 L532.5,480.2 L533.0,482.2 L533.5,484.1 L534.0,486.1 L534.5,488.0 L534.9,490.0 L535.4,491.9 L535.9,493.9 L536.3,495.9 L536.8,497.8 L537.2,499.8 L537.6,501.7 L538.1,503.7 L538.5,505.7 L538.9,507.7 L539.3,509.6 L539.7,511.6 L540.1,513.6 L540.5,515.6 L540.9,517.5 L541.3,519.5 L541.7,521.5 L542.1,523.5 L542.4,525.5 L542.8,527.4 L543.2,529.4 L543.5,531.4 L543.9,533.4 L544.2,535.4 L544.6,537.4 L544.9,539.4 L545.2,541.4 L545.5,543.4 L545.9,545.4 L546.2,547.4 L546.5,549.4 L546.8,551.4 L547.1,553.4 L547.4,555.4 L547.7,557.4 L548.0,559.4 L548.2,561.4 L548.5,563.4 L548.8,565.4 L549.1,567.4 L549.3,569.4 L549.6,571.4 L549.8,573.4 L550.1,575.4 L550.3,577.4 L550.6,579.4 L550.8,581.4 L551.0,583.4 L551.3,585.4 L551.5,587.4 L551.7,589.4 L551.9,591.4 L552.1,593.5 L552.4,595.5 L552.6,597.5 L552.8,599.5 L553.0,601.5 L553.2,603.5 L553.3,605.5 L553.5,607.5 L553.7,609.5 L553.9,611.6 L554.1,613.6 L554.2,615.6 L554.4,617.6 L554.6,619.6 L554.7,621.6 L554.9,623.6 L555.0,625.7 L555.2,627.7 L555.3,629.7 L555.5,631.7 L555.6,633.7 L555.8,635.7 L555.9,637.8 L556.0,639.8 L556.2,641.8 L556.3,643.8 L556.4,645.8 L556.5,647.8 L556.6,649.9 L556.8,651.9 L556.9,653.9 L557.0,655.9 L557.1,657.9 L557.2,660.0 L557.3,662.0 L557.4,664.0 L557.5,666.0 L557.6,668.0 L557.7,670.1 L557.8,672.1 L557.8,674.1 L557.9,676.1 L558.0,678.1 L558.1,680.2 L558.2,682.2 L558.2,684.2 L558.3,686.2 L558.4,688.2 L558.4,690.3 L558.5,692.3 L558.6,694.3 L558.6,696.3 L558.7,698.4 L558.7,700.4 L558.8,702.4 L558.8,704.4 L558.9,706.4 L558.9,708.5 L559.0,710.5 L559.0,712.5 L559.1,714.5 L559.1,716.6 L559.1,718.6 L559.2,720.6 L559.2,722.6 L559.3,724.6 L559.3,726.7 L559.3,728.7 L559.4,730.7 L559.4,732.7 L559.4,734.7 L559.4,736.8 L559.5,738.8 L559.5,740.8 L559.5,742.8 L559.5,744.8 L559.6,746.9 L559.6,748.9 L559.6,750.9 L559.6,752.9 L559.6,755.0 L559.6,757.0 L559.7,759.0 L559.7,761.0 L559.7,763.0 L559.7,765.0 L559.7,767.1 L559.7,769.1 L559.7,771.1 L559.7,773.1 L559.8,775.1 L559.8,777.2 L559.8,779.2 L559.8,781.2 L559.8,783.2 L559.8,785.2 L559.8,787.2 L559.8,789.3 L559.8,791.3 L559.8,793.3 L559.8,795.3 L559.8,797.3 L559.8,799.3 L559.8,801.3 L559.8,803.4 L559.8,805.4 L559.8,807.4 L559.9,809.4 L559.9,811.4 L559.9,813.4 L559.9,815.4 L559.9,817.4 L559.9,819.5 L559.9,821.5 L559.9,823.5 L559.9,825.5 L559.9,827.5 L559.9,829.5 L559.9,831.5 L559.9,833.5 L559.9,835.5 L560.0,837.5 L560.0,839.5 L560.0,841.6 L560.0,843.6 L560.0,845.6 L560.0,847.6 L560.0,849.6 L560.0,851.6 L560.1,853.6 L560.1,855.6 L560.1,857.6 L560.1,859.6 L560.1,861.6 L560.2,863.6 L560.2,865.6 L560.2,867.6 L560.2,869.6 L560.2,871.6 L560.3,873.6 L560.3,875.6 L560.3,877.6 L560.4,879.6 L560.4,881.6 L560.4,883.6 L560.5,885.5 L560.5,887.5 L560.5,889.5 L560.6,891.5 L560.6,893.5 L560.7,895.5 L560.7,897.5 L560.8,899.5 L560.8,901.5 L560.9,903.5 L560.9,905.4 L561.0,907.4 L561.0,909.4 L561.1,911.4 L561.1,913.4 L561.2,915.4 L561.3,917.4 L561.3,919.3 L561.4,921.3 L561.5,923.3 L561.5,925.3 L561.6,927.3 L561.7,929.2 L561.8,931.2 L561.9,933.2 L561.9,935.2 L562.0,937.1 L562.1,939.1 L562.2,941.1 L562.3,943.0 L562.4,945.0 L562.5,947.0 M562.5,947.0 L562.5,945.0 L562.6,942.9 L562.6,940.9 L562.7,938.8 L562.7,936.8 L562.8,934.7 L562.8,932.7 L562.9,930.6 L562.9,928.6 L562.9,926.5 L563.0,924.5 L563.0,922.5 L563.1,920.4 L563.1,918.4 L563.1,916.4 L563.2,914.3 L563.2,912.3 L563.2,910.3 L563.3,908.3 L563.3,906.2 L563.3,904.2 L563.3,902.2 L563.4,900.2 L563.4,898.1 L563.4,896.1 L563.5,894.1 L563.5,892.1 L563.5,890.1 L563.5,888.0 L563.6,886.0 L563.6,884.0 L563.6,882.0 L563.6,880.0 L563.6,878.0 L563.7,876.0 L563.7,874.0 L563.7,872.0 L563.7,869.9 L563.8,867.9 L563.8,865.9 L563.8,863.9 L563.8,861.9 L563.8,859.9 L563.9,857.9 L563.9,855.9 L563.9,853.9 L563.9,851.9 L563.9,849.9 L563.9,847.9 L564.0,845.9 L564.0,843.9 L564.0,841.9 L564.0,839.9 L564.0,837.9 L564.1,836.0 L564.1,834.0 L564.1,832.0 L564.1,830.0 L564.1,828.0 L564.2,826.0 L564.2,824.0 L564.2,822.0 L564.2,820.0 L564.2,818.0 L564.3,816.1 L564.3,814.1 L564.3,812.1 L564.3,810.1 L564.3,808.1 L564.4,806.1 L564.4,804.1 L564.4,802.2 L564.4,800.2 L564.5,798.2 L564.5,796.2 L564.5,794.2 L564.5,792.3 L564.6,790.3 L564.6,788.3 L564.6,786.3 L564.6,784.3 L564.7,782.4 L564.7,780.4 L564.7,778.4 L564.8,776.4 L564.8,774.4 L564.8,772.5 L564.9,770.5 L564.9,768.5 L564.9,766.5 L565.0,764.5 L565.0,762.6 L565.1,760.6 L565.1,758.6 L565.1,756.6 L565.2,754.7 L565.2,752.7 L565.3,750.7 L565.3,748.7 L565.4,746.8 L565.4,744.8 L565.4,742.8 L565.5,740.8 L565.5,738.9 L565.6,736.9 L565.7,734.9 L565.7,732.9 L565.8,730.9 L565.8,729.0 L565.9,727.0 L565.9,725.0 L566.0,723.0 L566.1,721.1 L566.1,719.1 L566.2,717.1 L566.3,715.1 L566.3,713.2 L566.4,711.2 L566.5,709.2 L566.6,707.2 L566.6,705.2 L566.7,703.3 L566.8,701.3 L566.9,699.3 L567.0,697.3 L567.0,695.3 L567.1,693.4 L567.2,691.4 L567.3,689.4 L567.4,687.4 L567.5,685.4 L567.6,683.4 L567.7,681.5 L567.8,679.5 L567.9,677.5 L568.0,675.5 L568.1,673.5 L568.2,671.5 L568.3,669.6 L568.4,667.6 L568.5,665.6 L568.6,663.6 L568.8,661.6 L568.9,659.6 L569.0,657.6 L569.1,655.6 L569.3,653.6 L569.4,651.7 L569.5,649.7 L569.6,647.7 L569.8,645.7 L569.9,643.7 L570.1,641.7 L570.2,639.7 L570.4,637.7 L570.5,635.7 L570.7,633.7 L570.8,631.7 L571.0,629.7 L571.1,627.7 L571.3,625.7 L571.4,623.7 L571.6,621.7 L571.8,619.7 L572.0,617.7 L572.1,615.7 L572.3,613.7 L572.5,611.7 L572.7,609.7 L572.9,607.6 L573.0,605.6 L573.2,603.6 L573.4,601.6 L573.6,599.6 L573.8,597.6 L574.0,595.6 L574.2,593.6 L574.4,591.5 L574.7,589.5 L574.9,587.5 L575.1,585.5 L575.3,583.5 L575.5,581.4 L575.8,579.4 L576.0,577.4 L576.2,575.4 L576.5,573.3 L576.7,571.3 L577.0,569.3 L577.2,567.3 L577.5,565.2 L577.7,563.2 L578.0,561.2 L578.3,559.2 L578.6,557.1 L578.9,555.1 L579.1,553.1 L579.4,551.1 L579.7,549.1 L580.0,547.0 L580.4,545.0 L580.7,543.0 L581.0,541.0 L581.3,539.0 L581.7,537.0 L582.0,535.0 L582.4,532.9 L582.7,530.9 L583.1,528.9 L583.5,526.9 L583.8,524.9 L584.2,522.9 L584.6,520.9 L585.0,518.9 L585.4,516.9 L585.8,514.9 L586.3,512.9 L586.7,511.0 L587.1,509.0 L587.6,507.0 L588.0,505.0 L588.5,503.0 L589.0,501.1 L589.5,499.1 L589.9,497.1 L590.4,495.2 L591.0,493.2 L591.5,491.2 L592.0,489.3 L592.5,487.3 L593.1,485.4 L593.6,483.4 L594.2,481.5 L594.8,479.6 L595.4,477.6 L596.0,475.7 L596.6,473.8 L597.2,471.9 L597.8,469.9 L598.5,468.0 L599.1,466.1 L599.8,464.2 L600.5,462.3 L601.1,460.4 L601.8,458.6 L602.5,456.7 L603.3,454.8 L604.0,452.9 L604.7,451.1 L605.5,449.2 L606.3,447.4 L607.0,445.5 L607.8,443.7 L608.6,441.8 L609.4,440.0 L610.3,438.2 L611.1,436.3 L612.0,434.5 L612.8,432.7 L613.7,430.9 L614.6,429.1 L615.5,427.3 L616.4,425.6 L617.3,423.8 L618.3,422.0 L619.2,420.3 L620.2,418.5 L621.1,416.7 L622.1,415.0 L623.1,413.3 L624.1,411.5 L625.2,409.8 L626.2,408.1 L627.2,406.4 L628.3,404.7 L629.3,403.0 L630.4,401.3 L631.5,399.7 L632.6,398.0 L633.7,396.4 L634.8,394.7 L636.0,393.1 L637.1,391.4 L638.2,389.8 L639.4,388.2 L640.6,386.6 L641.8,385.0 L643.0,383.4 L644.2,381.8 L645.4,380.2 L646.6,378.7 L647.8,377.1 L649.1,375.6 L650.3,374.1 L651.6,372.5 L652.9,371.0 L654.2,369.5 L655.5,368.0 L656.8,366.5 L658.1,365.1 L659.4,363.6 L660.8,362.1 L662.1,360.7 L663.5,359.2 L664.8,357.8 L666.2,356.4 L667.6,355.0 L669.0,353.6 L670.4,352.2 L671.8,350.9 L673.2,349.5 L674.6,348.1 L676.1,346.8 L677.5,345.5 L679.0,344.2 L680.5,342.8 L681.9,341.6 L683.4,340.3 L684.9,339.0 L686.4,337.7 L687.9,336.5 L689.5,335.3 L691.0,334.0 L692.5,332.8 L694.1,331.6 L695.6,330.4 L697.2,329.2 L698.7,328.0 L700.3,326.9 L701.9,325.7 L703.5,324.6 L705.1,323.5 L706.7,322.3 L708.3,321.2 L710.0,320.1 L711.6,319.0 L713.2,317.9 L714.9,316.9 L716.5,315.8 L718.2,314.8 L719.9,313.7 L721.5,312.7 L723.2,311.6 L724.9,310.6 L726.6,309.6 L728.3,308.6 L730.0,307.6 L731.7,306.7 L733.4,305.7 L735.2,304.7 L736.9,303.8 L738.6,302.8 L740.4,301.9 L742.1,301.0 L743.9,300.1 L745.7,299.1 L747.4,298.2 L749.2,297.3 L751.0,296.5 L752.8,295.6 L754.6,294.7 L756.4,293.9 L758.2,293.0 L760.0,292.2 L761.8,291.3 L763.6,290.5 L765.4,289.7 L767.3,288.8 L769.1,288.0 L770.9,287.2 L772.8,286.4 L774.6,285.7 L776.5,284.9 L778.3,284.1 L780.2,283.3 L782.1,282.6 L783.9,281.8 L785.8,281.1 L787.7,280.3 L789.6,279.6 L791.4,278.9 L793.3,278.2 L795.2,277.5 L797.1,276.8 L799.0,276.1 L800.9,275.4 L802.8,274.7 L804.7,274.0 L806.6,273.3 L808.6,272.6 L810.5,272.0 L812.4,271.3 L814.3,270.7 L816.3,270.0 L818.2,269.4 L820.1,268.7 L822.1,268.1 L824.0,267.5 L825.9,266.8 L827.9,266.2 L829.8,265.6 L831.8,265.0 L833.7,264.4 L835.7,263.8 L837.6,263.2 L839.6,262.6 L841.6,262.0 L843.5,261.5 L845.5,260.9 L847.4,260.3 L849.4,259.7 L851.4,259.2 L853.3,258.6 L855.3,258.1 L857.3,257.5 L859.3,257.0 L861.2,256.4 L863.2,255.9 L865.2,255.3 L867.2,254.8 L869.1,254.3 L871.1,253.7 L873.1,253.2 L875.1,252.7 L877.0,252.2 L879.0,251.7 L881.0,251.1 L883.0,250.6 L885.0,250.1 L886.9,249.6 L888.9,249.1 L890.9,248.6 L892.9,248.1 L894.9,247.6 L896.8,247.1 L898.8,246.7 L900.8,246.2 L902.8,245.7 L904.7,245.2 L906.7,244.7 L908.7,244.2 L910.7,243.8 L912.6,243.3 L914.6,242.8 L916.6,242.3 L918.5,241.9 L920.5,241.4 L922.5,240.9 L924.4,240.4 L926.4,240.0 L928.4,239.5 L930.3,239.0 L932.3,238.6 L934.2,238.1 L936.2,237.7 L938.2,237.2 L940.1,236.7 L942.1,236.3 L944.0,235.8 L946.0,235.4 L947.9,234.9 L949.8,234.4 L951.8,234.0 L953.7,233.5 L955.7,233.1 L957.6,232.6 L959.6,232.2 L961.5,231.7 L963.4,231.3 L965.4,230.8 L967.3,230.4 L969.2,229.9 L971.2,229.5 L973.1,229.0 L975.0,228.6 L976.9,228.1 L978.9,227.7 L980.8,227.3 L982.7,226.8 L984.7,226.4 L986.6,225.9 L988.5,225.5 L990.4,225.0 L992.3,224.6 L994.3,224.2 L996.2,223.7 L998.1,223.3 L1000.0,222.9 L1001.9,222.4 L1003.9,222.0 L1005.8,221.6 L1007.7,221.1 L1009.6,220.7 L1011.5,220.3 L1013.4,219.8 L1015.4,219.4 L1017.3,219.0 L1019.2,218.6 L1021.1,218.1 L1023.0,217.7 L1024.9,217.3 L1026.9,216.9 L1028.8,216.4 L1030.7,216.0 L1032.6,215.6 L1034.5,215.2 L1036.4,214.7 L1038.3,214.3 L1040.3,213.9 L1042.2,213.5 L1044.1,213.1 L1046.0,212.6 L1047.9,212.2 L1049.8,211.8 L1051.7,211.4 L1053.7,211.0 L1055.6,210.5 L1057.5,210.1 L1059.4,209.7 L1061.3,209.3 L1063.2,208.9 L1065.2,208.5 L1067.1,208.1 L1069.0,207.7 L1070.9,207.2 L1072.8,206.8 L1074.7,206.4 L1076.7,206.0 L1078.6,205.6 L1080.5,205.2 L1082.4,204.8 L1084.4,204.4 L1086.3,204.0 L1088.2,203.6 L1090.1,203.2 L1092.1,202.7 L1094.0,202.3 L1095.9,201.9 L1097.8,201.5 L1099.8,201.1 L1101.7,200.7 L1103.6,200.3 L1105.6,199.9 L1107.5,199.5 L1109.4,199.1 L1111.4,198.7 L1113.3,198.3 L1115.3,197.9 L1117.2,197.5 L1119.1,197.1 L1121.1,196.7 L1123.0,196.3 L1125.0,195.9 L1126.9,195.5 L1128.9,195.1 L1130.8,194.7 L1132.8,194.3 L1134.7,193.9 L1136.7,193.5 L1138.6,193.1 L1140.6,192.7 L1142.6,192.3 L1144.5,191.9 L1146.5,191.6 L1148.4,191.2 L1150.4,190.8 L1152.4,190.4 L1154.4,190.0 L1156.3,189.6 L1158.3,189.2 L1160.3,188.8 L1162.3,188.4 L1164.2,188.0 L1166.2,187.6 L1168.2,187.2 L1170.2,186.8 L1172.2,186.4 L1174.2,186.1 L1176.2,185.7 L1178.2,185.3 L1180.2,184.9 L1182.2,184.5 L1184.2,184.1 L1186.2,183.7 L1188.2,183.3 L1190.2,182.9 L1192.2,182.5 L1194.2,182.2 L1196.2,181.8 L1198.2,181.4 L1200.3,181.0 L1202.3,180.6 L1204.3,180.2 L1206.3,179.8 L1208.4,179.4 L1210.4,179.1 L1212.4,178.7 L1214.4,178.3 L1216.5,177.9 L1218.5,177.6 L1220.6,177.2 L1222.6,176.8 L1224.6,176.4 L1226.7,176.1 L1228.7,175.7 L1230.8,175.3 L1232.8,175.0 L1234.9,174.6 L1236.9,174.3 L1238.9,173.9 L1241.0,173.6 L1243.0,173.2 L1245.1,172.9 L1247.1,172.6 L1249.2,172.2 L1251.2,171.9 L1253.3,171.6 L1255.3,171.2 L1257.4,170.9 L1259.4,170.6 L1261.5,170.3 L1263.6,170.0 L1265.6,169.7 L1267.7,169.4 L1269.7,169.1 L1271.8,168.8 L1273.8,168.6 L1275.9,168.3 L1277.9,168.0 L1279.9,167.8 L1282.0,167.5 L1284.0,167.3 L1286.1,167.0 L1288.1,166.8 L1290.2,166.5 L1292.2,166.3 L1294.3,166.1 L1296.3,165.9 L1298.3,165.7 L1300.4,165.5 L1302.4,165.3 L1304.4,165.1 L1306.5,164.9 L1308.5,164.8 L1310.5,164.6 L1312.6,164.5 L1314.6,164.3 L1316.6,164.2 L1318.6,164.0 L1320.6,163.9 L1322.7,163.8 L1324.7,163.7 L1326.7,163.6 L1328.7,163.5 L1330.7,163.4 L1332.7,163.4 L1334.7,163.3 L1336.7,163.3 L1338.7,163.2 L1340.7,163.2 L1342.7,163.2 L1344.7,163.1 L1346.7,163.1 L1348.6,163.2 L1350.6,163.2 L1352.6,163.2 L1354.6,163.2 L1356.5,163.3 L1358.5,163.3 L1360.5,163.4 L1362.4,163.5 L1364.4,163.6 L1366.3,163.7 L1368.3,163.8 L1370.2,163.9 L1372.2,164.1 L1374.1,164.2 L1376.0,164.4 L1378.0,164.5 L1379.9,164.7 L1381.8,164.9 L1383.7,165.1 L1385.6,165.4 L1387.5,165.6 L1389.4,165.8 L1391.3,166.1 L1393.2,166.4 L1395.1,166.7 L1397.0,167.0 L1398.8,167.3 L1400.7,167.6 L1402.6,167.9 L1404.4,168.3 L1406.3,168.6 L1408.1,169.0 L1410.0,169.4 L1411.8,169.8 L1413.7,170.3 L1415.5,170.7 L1417.3,171.2 L1419.1,171.6 L1420.9,172.1 L1422.7,172.6 L1424.5,173.2 L1426.3,173.8 L1428.0,174.4 L1429.8,175.0 L1431.5,175.6 L1433.2,176.3 L1434.9,177.0 L1436.6,177.8 L1438.3,178.6 L1439.9,179.4 L1441.6,180.2 L1443.2,181.1 L1444.8,182.1 L1446.4,183.0 L1448.0,184.1 L1449.5,185.1 L1451.1,186.2 L1452.6,187.4 L1454.0,188.6 L1455.5,189.9 L1456.9,191.2 L1458.3,192.5 L1459.7,193.9 L1461.1,195.3 L1462.5,196.8 L1463.8,198.3 L1465.1,199.8 L1466.4,201.4 L1467.6,203.0 L1468.8,204.7 L1470.1,206.3 L1471.2,208.0 L1472.4,209.8 L1473.6,211.5 L1474.7,213.3 L1475.8,215.1 L1476.9,216.9 L1477.9,218.7 L1478.9,220.6 L1479.9,222.5 L1480.9,224.4 L1481.9,226.3 L1482.8,228.2 L1483.8,230.1 L1484.7,232.0 L1485.5,233.9 L1486.4,235.9 L1487.2,237.8 L1488.0,239.8 L1488.8,241.7 L1489.6,243.7 L1490.3,245.6 L1491.0,247.5 L1491.7,249.5 L1492.4,251.4 L1493.1,253.4 L1493.7,255.3 L1494.3,257.3 L1495.0,259.2 L1495.5,261.2 L1496.1,263.1 L1496.7,265.1 L1497.2,267.0 L1497.7,269.0 L1498.2,270.9 L1498.7,272.9 L1499.1,274.8 L1499.6,276.8 L1500.0,278.8 L1500.4,280.7 L1500.9,282.7 L1501.2,284.6 L1501.6,286.6 L1502.0,288.6 L1502.3,290.5 L1502.7,292.5 L1503.0,294.4 L1503.3,296.4 L1503.6,298.4 L1503.9,300.3 L1504.2,302.3 L1504.4,304.3 L1504.7,306.3 L1504.9,308.2 L1505.2,310.2 L1505.4,312.2 L1505.6,314.1 L1505.9,316.1 L1506.1,318.1 L1506.3,320.1 L1506.4,322.1 L1506.6,324.0 L1506.8,326.0 L1507.0,328.0 L1507.1,330.0 L1507.3,332.0 L1507.4,334.0 L1507.6,335.9 L1507.7,337.9 L1507.9,339.9 L1508.0,341.9 L1508.1,343.9 L1508.3,345.9 L1508.4,347.9 L1508.5,349.9 L1508.6,351.8 L1508.8,353.8 L1508.9,355.8 L1509.0,357.8 L1509.1,359.8 L1509.2,361.8 L1509.3,363.8 L1509.5,365.8 L1509.6,367.8 L1509.7,369.8 L1509.8,371.8 L1509.9,373.8 L1510.1,375.8 L1510.2,377.8 L1510.3,379.8 L1510.4,381.7 L1510.5,383.7 L1510.7,385.7 L1510.8,387.7 L1510.9,389.7 L1511.0,391.7 L1511.2,393.7 L1511.3,395.7 L1511.4,397.7 L1511.5,399.7 L1511.6,401.7 L1511.8,403.7 L1511.9,405.7 L1512.0,407.7 L1512.1,409.7 L1512.3,411.7 L1512.4,413.7 L1512.5,415.7 L1512.6,417.7 L1512.7,419.7 L1512.9,421.7 L1513.0,423.7 L1513.1,425.7 L1513.2,427.7 L1513.3,429.7 L1513.5,431.7 L1513.6,433.7 L1513.7,435.7 L1513.8,437.7 L1513.9,439.7 L1514.0,441.7 L1514.2,443.7 L1514.3,445.7 L1514.4,447.7 L1514.5,449.7 L1514.6,451.7 L1514.7,453.7 L1514.8,455.7 L1514.9,457.7 L1515.0,459.8 L1515.1,461.8 L1515.3,463.8 L1515.4,465.8 L1515.5,467.8 L1515.6,469.8 L1515.7,471.8 L1515.8,473.8 L1515.9,475.8 L1516.0,477.8 L1516.1,479.8 L1516.2,481.8 L1516.2,483.8 L1516.3,485.8 L1516.4,487.8 L1516.5,489.8 L1516.6,491.8 L1516.7,493.8 L1516.8,495.8 L1516.9,497.8 L1516.9,499.8 L1517.0,501.8 L1517.1,503.8 L1517.2,505.9 L1517.2,507.9 L1517.3,509.9 L1517.4,511.9 L1517.5,513.9 L1517.5,515.9 L1517.6,517.9 L1517.6,519.9 L1517.7,521.9 L1517.8,523.9 L1517.8,525.9 L1517.9,527.9 L1517.9,529.9 L1518.0,531.9 L1518.0,533.9 L1518.1,535.9 L1518.1,537.9 L1518.2,539.9 L1518.2,541.9 L1518.2,543.9 L1518.3,545.9 L1518.3,547.9 L1518.3,550.0 L1518.4,552.0 L1518.4,554.0 L1518.4,556.0 L1518.4,558.0 L1518.4,560.0 L1518.4,562.0 L1518.5,564.0 L1518.5,566.0 L1518.5,568.0 L1518.5,570.0 L1518.5,572.0 L1518.5,574.0 L1518.5,576.0 L1518.4,578.0 L1518.4,580.0 L1518.4,582.0 L1518.4,584.0 L1518.4,586.0 L1518.4,588.0 L1518.3,590.0 L1518.3,592.0 L1518.3,594.0 L1518.2,596.0 L1518.2,598.0 L1518.1,600.0 L1518.1,602.0 L1518.0,604.0 L1518.0,606.0 L1517.9,608.0 L1517.9,610.0 L1517.8,612.0 L1517.7,614.0 L1517.7,616.0 L1517.6,618.0 L1517.5,620.0 M1518.5,620.0 L1518.5,618.0 L1518.6,616.1 L1518.6,614.1 L1518.6,612.1 L1518.7,610.2 L1518.7,608.2 L1518.7,606.2 L1518.8,604.2 L1518.8,602.3 L1518.8,600.3 L1518.9,598.3 L1518.9,596.3 L1518.9,594.4 L1519.0,592.4 L1519.0,590.4 L1519.0,588.4 L1519.1,586.4 L1519.1,584.4 L1519.2,582.5 L1519.2,580.5 L1519.2,578.5 L1519.3,576.5 L1519.3,574.5 L1519.3,572.5 L1519.4,570.5 L1519.4,568.5 L1519.5,566.6 L1519.5,564.6 L1519.5,562.6 L1519.6,560.6 L1519.6,558.6 L1519.6,556.6 L1519.7,554.6 L1519.7,552.6 L1519.8,550.6 L1519.8,548.6 L1519.9,546.6 L1519.9,544.6 L1519.9,542.6 L1520.0,540.6 L1520.0,538.6 L1520.1,536.6 L1520.1,534.6 L1520.2,532.6 L1520.2,530.6 L1520.2,528.6 L1520.3,526.6 L1520.3,524.5 L1520.4,522.5 L1520.4,520.5 L1520.5,518.5 L1520.5,516.5 L1520.6,514.5 L1520.6,512.5 L1520.7,510.5 L1520.7,508.5 L1520.8,506.5 L1520.8,504.4 L1520.9,502.4 L1521.0,500.4 L1521.0,498.4 L1521.1,496.4 L1521.1,494.4 L1521.2,492.3 L1521.2,490.3 L1521.3,488.3 L1521.4,486.3 L1521.4,484.3 L1521.5,482.3 L1521.5,480.2 L1521.6,478.2 L1521.7,476.2 L1521.7,474.2 L1521.8,472.2 L1521.9,470.1 L1521.9,468.1 L1522.0,466.1 L1522.1,464.1 L1522.1,462.1 L1522.2,460.0 L1522.3,458.0 L1522.4,456.0 L1522.4,454.0 L1522.5,451.9 L1522.6,449.9 L1522.7,447.9 L1522.7,445.9 L1522.8,443.8 L1522.9,441.8 L1523.0,439.8 L1523.1,437.8 L1523.2,435.7 L1523.2,433.7 L1523.3,431.7 L1523.4,429.7 L1523.5,427.6 L1523.6,425.6 L1523.7,423.6 L1523.8,421.6 L1523.9,419.5 L1524.0,417.5 L1524.1,415.5 L1524.1,413.5 L1524.2,411.4 L1524.3,409.4 L1524.4,407.4 L1524.5,405.4 L1524.6,403.3 L1524.8,401.3 L1524.9,399.3 L1525.0,397.3 L1525.1,395.2 L1525.2,393.2 L1525.3,391.2 L1525.4,389.2 L1525.5,387.1 L1525.6,385.1 L1525.7,383.1 L1525.9,381.1 L1526.0,379.0 L1526.1,377.0 L1526.2,375.0 L1526.3,373.0 L1526.5,370.9 L1526.6,368.9 L1526.7,366.9 L1526.9,364.9 L1527.0,362.9 L1527.1,360.8 L1527.2,358.8 L1527.4,356.8 L1527.5,354.8 L1527.7,352.7 L1527.8,350.7 L1527.9,348.7 L1528.1,346.7 L1528.2,344.7 L1528.4,342.6 L1528.5,340.6 L1528.7,338.6 L1528.8,336.6 L1529.0,334.6 L1529.1,332.6 L1529.3,330.5 L1529.4,328.5 L1529.6,326.5 L1529.8,324.5 L1529.9,322.5 L1530.1,320.5 L1530.3,318.4 L1530.4,316.4 L1530.6,314.4 L1530.8,312.4 L1530.9,310.4 L1531.1,308.4 L1531.3,306.4 L1531.5,304.4 L1531.7,302.4 L1531.8,300.3 L1532.0,298.3 L1532.2,296.3 L1532.4,294.3 L1532.6,292.3 L1532.8,290.3 L1533.0,288.3 L1533.2,286.3 L1533.4,284.3 L1533.6,282.3 L1533.8,280.3 L1534.0,278.3 L1534.2,276.3 L1534.4,274.3 L1534.6,272.3 L1534.8,270.3 L1535.1,268.3 L1535.3,266.3 L1535.5,264.3 L1535.7,262.3 L1535.9,260.3 L1536.2,258.3 L1536.4,256.3 L1536.6,254.3 L1536.9,252.3 L1537.1,250.4 L1537.3,248.4 L1537.6,246.4 L1537.8,244.4 L1538.0,242.4 L1538.3,240.4 L1538.5,238.4 L1538.8,236.4 L1539.0,234.5 L1539.3,232.5 L1539.6,230.5 L1539.8,228.5 L1540.1,226.5 L1540.3,224.6 L1540.6,222.6 L1540.9,220.6 L1541.1,218.6 L1541.4,216.7 L1541.7,214.7 L1542.0,212.7 L1542.3,210.8 L1542.5,208.8 L1542.8,206.8 L1543.1,204.8 L1543.4,202.9 L1543.7,200.9 L1544.0,199.0 L1544.3,197.0 L1544.6,195.0 L1544.9,193.1 L1545.2,191.1 L1545.6,189.2 L1545.9,187.2 L1546.2,185.3 L1546.5,183.3 L1546.9,181.4 L1547.2,179.4 L1547.6,177.5 L1548.0,175.6 L1548.3,173.6 L1548.7,171.7 L1549.1,169.8 L1549.5,167.8 L1549.9,165.9 L1550.3,164.0 L1550.7,162.1 L1551.2,160.2 L1551.6,158.3 L1552.1,156.4 L1552.5,154.5 L1553.0,152.6 L1553.5,150.7 L1554.0,148.8 L1554.5,146.9 L1555.0,145.0 L1555.5,143.2 L1556.1,141.3 L1556.6,139.4 L1557.2,137.6 L1557.8,135.7 L1558.4,133.9 L1559.0,132.0 L1559.6,130.2 L1560.3,128.3 L1560.9,126.5 L1561.6,124.7 L1562.3,122.9 L1563.0,121.1 L1563.7,119.3 L1564.5,117.5 L1565.2,115.7 L1566.0,113.9 L1566.8,112.1 L1567.6,110.3 L1568.4,108.5 L1569.2,106.8 L1570.1,105.0 L1571.0,103.3 L1571.9,101.5 L1572.8,99.8 L1573.7,98.1 L1574.7,96.3 L1575.7,94.6 L1576.7,92.9 L1577.7,91.2 L1578.7,89.5 L1579.8,87.8 L1580.9,86.2 L1582.0,84.5 L1583.1,82.8 L1584.3,81.2 L1585.4,79.5 L1586.6,77.9 L1587.9,76.3 L1589.1,74.7 L1590.4,73.0 L1591.7,71.4 L1593.0,69.8 L1594.4,68.3 L1595.7,66.7 L1597.1,65.1 L1598.5,63.6 L1600.0,62.0 L1601.5,60.5 L1603.0,58.9" stroke="#1410c8" stroke-width="5.5" stroke-dasharray="4.5 1.8" clip-path="url(#bdip)"/>
<path d="M183.3,185.7 L185.0,186.7 L186.8,187.7 L188.5,188.7 L190.2,189.7 L191.9,190.8 L193.6,191.8 L195.3,192.9 L197.0,193.9 L198.7,195.0 L200.4,196.1 L202.1,197.1 L203.8,198.2 L205.5,199.3 L207.1,200.4 L208.8,201.6 L210.5,202.7 L212.1,203.8 L213.8,204.9 L215.4,206.1 L217.1,207.2 L218.7,208.4 L220.3,209.6 L222.0,210.7 L223.6,211.9 L225.2,213.1 L226.8,214.3 L228.4,215.5 L230.0,216.7 L231.6,218.0 L233.2,219.2 L234.8,220.4 L236.4,221.7 L238.0,222.9 L239.5,224.2 L241.1,225.5 L242.7,226.7 L244.2,228.0 L245.8,229.3 L247.3,230.6 L248.8,231.9 L250.4,233.2 L251.9,234.5 L253.4,235.8 L254.9,237.2 L256.4,238.5 L257.9,239.9 L259.4,241.2 L260.9,242.6 L262.4,243.9 L263.9,245.3 L265.4,246.7 L266.8,248.1 L268.3,249.5 L269.8,250.9 L271.2,252.3 L272.6,253.7 L274.1,255.1 L275.5,256.5 L276.9,257.9 L278.4,259.4 L279.8,260.8 L281.2,262.3 L282.6,263.7 L284.0,265.2 L285.3,266.7 L286.7,268.1 L288.1,269.6 L289.5,271.1 L290.8,272.6 L292.2,274.1 L293.5,275.6 L294.9,277.1 L296.2,278.7 L297.5,280.2 L298.8,281.7 L300.1,283.2 L301.5,284.8 L302.7,286.3 L304.0,287.9 L305.3,289.5 L306.6,291.0 L307.9,292.6 L309.1,294.2 L310.4,295.7 L311.6,297.3 L312.9,298.9 L314.1,300.5 L315.3,302.1 L316.6,303.7 L317.8,305.4 L319.0,307.0 L320.2,308.6 L321.4,310.2 L322.5,311.9 L323.7,313.5 L324.9,315.2 L326.0,316.8 L327.2,318.5 L328.3,320.2 L329.5,321.8 L330.6,323.5 L331.7,325.2 L332.8,326.9 L333.9,328.5 L335.0,330.2 L336.1,331.9 L337.2,333.6 L338.3,335.4 L339.3,337.1 L340.4,338.8 L341.4,340.5 L342.5,342.2 L343.5,344.0 L344.5,345.7 L345.6,347.4 L346.6,349.2 L347.6,350.9 L348.5,352.7 L349.5,354.5 L350.5,356.2 L351.5,358.0 L352.4,359.8 L353.4,361.5 L354.3,363.3 L355.2,365.1 L356.2,366.9 L357.1,368.7 L358.0,370.5 L358.9,372.3 L359.8,374.1 L360.6,375.9 L361.5,377.7 L362.4,379.6 L363.2,381.4 L364.1,383.2 L364.9,385.0 L365.7,386.9 L366.5,388.7 L367.4,390.6 L368.2,392.4 L368.9,394.3 L369.7,396.1 L370.5,398.0 L371.2,399.8 L372.0,401.7 L372.7,403.6 L373.5,405.4 L374.2,407.3 L374.9,409.2 L375.6,411.1 L376.3,413.0 L377.0,414.8 L377.7,416.7 L378.3,418.6 L379.0,420.5 L379.6,422.4 L380.3,424.3 L380.9,426.3 L381.5,428.2 L382.1,430.1 L382.7,432.0 L383.3,433.9 L383.9,435.9 L384.5,437.8 L385.0,439.7 L385.6,441.6 L386.1,443.6 L386.6,445.5 L387.1,447.5 L387.6,449.4 L388.1,451.4 L388.6,453.3 L389.1,455.3 L389.6,457.2 L390.0,459.2 L390.5,461.1 L390.9,463.1 M450.7,483.5 L451.1,481.5 L451.6,479.5 L452.1,477.5 L452.6,475.6 L453.1,473.6 L453.6,471.6 L454.1,469.7 L454.7,467.7 L455.3,465.8 L455.8,463.8 L456.4,461.9 L457.0,459.9 L457.6,458.0 L458.3,456.1 L458.9,454.2 L459.6,452.2 L460.3,450.3 L460.9,448.4 L461.6,446.5 L462.3,444.6 L463.1,442.8 L463.8,440.9 L464.6,439.0 L465.3,437.1 L466.1,435.3 L466.9,433.4 L467.7,431.6 L468.5,429.7 L469.3,427.9 L470.2,426.1 L471.0,424.2 L471.9,422.4 L472.8,420.6 L473.6,418.8 L474.5,417.0 L475.5,415.2 L476.4,413.4 L477.3,411.7 L478.3,409.9 L479.2,408.1 L480.2,406.4 L481.2,404.6 L482.2,402.9 L483.2,401.2 L484.2,399.4 L485.2,397.7 L486.3,396.0 L487.3,394.3 L488.4,392.6 L489.5,390.9 L490.6,389.2 L491.7,387.6 L492.8,385.9 L493.9,384.2 L495.0,382.6 L496.1,380.9 L497.3,379.3 L498.5,377.7 L499.6,376.1 L500.8,374.5 L502.0,372.9 L503.2,371.3 L504.4,369.7 L505.7,368.1 L506.9,366.5 L508.1,365.0 L509.4,363.4 L510.6,361.9 L511.9,360.4 L513.2,358.8 L514.5,357.3 L515.8,355.8 L517.1,354.3 L518.4,352.8 L519.8,351.3 L521.1,349.9 L522.5,348.4 L523.8,347.0 L525.2,345.5 L526.6,344.1 L528.0,342.7 L529.4,341.3 L530.8,339.8 L532.2,338.5 L533.6,337.1 L535.0,335.7 L536.5,334.3 L537.9,333.0 L539.4,331.6 L540.9,330.3 L542.3,329.0 L543.8,327.6 L545.3,326.3 L546.8,325.0 L548.3,323.8 L549.9,322.5 L551.4,321.2 L552.9,320.0 L554.5,318.7 L556.0,317.5 L557.6,316.3 L559.1,315.1 L560.7,313.9 L562.3,312.7 L563.9,311.5 L565.5,310.3 L567.1,309.2 L568.7,308.0 L570.3,306.9 L571.9,305.7 L573.6,304.6 L575.2,303.5 L576.9,302.4 L578.5,301.4 L580.2,300.3 L581.8,299.2 L583.5,298.2 L585.2,297.2 L586.9,296.1 L588.6,295.1 L590.3,294.1 L592.0,293.1 L593.7,292.2 L595.4,291.2 L597.2,290.2 L598.9,289.3 L600.6,288.3 L602.4,287.4 L604.1,286.5 L605.9,285.6 L607.7,284.7 L609.4,283.8 L611.2,282.9 L613.0,282.1 L614.8,281.2 L616.6,280.4 L618.4,279.5 L620.2,278.7 L622.0,277.9 L623.8,277.1 L625.6,276.3 L627.4,275.5 L629.3,274.7 L631.1,273.9 L632.9,273.2 L634.8,272.4 L636.6,271.7 L638.5,270.9 L640.3,270.2 L642.2,269.5 L644.1,268.8 L646.0,268.1 L647.8,267.4 L649.7,266.7 L651.6,266.0 L653.5,265.4 L655.4,264.7 L657.3,264.0 L659.2,263.4 L661.1,262.8 L663.0,262.1 L664.9,261.5 L666.8,260.9 L668.8,260.3 L670.7,259.7 L672.6,259.1 L674.6,258.5 L676.5,258.0 L678.4,257.4 L680.4,256.8 L682.3,256.3 L684.3,255.7 L686.2,255.2 L688.2,254.7 L690.1,254.1 L692.1,253.6 L694.1,253.1 L696.0,252.6 L698.0,252.1 L700.0,251.6 L702.0,251.1 L703.9,250.6 L705.9,250.2 L707.9,249.7 L709.9,249.2 L711.9,248.8 L713.9,248.3 L715.9,247.9 L717.9,247.4 L719.9,247.0 L721.9,246.6 L723.9,246.1 L725.9,245.7 L727.9,245.3 L729.9,244.9 L731.9,244.5 L733.9,244.1 L735.9,243.7 L737.9,243.3 L740.0,242.9 L742.0,242.6 L744.0,242.2 L746.0,241.8 L748.0,241.5 L750.1,241.1 L752.1,240.8 L754.1,240.4 L756.1,240.1 L758.1,239.7 L760.2,239.4 L762.2,239.0 L764.2,238.7 L766.3,238.4 L768.3,238.1 L770.3,237.8 L772.3,237.4 L774.4,237.1 L776.4,236.8 L778.4,236.5 L780.5,236.2 L782.5,235.9 L784.5,235.6 L786.6,235.3 L788.6,235.0 L790.6,234.8 L792.7,234.5 L794.7,234.2 L796.7,233.9 L798.7,233.6 L800.8,233.4 L802.8,233.1 L804.8,232.8 L806.9,232.6 L808.9,232.3 L810.9,232.0 L812.9,231.8 L815.0,231.5 L817.0,231.3 L819.0,231.0 L821.0,230.8 L823.0,230.5 L825.1,230.3 L827.1,230.0 L829.1,229.8 L831.1,229.5 L833.1,229.3 L835.1,229.0 L837.1,228.8 L839.1,228.6 L841.1,228.3 L843.1,228.1 L845.1,227.9 L847.1,227.6 L849.1,227.4 L851.1,227.2 L853.1,226.9 L855.1,226.7 L857.1,226.5 L859.1,226.2 L861.1,226.0 L863.1,225.8 L865.1,225.6 L867.1,225.3 L869.1,225.1 L871.0,224.9 L873.0,224.7 L875.0,224.4 L877.0,224.2 L879.0,224.0 L880.9,223.8 L882.9,223.6 L884.9,223.4 L886.9,223.1 L888.8,222.9 L890.8,222.7 L892.8,222.5 L894.7,222.3 L896.7,222.1 L898.7,221.9 L900.7,221.7 L902.6,221.5 L904.6,221.3 L906.6,221.1 L908.5,220.9 L910.5,220.7 L912.5,220.5 L914.4,220.3 L916.4,220.1 L918.3,219.9 L920.3,219.7 L922.3,219.5 L924.2,219.3 L926.2,219.1 L928.1,218.9 L930.1,218.7 L932.1,218.5 L934.0,218.3 L936.0,218.1 L938.0,218.0 L939.9,217.8 L941.9,217.6 L943.8,217.4 L945.8,217.2 L947.8,217.0 L949.7,216.9 L951.7,216.7 L953.6,216.5 L955.6,216.3 L957.6,216.2 L959.5,216.0 L961.5,215.8 L963.4,215.6 L965.4,215.5 L967.4,215.3 L969.3,215.1 L971.3,215.0 L973.2,214.8 L975.2,214.6 L977.2,214.5 L979.1,214.3 L981.1,214.1 L983.1,214.0 L985.0,213.8 L987.0,213.7 L989.0,213.5 L990.9,213.3 L992.9,213.2 L994.9,213.0 L996.9,212.9 L998.8,212.7 L1000.8,212.6 L1002.8,212.4 L1004.7,212.3 L1006.7,212.1 L1008.7,212.0 L1010.7,211.8 L1012.7,211.7 L1014.6,211.5 L1016.6,211.4 L1018.6,211.2 L1020.6,211.1 L1022.6,211.0 L1024.5,210.8 L1026.5,210.7 L1028.5,210.6 L1030.5,210.4 L1032.5,210.3 L1034.5,210.1 L1036.5,210.0 L1038.5,209.9 L1040.5,209.8 L1042.5,209.6 L1044.5,209.5 L1046.5,209.4 L1048.5,209.2 L1050.5,209.1 L1052.5,209.0 L1054.5,208.9 L1056.5,208.7 L1058.5,208.6 L1060.6,208.5 L1062.6,208.4 L1064.6,208.3 L1066.6,208.2 L1068.6,208.0 L1070.7,207.9 L1072.7,207.8 L1074.7,207.7 L1076.7,207.6 L1078.8,207.5 L1080.8,207.4 L1082.8,207.3 L1084.9,207.2 L1086.9,207.0 L1089.0,206.9 L1091.0,206.8 L1093.1,206.7 L1095.1,206.6 L1097.2,206.5 L1099.2,206.4 L1101.3,206.3 L1103.3,206.2 L1105.4,206.1 L1107.5,206.1 L1109.5,206.0 L1111.6,205.9 L1113.7,205.8 L1115.8,205.7 L1117.8,205.6 L1119.9,205.6 L1122.0,205.5 L1124.0,205.4 L1126.1,205.4 L1128.2,205.3 L1130.3,205.3 L1132.3,205.2 L1134.4,205.2 L1136.5,205.2 L1138.5,205.2 L1140.6,205.2 L1142.7,205.2 L1144.7,205.2 L1146.8,205.2 L1148.8,205.2 L1150.9,205.3 L1153.0,205.3 L1155.0,205.4 L1157.0,205.5 L1159.1,205.6 L1161.1,205.7 L1163.2,205.8 L1165.2,205.9 L1167.2,206.1 L1169.2,206.2 L1171.3,206.4 L1173.3,206.6 L1175.3,206.8 L1177.3,207.0 L1179.3,207.2 L1181.3,207.4 L1183.2,207.7 L1185.2,208.0 L1187.2,208.3 L1189.2,208.6 L1191.1,208.9 L1193.1,209.3 L1195.0,209.6 L1196.9,210.0 L1198.9,210.4 L1200.8,210.9 L1202.7,211.3 L1204.6,211.8 L1206.5,212.3 L1208.4,212.8 L1210.2,213.3 L1212.1,213.9 L1214.0,214.4 L1215.8,215.1 L1217.6,215.7 L1219.5,216.3 L1221.3,217.0 L1223.1,217.7 L1224.9,218.4 L1226.7,219.2 L1228.4,219.9 L1230.2,220.7 L1231.9,221.6 L1233.7,222.4 L1235.4,223.3 L1237.1,224.2 L1238.8,225.1 L1240.5,226.0 L1242.1,227.0 L1243.8,228.0 L1245.4,229.0 L1247.0,230.0 L1248.6,231.0 L1250.2,232.1 L1251.8,233.2 L1253.3,234.4 L1254.9,235.5 L1256.4,236.7 L1257.9,237.9 L1259.4,239.1 L1260.8,240.3 L1262.3,241.6 L1263.7,242.9 L1265.1,244.2 L1266.5,245.5 L1267.8,246.9 L1269.2,248.3 L1270.5,249.7 L1271.8,251.1 L1273.1,252.5 L1274.3,254.0 L1275.6,255.5 L1276.8,257.0 L1278.0,258.5 L1279.2,260.1 L1280.3,261.7 L1281.4,263.3 L1282.5,264.9 L1283.6,266.5 L1284.6,268.2 L1285.7,269.9 L1286.6,271.6 L1287.6,273.3 L1288.6,275.1 L1289.5,276.9 L1290.4,278.7 L1291.2,280.5 L1292.1,282.3 L1292.9,284.2 L1293.6,286.1 L1294.4,288.0 L1295.1,289.9 L1295.8,291.8 L1296.5,293.8 L1297.1,295.8 L1297.7,297.8 L1298.3,299.9 L1298.8,301.9 L1299.3,304.0 L1299.8,306.1 L1300.2,308.2 L1300.6,310.3 L1301.0,312.5 L1301.4,314.7 L1301.7,316.9 L1302.0,319.1 L1302.2,321.3 M1358.8,239.8 L1359.6,238.1 L1360.4,236.4 L1361.2,234.6 L1361.9,232.8 L1362.5,231.0 L1363.2,229.2 L1363.8,227.3 L1364.4,225.4 L1365.0,223.5 L1365.6,221.5 L1366.1,219.6 L1366.7,217.6 L1367.2,215.6 L1367.7,213.6 L1368.3,211.6 L1368.8,209.6 L1369.3,207.5 L1369.9,205.5 L1370.5,203.5 L1371.1,201.4 L1371.7,199.4 L1372.3,197.4 L1373.0,195.4 L1373.7,193.3 L1374.4,191.3 L1375.2,189.3 L1376.0,187.4 L1376.8,185.4 L1377.7,183.5 L1378.7,181.5 L1379.7,179.6 L1380.8,177.7 L1381.9,175.9 L1383.1,174.1 L1384.3,172.3 L1385.6,170.6 L1386.9,169.0 L1388.3,167.4 L1389.7,165.9 L1391.1,164.4 L1392.6,163.1 L1394.2,161.9 L1395.7,160.8 L1397.3,159.8 L1398.9,158.9 L1400.6,158.1 L1402.2,157.5 L1403.9,157.1 L1405.6,156.7 L1407.3,156.5 L1408.9,156.5 L1410.6,156.5 L1412.2,156.7 L1413.8,157.1 L1415.4,157.6 L1417.0,158.2 L1418.5,158.9 L1420.0,159.8 L1421.4,160.8 L1422.8,161.8 L1424.2,163.0 L1425.6,164.3 L1426.9,165.6 L1428.2,167.0 L1429.4,168.5 L1430.6,170.0 L1431.8,171.6 L1433.0,173.2 L1434.2,174.9 L1435.3,176.6 L1436.4,178.3 L1437.4,180.1 L1438.5,181.9 L1439.5,183.7 L1440.5,185.6 L1441.5,187.5 L1442.5,189.4 L1443.4,191.4 L1444.4,193.3 L1445.3,195.3 L1446.2,197.3 L1447.0,199.3 L1447.9,201.3 L1448.7,203.3 L1449.6,205.4 L1450.4,207.4 L1451.2,209.4 L1452.0,211.5 L1452.8,213.5 L1453.6,215.5 L1454.3,217.6 L1455.1,219.6 L1455.9,221.6 L1456.6,223.5 L1457.3,225.5 L1458.1,227.5 L1458.8,229.4 L1459.5,231.3 L1460.3,233.2 L1461.0,235.0 L1461.7,236.9 L1462.4,238.7 L1463.1,240.5 L1463.8,242.3 L1464.5,244.1 L1465.2,245.9 L1465.9,247.7 L1466.6,249.5 L1467.3,251.2 L1467.9,253.0 L1468.6,254.8 L1469.3,256.5 L1469.9,258.3 L1470.6,260.1 L1471.2,261.9 L1471.9,263.7 L1472.5,265.5 L1473.2,267.3 L1473.8,269.2 L1474.4,271.0 L1475.0,272.9 L1475.6,274.8 L1476.2,276.7 L1476.8,278.6 L1477.4,280.6 L1478.0,282.6 L1478.6,284.6 L1479.1,286.7 L1479.7,288.7 L1480.3,290.9 L1480.8,293.0 M1540.8,350.4 L1541.5,348.5 L1542.3,346.6 L1543.0,344.6 L1543.7,342.7 L1544.5,340.8 L1545.2,338.9 L1546.0,337.0 L1546.8,335.0 L1547.5,333.1 L1548.3,331.2 L1549.1,329.3 L1549.8,327.4 L1550.6,325.5 L1551.4,323.5 L1552.2,321.6 L1553.0,319.7 L1553.9,317.8 L1554.7,315.9 L1555.5,314.0 L1556.4,312.2 L1557.2,310.3 L1558.1,308.4 L1558.9,306.5 L1559.8,304.6 L1560.7,302.8 L1561.6,300.9 L1562.5,299.1 L1563.5,297.2 L1564.4,295.4 L1565.4,293.5 L1566.3,291.7 L1567.3,289.9 L1568.3,288.1 L1569.3,286.3 L1570.3,284.5 L1571.4,282.7 L1572.4,281.0 L1573.5,279.2 L1574.5,277.4 L1575.6,275.7 L1576.7,274.0 L1577.9,272.2 L1579.0,270.5 L1580.2,268.8 L1581.3,267.1 L1582.5,265.5 L1583.7,263.8 L1585.0,262.1 L1586.2,260.5 L1587.5,258.9 L1588.8,257.3 L1590.1,255.7 L1591.4,254.1 L1592.8,252.5 L1594.1,251.0 L1595.5,249.4 L1596.9,247.9 L1598.4,246.4 L1599.8,244.9 L1601.3,243.4 L1602.8,241.9 L1604.3,240.5" stroke="#cc00c0" stroke-width="8"/>
</g>
<rect x="558.8" y="875" width="8" height="73" fill="#0b06cc"/>
<g fill="#b0189c">
<rect x="389.9" y="470.9" width="7.5" height="7.5"/>
<rect x="392.2" y="481.8" width="7.5" height="7.5"/>
<rect x="394.6" y="492.6" width="7.5" height="7.5"/>
<rect x="395.9" y="506.2" width="7.5" height="7.5"/>
<rect x="398.4" y="519.9" width="7.5" height="7.5"/>
<rect x="401.1" y="536.1" width="7.5" height="7.5"/>
<rect x="404.1" y="552.9" width="7.5" height="7.5"/>
<rect x="406.6" y="574.6" width="7.5" height="7.5"/>
<rect x="408.9" y="598.8" width="7.5" height="7.5"/>
<rect x="409.9" y="631.6" width="7.5" height="7.5"/>
<rect x="412.1" y="676.0" width="7.5" height="7.5"/>
<rect x="412.1" y="741.5" width="7.5" height="7.5"/>
<rect x="422.1" y="838.8" width="7.5" height="7.5"/>
<rect x="423.2" y="722.1" width="7.5" height="7.5"/>
<rect x="425.8" y="664.9" width="7.5" height="7.5"/>
<rect x="427.4" y="626.4" width="7.5" height="7.5"/>
<rect x="429.6" y="596.4" width="7.5" height="7.5"/>
<rect x="431.4" y="574.6" width="7.5" height="7.5"/>
<rect x="434.1" y="553.1" width="7.5" height="7.5"/>
<rect x="436.4" y="536.5" width="7.5" height="7.5"/>
<rect x="439.1" y="522.5" width="7.5" height="7.5"/>
<rect x="442.1" y="509.0" width="7.5" height="7.5"/>
<rect x="444.9" y="498.1" width="7.5" height="7.5"/>
<rect x="445.8" y="487.2" width="7.5" height="7.5"/>
<rect x="1300.2" y="329.1" width="7.5" height="7.5"/>
<rect x="1303.0" y="342.4" width="7.5" height="7.5"/>
<rect x="1305.7" y="356.1" width="7.5" height="7.5"/>
<rect x="1308.0" y="372.8" width="7.5" height="7.5"/>
<rect x="1310.8" y="392.1" width="7.5" height="7.5"/>
<rect x="1313.7" y="416.6" width="7.5" height="7.5"/>
<rect x="1315.2" y="449.4" width="7.5" height="7.5"/>
<rect x="1317.0" y="495.2" width="7.5" height="7.5"/>
<rect x="1319.3" y="574.6" width="7.5" height="7.5"/>
<rect x="1324.3" y="582.5" width="7.5" height="7.5"/>
<rect x="1321.5" y="956.0" width="7.5" height="7.5"/>
<rect x="1327.2" y="493.4" width="7.5" height="7.5"/>
<rect x="1330.2" y="440.8" width="7.5" height="7.5"/>
<rect x="1333.0" y="402.9" width="7.5" height="7.5"/>
<rect x="1334.8" y="374.6" width="7.5" height="7.5"/>
<rect x="1335.8" y="350.8" width="7.5" height="7.5"/>
<rect x="1338.3" y="329.1" width="7.5" height="7.5"/>
<rect x="1340.8" y="312.6" width="7.5" height="7.5"/>
<rect x="1343.3" y="296.8" width="7.5" height="7.5"/>
<rect x="1346.2" y="282.9" width="7.5" height="7.5"/>
<rect x="1349.2" y="268.9" width="7.5" height="7.5"/>
<rect x="1350.8" y="257.9" width="7.5" height="7.5"/>
<rect x="1352.5" y="246.8" width="7.5" height="7.5"/>
<rect x="1478.2" y="298.1" width="7.5" height="7.5"/>
<rect x="1480.3" y="309.4" width="7.5" height="7.5"/>
<rect x="1483.8" y="321.9" width="7.5" height="7.5"/>
<rect x="1485.8" y="335.2" width="7.5" height="7.5"/>
<rect x="1488.2" y="347.8" width="7.5" height="7.5"/>
<rect x="1490.5" y="364.9" width="7.5" height="7.5"/>
<rect x="1492.8" y="380.6" width="7.5" height="7.5"/>
<rect x="1495.2" y="399.9" width="7.5" height="7.5"/>
<rect x="1496.8" y="423.8" width="7.5" height="7.5"/>
<rect x="1499.2" y="450.6" width="7.5" height="7.5"/>
<rect x="1502.0" y="485.1" width="7.5" height="7.5"/>
<rect x="1504.2" y="531.5" width="7.5" height="7.5"/>
<rect x="1506.8" y="607.5" width="7.5" height="7.5"/>
<rect x="1511.5" y="659.1" width="7.5" height="7.5"/>
<rect x="1509.7" y="823.0" width="7.5" height="7.5"/>
<rect x="1513.2" y="562.1" width="7.5" height="7.5"/>
<rect x="1515.5" y="510.0" width="7.5" height="7.5"/>
<rect x="1517.8" y="474.9" width="7.5" height="7.5"/>
<rect x="1520.0" y="446.4" width="7.5" height="7.5"/>
<rect x="1523.5" y="424.9" width="7.5" height="7.5"/>
<rect x="1525.8" y="407.9" width="7.5" height="7.5"/>
<rect x="1528.0" y="392.4" width="7.5" height="7.5"/>
<rect x="1530.2" y="378.4" width="7.5" height="7.5"/>
<rect x="1532.0" y="367.1" width="7.5" height="7.5"/>
<rect x="1534.3" y="356.2" width="7.5" height="7.5"/>
</g>
<g stroke-width="2.4" fill="none">
<line x1="184.5" y1="30.2" x2="1603.5" y2="30.2" stroke="#b4b4b4"/>
<line x1="184.5" y1="30.2" x2="184.5" y2="1127.0" stroke="#a8a8a8"/>
<line x1="1603.5" y1="30.2" x2="1603.5" y2="1127.0" stroke="#a8a8a8"/>
<line x1="183.5" y1="1127.0" x2="1604.5" y2="1127.0" stroke="#000"/>
</g>
<g stroke-width="2.4">
<line x1="184.5" y1="152.1" x2="198.5" y2="152.1" stroke="#111"/>
<line x1="1589.5" y1="152.1" x2="1603.5" y2="152.1" stroke="#111"/>
<line x1="184.5" y1="273.9" x2="198.5" y2="273.9" stroke="#bbb"/>
<line x1="1589.5" y1="273.9" x2="1603.5" y2="273.9" stroke="#bbb"/>
<line x1="184.5" y1="395.8" x2="198.5" y2="395.8" stroke="#111"/>
<line x1="1589.5" y1="395.8" x2="1603.5" y2="395.8" stroke="#111"/>
<line x1="184.5" y1="517.7" x2="198.5" y2="517.7" stroke="#111"/>
<line x1="1589.5" y1="517.7" x2="1603.5" y2="517.7" stroke="#111"/>
<line x1="184.5" y1="639.5" x2="198.5" y2="639.5" stroke="#f2f2f2"/>
<line x1="1589.5" y1="639.5" x2="1603.5" y2="639.5" stroke="#f2f2f2"/>
<line x1="184.5" y1="761.4" x2="198.5" y2="761.4" stroke="#111"/>
<line x1="1589.5" y1="761.4" x2="1603.5" y2="761.4" stroke="#111"/>
<line x1="184.5" y1="883.3" x2="198.5" y2="883.3" stroke="#999"/>
<line x1="1589.5" y1="883.3" x2="1603.5" y2="883.3" stroke="#999"/>
<line x1="184.5" y1="1005.1" x2="198.5" y2="1005.1" stroke="#111"/>
<line x1="1589.5" y1="1005.1" x2="1603.5" y2="1005.1" stroke="#111"/>
<line x1="421.0" y1="1112.5" x2="421.0" y2="1127.0" stroke="#111"/>
<line x1="421.0" y1="30.2" x2="421.0" y2="43.7" stroke="#111"/>
<line x1="657.5" y1="1112.5" x2="657.5" y2="1127.0" stroke="#222"/>
<line x1="657.5" y1="30.2" x2="657.5" y2="43.7" stroke="#222"/>
<line x1="894.0" y1="1112.5" x2="894.0" y2="1127.0" stroke="#bbb"/>
<line x1="894.0" y1="30.2" x2="894.0" y2="43.7" stroke="#bbb"/>
<line x1="1130.5" y1="1112.5" x2="1130.5" y2="1127.0" stroke="#111"/>
<line x1="1130.5" y1="30.2" x2="1130.5" y2="43.7" stroke="#111"/>
<line x1="1367.0" y1="1112.5" x2="1367.0" y2="1127.0" stroke="#111"/>
<line x1="1367.0" y1="30.2" x2="1367.0" y2="43.7" stroke="#111"/>
</g>
<rect x="341" y="44" width="1142.5" height="73" fill="#fff"/>
<line x1="341" y1="43.8" x2="1484" y2="43.8" stroke="#333" stroke-width="2.2"/>
<line x1="341" y1="117.4" x2="1484" y2="117.4" stroke="#b8b8b8" stroke-width="2.5"/>
<line x1="1483.8" y1="43" x2="1483.8" y2="118" stroke="#333" stroke-width="2"/>
<line x1="365.5" y1="79.3" x2="493" y2="79.3" stroke="#ff0000" stroke-width="7"/>
<line x1="638" y1="79" x2="763" y2="79" stroke="#0b0b9a" stroke-width="6" stroke-dasharray="5 1.2"/>
<line x1="904.6" y1="78.7" x2="1033" y2="78.7" stroke="#cdf5de" stroke-width="7"/>
<line x1="908.5" y1="78.7" x2="1033" y2="78.7" stroke="#82c6a0" stroke-width="6" stroke-dasharray="7 27"/>
<rect x="1236" y="75" width="8" height="8" fill="#b0189c"/>
<g class="lg">
<text x="503" y="93.3">u=2.0</text>
<text x="776" y="93.3">u=2.1</text>
<text x="1045.4" y="93.3">u=2.2</text>
<text x="1315.5" y="93.3">u=2.254</text>
</g>
<g fill="#000">
<rect x="416" y="99.4" width="8" height="9.3"/>
<rect x="416" y="126.8" width="8" height="26.0"/>
<rect x="416" y="170.5" width="8" height="26.0"/>
<rect x="416" y="214.2" width="8" height="26.0"/>
<rect x="416" y="257.9" width="8" height="26.0"/>
<rect x="416" y="301.6" width="8" height="26.0"/>
<rect x="416" y="345.3" width="8" height="26.0"/>
<rect x="416" y="389.0" width="8" height="26.0"/>
<rect x="416" y="432.7" width="8" height="26.0"/>
<rect x="416" y="476.4" width="8" height="26.0"/>
<rect x="416" y="520.1" width="8" height="26.0"/>
<rect x="416" y="563.8" width="8" height="26.0"/>
<rect x="416" y="607.5" width="8" height="26.0"/>
<rect x="416" y="651.2" width="8" height="26.0"/>
<rect x="416" y="694.9" width="8" height="26.0"/>
<rect x="416" y="738.6" width="8" height="26.0"/>
<rect x="416" y="782.3" width="8" height="26.0"/>
<rect x="416" y="826.0" width="8" height="26.0"/>
<rect x="416" y="869.7" width="8" height="26.0"/>
<rect x="416" y="913.4" width="8" height="26.0"/>
<rect x="416" y="957.1" width="8" height="26.0"/>
<rect x="416" y="1000.8" width="8" height="26.0"/>
<rect x="416" y="1044.5" width="8" height="26.0"/>
<rect x="416" y="1088.2" width="8" height="26.0"/>
</g>
<g fill="#ff0000">
<rect x="477.2" y="1050" width="8.7" height="10"/>
<rect x="493.9" y="1050" width="8.7" height="10"/>
<rect x="510.5" y="1050" width="8.7" height="10"/>
<rect x="527.2" y="1050" width="8.7" height="10"/>
<rect x="543.9" y="1050" width="8.7" height="10"/>
<rect x="560.5" y="1050" width="8.7" height="10"/>
<rect x="577.2" y="1050" width="8.7" height="10"/>
<rect x="593.9" y="1050" width="8.7" height="10"/>
<rect x="610.6" y="1050" width="8.7" height="10"/>
<rect x="627.2" y="1050" width="8.7" height="10"/>
<rect x="460.4" y="1050" width="9.2" height="10"/>
<path d="M423.7,1054.8 L473.8,1038 L458.6,1054.8 L473.8,1071.9 Z"/>
</g>
<g class="tk" text-anchor="end">
<text x="173.5" y="45.0">2</text>
<text x="173.5" y="166.9">1</text>
<text x="173.5" y="288.7">0</text>
<text x="173.5" y="410.6">-1</text>
<text x="173.5" y="532.5">-2</text>
<text x="173.5" y="654.3">-3</text>
<text x="173.5" y="776.2">-4</text>
<text x="173.5" y="898.1">-5</text>
<text x="173.5" y="1019.9">-6</text>
<text x="173.5" y="1141.8">-7</text>
</g>
<g class="tk" text-anchor="middle">
<text x="173.5" y="1177">-1</text>
<text x="421.0" y="1177">0</text>
<text x="657.5" y="1177">1</text>
<text x="894.0" y="1177">2</text>
<text x="1130.5" y="1177">3</text>
<text x="1367.0" y="1177">4</text>
<text x="1603.5" y="1177">5</text>
</g>
<g class="tm">
<text x="312.6" y="745.5" font-size="100">ω</text><text transform="translate(381.9,750.7) scale(0.73,1)" font-size="69.5" stroke="#000" stroke-width="1.2">1</text>
<text x="412.1" y="940.6" font-size="100">ω</text><text transform="translate(481.9,944.8) scale(0.73,1)" font-size="69.5" stroke="#000" stroke-width="1.2">1</text>
<text x="529.4" y="1009.8" font-size="100">ω</text><text transform="translate(598.9,1014.2) scale(0.73,1)" font-size="69.5" stroke="#000" stroke-width="1.2">1</text>
<text x="658.7" y="1102.1" font-size="100">ω</text><text transform="translate(728.2,1106) scale(0.73,1)" font-size="69.5" stroke="#000" stroke-width="1.2">1</text>
</g>
<text class="tm" x="446.8" y="1299" font-size="75">dimensionless frequency ω</text>
<text class="tm" transform="translate(75,719.6) rotate(-90)" font-size="75">log <tspan font-style="italic">h</tspan>(ω)</text>
</svg>
</body></html>
